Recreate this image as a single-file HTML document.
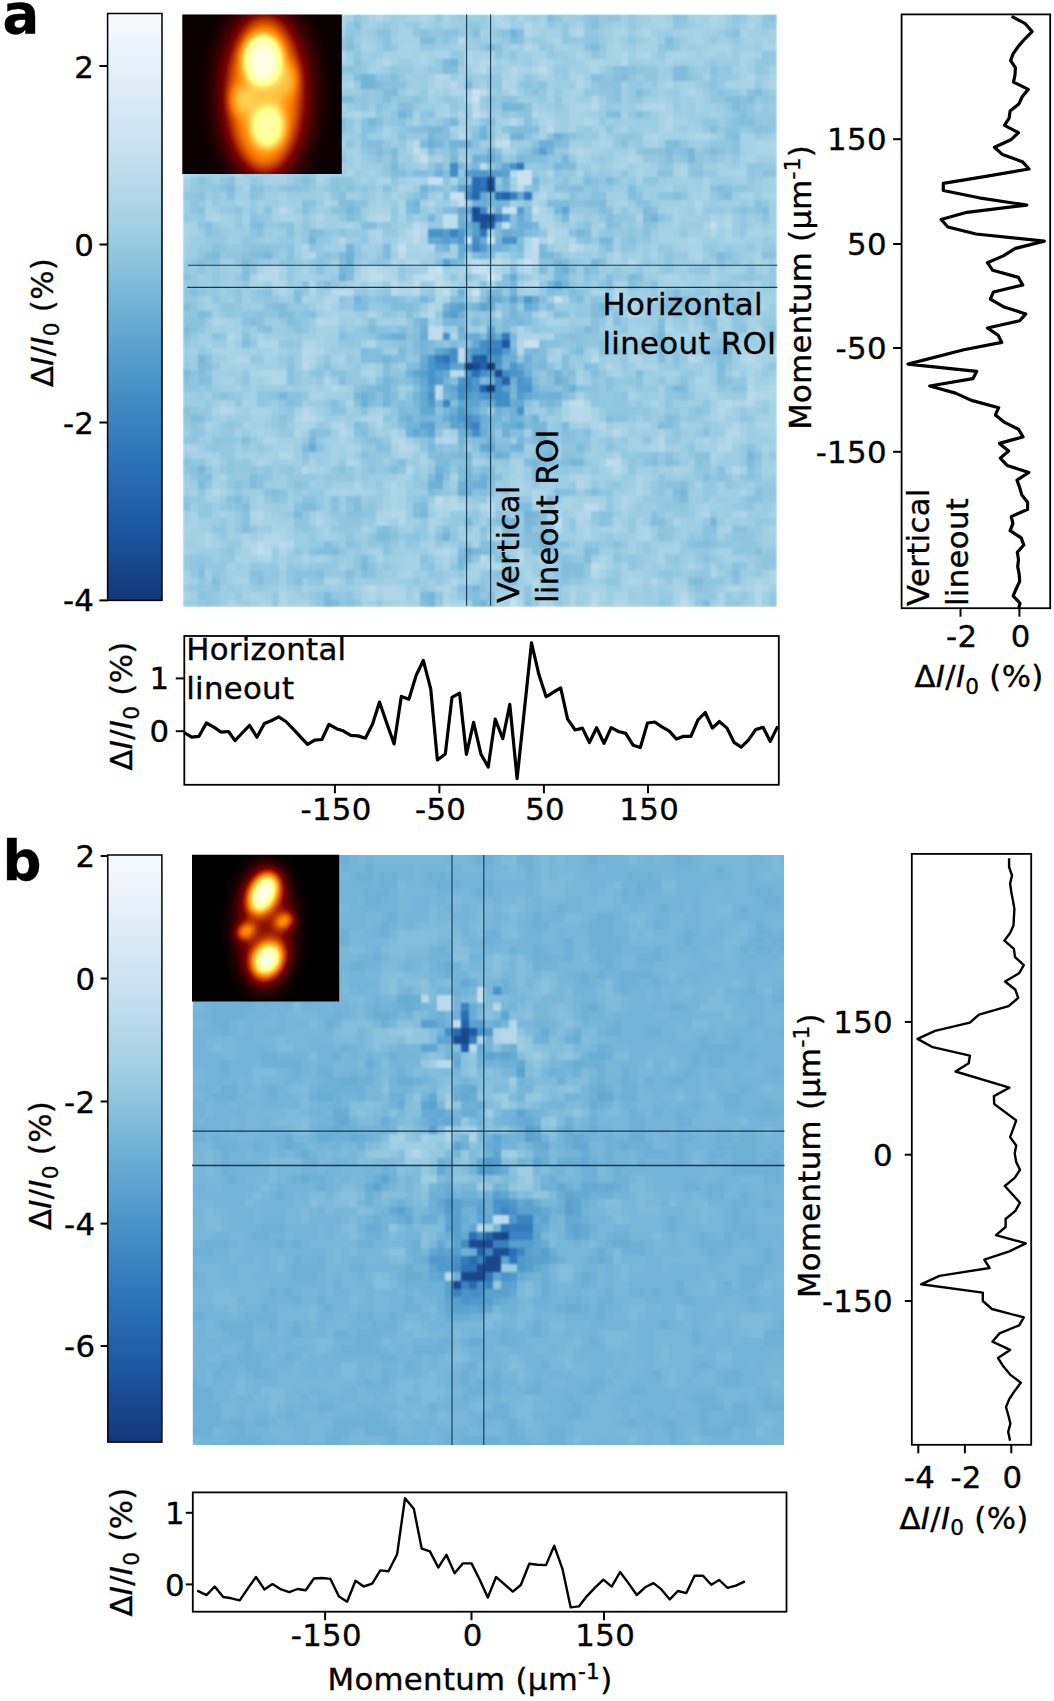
<!DOCTYPE html>
<html lang="en"><head><meta charset="utf-8"><title>Figure</title>
<style>html,body{margin:0;padding:0;background:#fff}svg{display:block}text{font-family:'DejaVu Sans','Liberation Sans',sans-serif;fill:#000;letter-spacing:0.30px;stroke:#000;stroke-width:0.35px}</style>
</head><body>
<svg width="1054" height="1701" viewBox="0 0 1054 1701">
<defs>
<linearGradient id="cb" x1="0" y1="0" x2="0" y2="1">
<stop offset="0.000" stop-color="#f7fbff"/>
<stop offset="0.125" stop-color="#deecf7"/>
<stop offset="0.250" stop-color="#c3dfef"/>
<stop offset="0.375" stop-color="#9ecee3"/>
<stop offset="0.500" stop-color="#70b2d7"/>
<stop offset="0.625" stop-color="#4a94c9"/>
<stop offset="0.750" stop-color="#2e75b9"/>
<stop offset="0.875" stop-color="#1c57a2"/>
<stop offset="1.000" stop-color="#143778"/>
</linearGradient>
<filter id="hot" x="0" y="0" width="1" height="1" color-interpolation-filters="sRGB"><feComponentTransfer><feFuncR type="table" tableValues="0 0.5 1 1 1"/><feFuncG type="table" tableValues="0 0 0.5 1 1"/><feFuncB type="table" tableValues="0 0 0 0.5 1"/></feComponentTransfer></filter>
<filter id="b2" x="-1" y="-1" width="3" height="3" color-interpolation-filters="sRGB"><feGaussianBlur stdDeviation="2"/></filter>
<filter id="b3" x="-1" y="-1" width="3" height="3" color-interpolation-filters="sRGB"><feGaussianBlur stdDeviation="3"/></filter>
<filter id="b4" x="-1" y="-1" width="3" height="3" color-interpolation-filters="sRGB"><feGaussianBlur stdDeviation="4"/></filter>
<filter id="b5" x="-1" y="-1" width="3" height="3" color-interpolation-filters="sRGB"><feGaussianBlur stdDeviation="5"/></filter>
<filter id="b6" x="-1" y="-1" width="3" height="3" color-interpolation-filters="sRGB"><feGaussianBlur stdDeviation="6"/></filter>
<filter id="b7" x="-1" y="-1" width="3" height="3" color-interpolation-filters="sRGB"><feGaussianBlur stdDeviation="7"/></filter>
<filter id="b8" x="-1" y="-1" width="3" height="3" color-interpolation-filters="sRGB"><feGaussianBlur stdDeviation="8"/></filter>
<filter id="b10" x="-1" y="-1" width="3" height="3" color-interpolation-filters="sRGB"><feGaussianBlur stdDeviation="10"/></filter>
<filter id="b12" x="-1" y="-1" width="3" height="3" color-interpolation-filters="sRGB"><feGaussianBlur stdDeviation="12"/></filter>
<filter id="b14" x="-1" y="-1" width="3" height="3" color-interpolation-filters="sRGB"><feGaussianBlur stdDeviation="14"/></filter>
<filter id="b16" x="-1" y="-1" width="3" height="3" color-interpolation-filters="sRGB"><feGaussianBlur stdDeviation="16"/></filter>
<filter id="b20" x="-1" y="-1" width="3" height="3" color-interpolation-filters="sRGB"><feGaussianBlur stdDeviation="20"/></filter>
<filter id="soft" x="-0.02" y="-0.02" width="1.04" height="1.04" color-interpolation-filters="sRGB"><feGaussianBlur stdDeviation="0.8"/></filter>
<clipPath id="ca"><rect x="182.3" y="14.4" width="159.5" height="159.7"/></clipPath>
<clipPath id="cbb"><rect x="192" y="854.7" width="147.2" height="146.9"/></clipPath>
</defs>
<rect width="1054" height="1701" fill="#fff"/>
<clipPath id="ha"><rect x="182.70" y="14.40" width="594.20" height="592.80"/></clipPath>
<g clip-path="url(#ha)"><g filter="url(#soft)"><g transform="translate(182.70 14.40) scale(7.4275 7.4100)" shape-rendering="crispEdges">
<rect width="80" height="80" fill="#9ccde2"/>
<path fill="#d0e5f3" d="M38 30h1v1h-1zM41 30h1v1h-1zM41 35h1v1h-1z"/>
<path fill="#c9e2f1" d="M39 10h1v1h-1zM39 11h1v1h-1zM45 21h2v1h-2zM45 22h2v1h-2zM36 24h1v1h-1zM44 26h1v1h-1zM46 33h1v1h-1zM34 34h1v1h-1zM40 34h1v1h-1zM39 37h1v1h-1zM46 44h2v1h-2z"/>
<path fill="#c6e0f0" d="M32 19h1v1h-1zM33 22h2v1h-2zM37 24h1v1h-1zM43 26h1v1h-1zM47 26h1v1h-1zM43 28h1v1h-1zM29 31h1v1h-1zM39 34h1v1h-1zM33 35h1v1h-1zM50 38h1v1h-1zM44 79h1v1h-1z"/>
<path fill="#c2deef" d="M39 13h1v1h-1zM43 17h1v1h-1zM31 18h1v1h-1zM37 25h1v1h-1zM71 28h1v1h-1zM31 29h1v1h-1zM47 30h1v1h-1zM47 31h1v1h-1zM33 34h1v1h-1zM26 35h1v1h-1zM35 37h1v1h-1zM37 45h1v1h-1zM53 52h1v1h-1zM57 60h1v1h-1zM50 68h1v1h-1zM10 72h1v1h-1z"/>
<path fill="#bddced" d="M18 0h2v1h-2zM10 3h1v1h-1zM48 7h1v1h-1zM40 10h1v1h-1zM42 17h1v1h-1zM40 20h1v1h-1zM35 27h2v1h-2zM35 28h2v1h-2zM31 30h1v1h-1zM49 30h1v1h-1zM52 31h1v1h-1zM47 32h1v1h-1zM39 33h1v1h-1zM42 33h1v1h-1zM47 33h1v1h-1zM25 34h1v1h-1zM41 34h1v1h-1zM10 35h1v1h-1zM25 35h1v1h-1zM32 35h1v1h-1zM34 35h1v1h-1zM42 35h1v1h-1zM31 36h1v1h-1zM34 36h1v1h-1zM21 37h1v1h-1zM33 42h2v1h-2zM33 43h2v1h-2zM37 46h1v1h-1zM36 48h1v1h-1zM34 50h1v1h-1zM34 51h1v1h-1zM52 52h1v1h-1zM58 60h1v1h-1zM34 65h1v1h-1zM54 66h1v1h-1zM10 71h1v1h-1zM55 74h1v1h-1zM44 78h1v1h-1zM67 79h1v1h-1z"/>
<path fill="#b8daec" d="M19 1h1v1h-1zM37 3h1v1h-1zM40 7h1v1h-1zM39 12h1v1h-1zM13 14h1v1h-1zM49 15h1v1h-1zM37 16h1v1h-1zM31 17h1v1h-1zM0 21h1v1h-1zM45 23h1v1h-1zM13 26h1v1h-1zM31 28h1v1h-1zM29 32h1v1h-1zM40 33h1v1h-1zM12 34h1v1h-1zM26 34h1v1h-1zM46 34h1v1h-1zM12 35h1v1h-1zM31 35h1v1h-1zM28 36h1v1h-1zM47 36h1v1h-1zM20 37h1v1h-1zM28 37h1v1h-1zM31 37h1v1h-1zM58 38h1v1h-1zM33 40h1v1h-1zM16 45h1v1h-1zM76 46h1v1h-1zM16 47h1v1h-1zM37 48h1v1h-1zM76 51h1v1h-1zM73 52h1v1h-1zM54 53h1v1h-1zM16 54h2v1h-2zM53 54h1v1h-1zM58 56h1v1h-1zM58 61h1v1h-1zM55 66h1v1h-1zM50 69h1v1h-1zM42 70h1v1h-1zM13 71h1v1h-1zM11 72h1v1h-1zM40 73h1v1h-1zM45 73h1v1h-1zM25 77h1v1h-1zM67 78h1v1h-1zM55 79h1v1h-1z"/>
<path fill="#b4d8ea" d="M20 0h1v1h-1zM26 0h1v1h-1zM42 0h1v1h-1zM18 1h1v1h-1zM43 1h1v1h-1zM46 1h1v1h-1zM53 2h1v1h-1zM7 3h1v1h-1zM9 3h1v1h-1zM46 4h1v1h-1zM15 6h1v1h-1zM27 6h1v1h-1zM40 6h1v1h-1zM13 7h1v1h-1zM44 7h1v1h-1zM34 8h1v1h-1zM36 9h1v1h-1zM53 9h1v1h-1zM18 10h1v1h-1zM44 10h1v1h-1zM55 12h1v1h-1zM64 12h1v1h-1zM40 13h1v1h-1zM47 13h1v1h-1zM44 14h1v1h-1zM65 14h1v1h-1zM19 15h1v1h-1zM53 18h1v1h-1zM60 19h1v1h-1zM0 20h1v1h-1zM19 20h1v1h-1zM44 21h1v1h-1zM48 24h1v1h-1zM33 25h1v1h-1zM26 27h2v1h-2zM73 28h1v1h-1zM30 29h1v1h-1zM32 29h1v1h-1zM49 29h1v1h-1zM33 31h1v1h-1zM53 31h1v1h-1zM17 32h1v1h-1zM46 32h1v1h-1zM38 33h1v1h-1zM43 33h1v1h-1zM45 33h1v1h-1zM60 33h1v1h-1zM11 34h1v1h-1zM11 35h1v1h-1zM24 35h1v1h-1zM27 35h1v1h-1zM12 36h1v1h-1zM35 36h1v1h-1zM46 36h1v1h-1zM22 37h1v1h-1zM34 37h1v1h-1zM58 37h1v1h-1zM19 38h1v1h-1zM33 39h1v1h-1zM60 39h1v1h-1zM48 40h1v1h-1zM60 40h1v1h-1zM18 41h1v1h-1zM45 44h1v1h-1zM17 45h1v1h-1zM45 45h1v1h-1zM16 46h1v1h-1zM55 46h1v1h-1zM68 46h1v1h-1zM12 48h1v1h-1zM12 49h1v1h-1zM20 50h1v1h-1zM77 51h1v1h-1zM76 52h1v1h-1zM5 53h1v1h-1zM16 53h1v1h-1zM52 53h2v1h-2zM72 53h1v1h-1zM52 54h1v1h-1zM54 54h1v1h-1zM56 55h1v1h-1zM21 56h1v1h-1zM73 56h2v1h-2zM29 57h1v1h-1zM35 57h1v1h-1zM64 57h1v1h-1zM73 57h1v1h-1zM29 58h2v1h-2zM72 58h2v1h-2zM13 59h1v1h-1zM16 61h1v1h-1zM74 61h1v1h-1zM53 63h1v1h-1zM4 64h1v1h-1zM36 65h1v1h-1zM44 65h1v1h-1zM34 66h1v1h-1zM36 66h1v1h-1zM40 66h2v1h-2zM10 67h1v1h-1zM28 67h2v1h-2zM54 67h1v1h-1zM12 70h1v1h-1zM11 71h1v1h-1zM14 71h1v1h-1zM9 72h1v1h-1zM35 72h1v1h-1zM45 72h1v1h-1zM41 74h2v1h-2zM56 74h1v1h-1zM55 75h1v1h-1zM77 77h1v1h-1zM55 78h1v1h-1zM77 78h1v1h-1zM77 79h1v1h-1z"/>
<path fill="#afd6e9" d="M32 0h1v1h-1zM71 0h1v1h-1zM20 1h1v1h-1zM6 2h1v1h-1zM46 2h1v1h-1zM62 2h1v1h-1zM14 3h1v1h-1zM14 4h1v1h-1zM21 5h1v1h-1zM38 5h1v1h-1zM59 5h1v1h-1zM62 5h1v1h-1zM6 6h1v1h-1zM38 6h1v1h-1zM41 6h1v1h-1zM48 6h1v1h-1zM59 6h1v1h-1zM15 7h2v1h-2zM39 7h1v1h-1zM47 7h1v1h-1zM55 7h1v1h-1zM35 8h1v1h-1zM44 8h1v1h-1zM53 8h1v1h-1zM76 8h1v1h-1zM2 9h1v1h-1zM13 9h1v1h-1zM22 9h1v1h-1zM34 9h1v1h-1zM43 9h1v1h-1zM65 9h1v1h-1zM79 9h1v1h-1zM10 10h1v1h-1zM17 10h1v1h-1zM36 10h2v1h-2zM68 10h1v1h-1zM38 11h1v1h-1zM55 11h1v1h-1zM53 12h1v1h-1zM62 12h2v1h-2zM3 13h1v1h-1zM13 13h2v1h-2zM23 13h1v1h-1zM14 14h1v1h-1zM49 14h1v1h-1zM54 14h1v1h-1zM37 15h1v1h-1zM65 15h1v1h-1zM10 16h1v1h-1zM63 16h1v1h-1zM69 16h2v1h-2zM77 17h1v1h-1zM79 17h1v1h-1zM15 18h1v1h-1zM32 18h1v1h-1zM31 19h1v1h-1zM20 20h1v1h-1zM1 21h1v1h-1zM7 21h1v1h-1zM12 21h2v1h-2zM18 21h2v1h-2zM49 21h1v1h-1zM67 21h1v1h-1zM29 23h1v1h-1zM19 25h1v1h-1zM47 25h1v1h-1zM69 25h1v1h-1zM4 27h1v1h-1zM18 27h1v1h-1zM25 27h1v1h-1zM47 27h2v1h-2zM73 27h1v1h-1zM32 28h1v1h-1zM49 28h1v1h-1zM26 29h1v1h-1zM50 29h1v1h-1zM71 29h1v1h-1zM21 30h1v1h-1zM26 30h1v1h-1zM29 30h2v1h-2zM52 30h1v1h-1zM68 30h1v1h-1zM16 31h1v1h-1zM32 31h1v1h-1zM46 31h1v1h-1zM58 32h1v1h-1zM69 32h1v1h-1zM28 33h1v1h-1zM30 33h2v1h-2zM41 33h1v1h-1zM24 34h1v1h-1zM27 34h1v1h-1zM42 34h1v1h-1zM28 35h1v1h-1zM40 35h1v1h-1zM66 35h1v1h-1zM13 36h1v1h-1zM17 36h1v1h-1zM25 36h1v1h-1zM13 37h1v1h-1zM17 37h1v1h-1zM29 37h2v1h-2zM38 37h1v1h-1zM20 38h1v1h-1zM34 38h1v1h-1zM19 39h1v1h-1zM25 40h1v1h-1zM42 40h1v1h-1zM72 40h1v1h-1zM4 41h1v1h-1zM19 41h2v1h-2zM45 42h1v1h-1zM65 42h1v1h-1zM77 42h1v1h-1zM6 43h1v1h-1zM36 43h1v1h-1zM47 43h1v1h-1zM67 43h1v1h-1zM10 44h3v1h-3zM16 44h2v1h-2zM25 44h1v1h-1zM18 45h1v1h-1zM79 45h1v1h-1zM7 46h2v1h-2zM17 46h1v1h-1zM69 46h1v1h-1zM75 46h1v1h-1zM57 47h1v1h-1zM77 47h1v1h-1zM10 48h2v1h-2zM13 48h1v1h-1zM25 48h1v1h-1zM13 49h1v1h-1zM19 49h1v1h-1zM76 50h1v1h-1zM79 50h1v1h-1zM78 51h2v1h-2zM54 52h1v1h-1zM72 52h1v1h-1zM74 52h2v1h-2zM6 53h1v1h-1zM15 54h1v1h-1zM25 54h2v1h-2zM16 55h1v1h-1zM20 55h2v1h-2zM26 55h1v1h-1zM55 55h1v1h-1zM74 55h1v1h-1zM78 55h1v1h-1zM15 56h1v1h-1zM28 56h1v1h-1zM11 57h1v1h-1zM28 57h1v1h-1zM34 57h1v1h-1zM36 57h1v1h-1zM64 58h1v1h-1zM14 59h1v1h-1zM10 60h1v1h-1zM22 60h1v1h-1zM30 61h1v1h-1zM53 62h1v1h-1zM23 63h1v1h-1zM28 63h1v1h-1zM45 63h1v1h-1zM28 64h1v1h-1zM47 64h1v1h-1zM61 64h1v1h-1zM47 65h1v1h-1zM59 65h1v1h-1zM35 66h1v1h-1zM37 66h1v1h-1zM43 66h2v1h-2zM59 66h1v1h-1zM9 67h1v1h-1zM27 67h1v1h-1zM41 67h1v1h-1zM50 67h1v1h-1zM53 67h1v1h-1zM70 67h1v1h-1zM75 67h1v1h-1zM10 68h1v1h-1zM18 68h1v1h-1zM26 68h1v1h-1zM29 68h1v1h-1zM53 68h1v1h-1zM54 69h1v1h-1zM3 70h1v1h-1zM11 70h1v1h-1zM54 70h1v1h-1zM62 70h1v1h-1zM3 71h1v1h-1zM8 71h2v1h-2zM12 71h1v1h-1zM13 72h1v1h-1zM34 72h1v1h-1zM11 73h1v1h-1zM48 73h1v1h-1zM46 75h1v1h-1zM79 75h1v1h-1zM36 76h1v1h-1zM47 76h1v1h-1zM60 76h1v1h-1zM63 76h1v1h-1zM24 77h1v1h-1zM27 77h2v1h-2zM35 77h1v1h-1zM47 77h1v1h-1zM74 77h1v1h-1zM78 77h1v1h-1zM13 78h1v1h-1zM25 78h1v1h-1zM27 78h3v1h-3zM52 78h1v1h-1zM13 79h1v1h-1zM35 79h1v1h-1zM45 79h1v1h-1zM48 79h1v1h-1zM58 79h2v1h-2z"/>
<path fill="#aad4e7" d="M5 0h1v1h-1zM16 0h2v1h-2zM21 0h1v1h-1zM25 0h1v1h-1zM35 0h1v1h-1zM43 0h1v1h-1zM45 0h1v1h-1zM63 0h2v1h-2zM72 0h1v1h-1zM5 1h1v1h-1zM21 1h1v1h-1zM42 1h1v1h-1zM48 1h1v1h-1zM53 1h1v1h-1zM64 1h1v1h-1zM71 1h1v1h-1zM76 1h1v1h-1zM10 2h1v1h-1zM14 2h1v1h-1zM47 2h1v1h-1zM52 2h1v1h-1zM58 2h2v1h-2zM69 2h1v1h-1zM8 3h1v1h-1zM15 3h1v1h-1zM50 3h1v1h-1zM69 3h1v1h-1zM15 4h1v1h-1zM24 4h1v1h-1zM30 4h1v1h-1zM47 4h1v1h-1zM51 4h1v1h-1zM58 4h1v1h-1zM72 4h2v1h-2zM78 4h2v1h-2zM5 5h2v1h-2zM15 5h1v1h-1zM32 5h1v1h-1zM34 5h2v1h-2zM40 5h1v1h-1zM53 5h1v1h-1zM58 5h1v1h-1zM61 5h1v1h-1zM66 5h2v1h-2zM75 5h2v1h-2zM5 6h1v1h-1zM12 6h1v1h-1zM21 6h1v1h-1zM26 6h1v1h-1zM32 6h1v1h-1zM39 6h1v1h-1zM49 6h1v1h-1zM54 6h3v1h-3zM65 6h1v1h-1zM75 6h1v1h-1zM12 7h1v1h-1zM45 7h1v1h-1zM49 7h1v1h-1zM2 8h1v1h-1zM12 8h2v1h-2zM43 8h1v1h-1zM48 8h1v1h-1zM52 8h1v1h-1zM79 8h1v1h-1zM8 9h3v1h-3zM21 9h1v1h-1zM35 9h1v1h-1zM44 9h1v1h-1zM75 9h2v1h-2zM33 10h1v1h-1zM38 10h1v1h-1zM52 10h1v1h-1zM17 11h1v1h-1zM52 11h1v1h-1zM2 12h2v1h-2zM52 12h1v1h-1zM54 12h1v1h-1zM65 12h1v1h-1zM22 13h1v1h-1zM35 13h1v1h-1zM37 13h1v1h-1zM48 13h1v1h-1zM52 13h2v1h-2zM65 13h1v1h-1zM15 14h1v1h-1zM19 14h1v1h-1zM48 14h1v1h-1zM52 14h1v1h-1zM55 14h1v1h-1zM0 15h1v1h-1zM18 15h1v1h-1zM20 15h1v1h-1zM9 16h1v1h-1zM43 16h1v1h-1zM56 16h1v1h-1zM62 16h1v1h-1zM68 16h1v1h-1zM2 17h1v1h-1zM13 17h1v1h-1zM17 17h1v1h-1zM30 17h1v1h-1zM56 17h2v1h-2zM63 17h1v1h-1zM78 17h1v1h-1zM14 18h1v1h-1zM43 18h1v1h-1zM52 18h1v1h-1zM54 18h1v1h-1zM60 18h1v1h-1zM77 18h3v1h-3zM19 19h1v1h-1zM53 19h1v1h-1zM59 19h1v1h-1zM61 19h1v1h-1zM76 19h1v1h-1zM1 20h1v1h-1zM16 20h3v1h-3zM58 20h2v1h-2zM67 20h1v1h-1zM22 21h1v1h-1zM53 21h1v1h-1zM61 21h1v1h-1zM74 21h2v1h-2zM18 22h1v1h-1zM26 22h2v1h-2zM31 22h1v1h-1zM36 22h1v1h-1zM70 22h1v1h-1zM30 23h1v1h-1zM70 24h1v1h-1zM79 24h1v1h-1zM29 25h1v1h-1zM36 25h1v1h-1zM59 25h1v1h-1zM14 26h1v1h-1zM26 26h2v1h-2zM29 26h1v1h-1zM48 26h1v1h-1zM66 26h1v1h-1zM69 26h1v1h-1zM13 27h2v1h-2zM49 27h1v1h-1zM52 27h1v1h-1zM61 27h1v1h-1zM66 27h1v1h-1zM71 27h1v1h-1zM0 28h1v1h-1zM22 28h1v1h-1zM48 28h1v1h-1zM70 28h1v1h-1zM72 28h1v1h-1zM0 29h1v1h-1zM25 29h1v1h-1zM51 29h1v1h-1zM73 29h1v1h-1zM76 29h2v1h-2zM32 30h1v1h-1zM46 30h1v1h-1zM48 30h1v1h-1zM50 30h1v1h-1zM69 30h1v1h-1zM73 30h1v1h-1zM28 31h1v1h-1zM30 31h2v1h-2zM68 31h2v1h-2zM16 32h1v1h-1zM32 32h1v1h-1zM42 32h1v1h-1zM63 32h1v1h-1zM68 32h1v1h-1zM58 33h1v1h-1zM77 33h1v1h-1zM10 34h1v1h-1zM13 34h1v1h-1zM16 34h1v1h-1zM28 34h1v1h-1zM37 34h2v1h-2zM45 34h1v1h-1zM9 35h1v1h-1zM23 35h1v1h-1zM35 35h1v1h-1zM47 35h1v1h-1zM65 35h1v1h-1zM71 35h1v1h-1zM9 36h2v1h-2zM23 36h1v1h-1zM26 36h1v1h-1zM29 36h2v1h-2zM36 36h1v1h-1zM39 36h1v1h-1zM67 36h1v1h-1zM55 37h2v1h-2zM59 37h1v1h-1zM64 37h1v1h-1zM16 38h1v1h-1zM39 38h1v1h-1zM51 38h1v1h-1zM59 38h1v1h-1zM18 39h1v1h-1zM34 39h1v1h-1zM77 39h2v1h-2zM20 40h1v1h-1zM32 40h1v1h-1zM61 40h1v1h-1zM5 41h1v1h-1zM49 41h1v1h-1zM57 41h1v1h-1zM68 42h1v1h-1zM73 42h1v1h-1zM10 43h1v1h-1zM45 43h2v1h-2zM48 43h2v1h-2zM66 43h1v1h-1zM70 43h1v1h-1zM77 43h1v1h-1zM6 44h1v1h-1zM62 44h1v1h-1zM5 45h2v1h-2zM12 45h1v1h-1zM50 45h1v1h-1zM55 45h1v1h-1zM68 45h1v1h-1zM75 45h2v1h-2zM6 46h1v1h-1zM21 46h1v1h-1zM60 46h2v1h-2zM77 46h1v1h-1zM17 47h1v1h-1zM61 47h3v1h-3zM76 47h1v1h-1zM9 48h1v1h-1zM24 48h1v1h-1zM58 48h1v1h-1zM74 48h1v1h-1zM76 48h1v1h-1zM11 49h1v1h-1zM53 49h1v1h-1zM69 49h2v1h-2zM76 49h1v1h-1zM21 50h1v1h-1zM77 50h2v1h-2zM17 51h2v1h-2zM60 51h1v1h-1zM71 51h1v1h-1zM5 52h1v1h-1zM8 52h1v1h-1zM22 52h1v1h-1zM51 52h1v1h-1zM63 52h1v1h-1zM79 52h1v1h-1zM4 53h1v1h-1zM9 53h2v1h-2zM17 53h1v1h-1zM73 53h1v1h-1zM18 54h1v1h-1zM24 54h1v1h-1zM51 54h1v1h-1zM55 54h1v1h-1zM72 54h1v1h-1zM79 54h1v1h-1zM3 55h1v1h-1zM15 55h1v1h-1zM17 55h1v1h-1zM61 55h2v1h-2zM77 55h1v1h-1zM79 55h1v1h-1zM10 56h1v1h-1zM22 56h1v1h-1zM35 56h1v1h-1zM56 56h1v1h-1zM59 56h1v1h-1zM64 56h1v1h-1zM12 57h1v1h-1zM21 57h1v1h-1zM70 57h1v1h-1zM72 57h1v1h-1zM74 57h1v1h-1zM0 58h2v1h-2zM14 58h1v1h-1zM22 58h1v1h-1zM31 58h1v1h-1zM63 58h1v1h-1zM78 58h1v1h-1zM3 59h1v1h-1zM29 59h2v1h-2zM58 59h1v1h-1zM71 59h1v1h-1zM4 60h1v1h-1zM23 60h1v1h-1zM32 60h1v1h-1zM39 60h1v1h-1zM17 61h1v1h-1zM45 61h1v1h-1zM66 61h1v1h-1zM75 61h1v1h-1zM5 62h1v1h-1zM36 62h1v1h-1zM52 62h1v1h-1zM54 62h1v1h-1zM61 62h1v1h-1zM44 63h1v1h-1zM61 63h1v1h-1zM5 64h1v1h-1zM20 64h4v1h-4zM29 64h1v1h-1zM48 64h1v1h-1zM75 64h1v1h-1zM28 65h1v1h-1zM35 65h1v1h-1zM41 65h1v1h-1zM51 65h1v1h-1zM60 65h1v1h-1zM28 66h1v1h-1zM50 66h2v1h-2zM56 66h1v1h-1zM70 66h1v1h-1zM18 67h1v1h-1zM26 67h1v1h-1zM34 67h2v1h-2zM74 67h1v1h-1zM1 68h1v1h-1zM9 68h1v1h-1zM27 68h1v1h-1zM33 68h1v1h-1zM54 68h1v1h-1zM58 68h1v1h-1zM66 68h1v1h-1zM0 69h1v1h-1zM12 69h2v1h-2zM24 69h1v1h-1zM33 69h1v1h-1zM42 69h1v1h-1zM58 69h1v1h-1zM61 69h2v1h-2zM73 69h1v1h-1zM8 70h1v1h-1zM13 70h1v1h-1zM41 70h1v1h-1zM61 70h1v1h-1zM36 72h1v1h-1zM64 72h1v1h-1zM7 73h1v1h-1zM10 73h1v1h-1zM16 73h1v1h-1zM26 73h1v1h-1zM35 73h1v1h-1zM56 73h1v1h-1zM64 73h1v1h-1zM35 74h1v1h-1zM39 74h2v1h-2zM45 74h1v1h-1zM68 74h1v1h-1zM29 75h2v1h-2zM39 75h1v1h-1zM56 75h1v1h-1zM71 75h1v1h-1zM19 76h2v1h-2zM38 76h1v1h-1zM46 76h1v1h-1zM61 76h1v1h-1zM77 76h1v1h-1zM79 76h1v1h-1zM26 77h1v1h-1zM29 77h1v1h-1zM34 77h1v1h-1zM66 77h2v1h-2zM73 77h1v1h-1zM76 77h1v1h-1zM9 78h1v1h-1zM31 78h1v1h-1zM35 78h1v1h-1zM45 78h1v1h-1zM56 78h1v1h-1zM58 78h2v1h-2zM72 78h1v1h-1zM6 79h1v1h-1zM10 79h2v1h-2zM16 79h1v1h-1zM29 79h1v1h-1zM36 79h2v1h-2zM42 79h1v1h-1zM49 79h1v1h-1zM52 79h1v1h-1zM66 79h1v1h-1zM68 79h1v1h-1zM72 79h1v1h-1z"/>
<path fill="#a6d2e5" d="M3 0h2v1h-2zM22 0h1v1h-1zM27 0h1v1h-1zM30 0h2v1h-2zM33 0h1v1h-1zM41 0h1v1h-1zM48 0h1v1h-1zM69 0h1v1h-1zM76 0h2v1h-2zM4 1h1v1h-1zM6 1h1v1h-1zM16 1h2v1h-2zM25 1h1v1h-1zM32 1h1v1h-1zM35 1h1v1h-1zM47 1h1v1h-1zM59 1h1v1h-1zM62 1h2v1h-2zM65 1h1v1h-1zM70 1h1v1h-1zM72 1h1v1h-1zM0 2h1v1h-1zM3 2h3v1h-3zM15 2h1v1h-1zM19 2h2v1h-2zM29 2h2v1h-2zM40 2h1v1h-1zM49 2h1v1h-1zM61 2h1v1h-1zM67 2h2v1h-2zM75 2h1v1h-1zM79 2h1v1h-1zM6 3h1v1h-1zM11 3h1v1h-1zM24 3h1v1h-1zM29 3h3v1h-3zM49 3h1v1h-1zM58 3h1v1h-1zM63 3h1v1h-1zM68 3h1v1h-1zM76 3h1v1h-1zM78 3h1v1h-1zM7 4h1v1h-1zM25 4h1v1h-1zM29 4h1v1h-1zM31 4h1v1h-1zM37 4h1v1h-1zM44 4h1v1h-1zM50 4h1v1h-1zM57 4h1v1h-1zM61 4h3v1h-3zM71 4h1v1h-1zM14 5h1v1h-1zM27 5h5v1h-5zM33 5h1v1h-1zM39 5h1v1h-1zM41 5h1v1h-1zM47 5h2v1h-2zM57 5h1v1h-1zM65 5h1v1h-1zM68 5h1v1h-1zM70 5h2v1h-2zM73 5h1v1h-1zM77 5h1v1h-1zM7 6h2v1h-2zM13 6h1v1h-1zM19 6h2v1h-2zM28 6h1v1h-1zM31 6h1v1h-1zM43 6h1v1h-1zM47 6h1v1h-1zM57 6h2v1h-2zM69 6h1v1h-1zM0 7h1v1h-1zM5 7h1v1h-1zM17 7h1v1h-1zM25 7h2v1h-2zM43 7h1v1h-1zM46 7h1v1h-1zM52 7h1v1h-1zM75 7h1v1h-1zM79 7h1v1h-1zM0 8h1v1h-1zM3 8h1v1h-1zM11 8h1v1h-1zM14 8h1v1h-1zM17 8h1v1h-1zM33 8h1v1h-1zM37 8h1v1h-1zM45 8h1v1h-1zM49 8h1v1h-1zM70 8h1v1h-1zM75 8h1v1h-1zM1 9h1v1h-1zM11 9h2v1h-2zM14 9h1v1h-1zM17 9h2v1h-2zM33 9h1v1h-1zM37 9h1v1h-1zM40 9h1v1h-1zM54 9h1v1h-1zM64 9h1v1h-1zM67 9h2v1h-2zM73 9h2v1h-2zM78 9h1v1h-1zM11 10h1v1h-1zM14 10h1v1h-1zM19 10h1v1h-1zM30 10h1v1h-1zM34 10h1v1h-1zM43 10h1v1h-1zM49 10h1v1h-1zM51 10h1v1h-1zM53 10h1v1h-1zM67 10h1v1h-1zM69 10h1v1h-1zM11 11h1v1h-1zM14 11h1v1h-1zM18 11h2v1h-2zM33 11h1v1h-1zM49 11h1v1h-1zM51 11h1v1h-1zM64 11h1v1h-1zM69 11h1v1h-1zM12 12h1v1h-1zM14 12h1v1h-1zM17 12h1v1h-1zM19 12h3v1h-3zM35 12h1v1h-1zM47 12h1v1h-1zM61 12h1v1h-1zM69 12h1v1h-1zM7 13h3v1h-3zM15 13h1v1h-1zM24 13h2v1h-2zM31 13h1v1h-1zM34 13h1v1h-1zM49 13h1v1h-1zM59 13h1v1h-1zM64 13h1v1h-1zM71 13h1v1h-1zM3 14h1v1h-1zM6 14h2v1h-2zM31 14h1v1h-1zM39 14h1v1h-1zM43 14h1v1h-1zM45 14h1v1h-1zM53 14h1v1h-1zM64 14h1v1h-1zM66 14h2v1h-2zM4 15h2v1h-2zM10 15h2v1h-2zM17 15h1v1h-1zM23 15h1v1h-1zM27 15h1v1h-1zM36 15h1v1h-1zM48 15h1v1h-1zM52 15h1v1h-1zM56 15h1v1h-1zM59 15h1v1h-1zM64 15h1v1h-1zM68 15h1v1h-1zM11 16h1v1h-1zM27 16h1v1h-1zM42 16h1v1h-1zM48 16h1v1h-1zM64 16h4v1h-4zM71 16h1v1h-1zM75 16h2v1h-2zM3 17h1v1h-1zM6 17h1v1h-1zM18 17h1v1h-1zM21 17h1v1h-1zM55 17h1v1h-1zM62 17h1v1h-1zM75 17h2v1h-2zM1 18h1v1h-1zM4 18h3v1h-3zM22 18h2v1h-2zM30 18h1v1h-1zM44 18h1v1h-1zM55 18h1v1h-1zM76 18h1v1h-1zM11 19h1v1h-1zM14 19h1v1h-1zM23 19h1v1h-1zM34 19h1v1h-1zM54 19h1v1h-1zM58 19h1v1h-1zM75 19h1v1h-1zM6 20h1v1h-1zM23 20h1v1h-1zM32 20h1v1h-1zM55 20h1v1h-1zM61 20h2v1h-2zM66 20h1v1h-1zM72 20h1v1h-1zM75 20h1v1h-1zM2 21h1v1h-1zM4 21h1v1h-1zM9 21h3v1h-3zM14 21h1v1h-1zM20 21h1v1h-1zM25 21h1v1h-1zM66 21h1v1h-1zM72 21h2v1h-2zM0 22h1v1h-1zM7 22h2v1h-2zM11 22h3v1h-3zM24 22h1v1h-1zM30 22h1v1h-1zM32 22h1v1h-1zM61 22h1v1h-1zM79 22h1v1h-1zM8 23h1v1h-1zM48 23h2v1h-2zM65 23h1v1h-1zM68 23h1v1h-1zM70 23h1v1h-1zM13 24h1v1h-1zM19 24h1v1h-1zM26 24h1v1h-1zM28 24h1v1h-1zM34 24h1v1h-1zM47 24h1v1h-1zM50 24h1v1h-1zM69 24h1v1h-1zM75 24h2v1h-2zM78 24h1v1h-1zM3 25h1v1h-1zM7 25h2v1h-2zM10 25h1v1h-1zM13 25h1v1h-1zM26 25h1v1h-1zM32 25h1v1h-1zM48 25h1v1h-1zM58 25h1v1h-1zM67 25h1v1h-1zM3 26h1v1h-1zM12 26h1v1h-1zM25 26h1v1h-1zM65 26h1v1h-1zM3 27h1v1h-1zM5 27h1v1h-1zM8 27h1v1h-1zM12 27h1v1h-1zM15 27h1v1h-1zM29 27h1v1h-1zM72 27h1v1h-1zM1 28h1v1h-1zM18 28h1v1h-1zM21 28h1v1h-1zM50 28h1v1h-1zM56 28h1v1h-1zM66 28h1v1h-1zM77 28h1v1h-1zM1 29h1v1h-1zM29 29h1v1h-1zM55 29h1v1h-1zM64 29h2v1h-2zM70 29h1v1h-1zM78 29h2v1h-2zM0 30h1v1h-1zM25 30h1v1h-1zM51 30h1v1h-1zM64 30h4v1h-4zM74 30h1v1h-1zM24 31h1v1h-1zM36 31h1v1h-1zM50 31h2v1h-2zM54 31h2v1h-2zM63 31h1v1h-1zM67 31h1v1h-1zM30 32h2v1h-2zM38 32h1v1h-1zM61 32h1v1h-1zM77 32h1v1h-1zM29 33h1v1h-1zM61 33h1v1h-1zM69 33h1v1h-1zM78 33h1v1h-1zM32 34h1v1h-1zM36 34h1v1h-1zM43 34h1v1h-1zM47 34h1v1h-1zM63 34h1v1h-1zM71 34h1v1h-1zM74 34h1v1h-1zM78 34h1v1h-1zM13 35h1v1h-1zM16 35h2v1h-2zM30 35h1v1h-1zM37 35h1v1h-1zM64 35h1v1h-1zM68 35h1v1h-1zM41 36h1v1h-1zM45 36h1v1h-1zM58 36h2v1h-2zM64 36h3v1h-3zM70 36h2v1h-2zM75 36h1v1h-1zM77 36h1v1h-1zM14 37h1v1h-1zM46 37h2v1h-2zM71 37h1v1h-1zM3 38h1v1h-1zM17 38h1v1h-1zM35 38h1v1h-1zM70 38h2v1h-2zM78 38h2v1h-2zM3 39h1v1h-1zM20 39h1v1h-1zM59 39h1v1h-1zM61 39h1v1h-1zM19 40h1v1h-1zM21 40h2v1h-2zM59 40h1v1h-1zM77 40h1v1h-1zM6 41h1v1h-1zM23 41h1v1h-1zM27 41h1v1h-1zM29 41h1v1h-1zM33 41h1v1h-1zM50 41h2v1h-2zM65 41h1v1h-1zM68 41h1v1h-1zM72 41h2v1h-2zM76 41h1v1h-1zM4 42h1v1h-1zM6 42h2v1h-2zM18 42h3v1h-3zM57 42h1v1h-1zM60 42h2v1h-2zM69 42h1v1h-1zM76 42h1v1h-1zM7 43h1v1h-1zM18 43h1v1h-1zM59 43h2v1h-2zM62 43h1v1h-1zM68 43h2v1h-2zM3 44h1v1h-1zM18 44h1v1h-1zM24 44h1v1h-1zM59 44h2v1h-2zM66 44h2v1h-2zM75 44h1v1h-1zM1 45h1v1h-1zM4 45h1v1h-1zM7 45h1v1h-1zM9 45h1v1h-1zM11 45h1v1h-1zM60 45h1v1h-1zM77 45h2v1h-2zM11 46h1v1h-1zM20 46h1v1h-1zM49 46h2v1h-2zM78 46h1v1h-1zM5 47h5v1h-5zM25 47h1v1h-1zM58 47h1v1h-1zM75 47h1v1h-1zM53 48h1v1h-1zM65 48h2v1h-2zM70 48h1v1h-1zM77 48h1v1h-1zM5 49h2v1h-2zM9 49h1v1h-1zM79 49h1v1h-1zM7 50h1v1h-1zM17 50h1v1h-1zM19 50h1v1h-1zM64 50h1v1h-1zM69 50h3v1h-3zM9 51h1v1h-1zM53 51h1v1h-1zM6 52h1v1h-1zM9 52h1v1h-1zM7 53h1v1h-1zM11 53h1v1h-1zM15 53h1v1h-1zM26 53h1v1h-1zM51 53h1v1h-1zM55 53h1v1h-1zM71 53h1v1h-1zM79 53h1v1h-1zM5 54h1v1h-1zM9 54h2v1h-2zM71 54h1v1h-1zM77 54h2v1h-2zM8 55h1v1h-1zM10 55h1v1h-1zM53 55h1v1h-1zM58 55h2v1h-2zM67 55h1v1h-1zM73 55h1v1h-1zM75 55h1v1h-1zM7 56h1v1h-1zM9 56h1v1h-1zM11 56h1v1h-1zM16 56h1v1h-1zM36 56h1v1h-1zM57 56h1v1h-1zM75 56h1v1h-1zM78 56h2v1h-2zM60 57h1v1h-1zM63 57h1v1h-1zM69 57h1v1h-1zM75 57h1v1h-1zM12 58h2v1h-2zM20 58h1v1h-1zM23 58h1v1h-1zM28 58h1v1h-1zM60 58h3v1h-3zM66 58h1v1h-1zM70 58h2v1h-2zM79 58h1v1h-1zM1 59h2v1h-2zM4 59h1v1h-1zM7 59h3v1h-3zM11 59h2v1h-2zM20 59h1v1h-1zM22 59h1v1h-1zM32 59h1v1h-1zM72 59h1v1h-1zM11 60h1v1h-1zM17 60h1v1h-1zM20 60h1v1h-1zM44 60h2v1h-2zM56 60h1v1h-1zM71 60h1v1h-1zM78 60h1v1h-1zM18 61h1v1h-1zM57 61h1v1h-1zM59 61h1v1h-1zM67 61h1v1h-1zM78 61h2v1h-2zM29 62h2v1h-2zM44 62h2v1h-2zM58 62h1v1h-1zM62 62h1v1h-1zM4 63h1v1h-1zM27 63h1v1h-1zM29 63h1v1h-1zM49 63h1v1h-1zM54 63h1v1h-1zM69 63h1v1h-1zM1 64h1v1h-1zM3 64h1v1h-1zM19 64h1v1h-1zM24 64h2v1h-2zM44 64h3v1h-3zM60 64h1v1h-1zM62 64h1v1h-1zM3 65h2v1h-2zM10 65h1v1h-1zM27 65h1v1h-1zM29 65h1v1h-1zM43 65h1v1h-1zM48 65h1v1h-1zM52 65h1v1h-1zM54 65h3v1h-3zM58 65h1v1h-1zM10 66h1v1h-1zM27 66h1v1h-1zM29 66h1v1h-1zM33 66h1v1h-1zM38 66h1v1h-1zM47 66h2v1h-2zM52 66h2v1h-2zM1 67h1v1h-1zM5 67h1v1h-1zM11 67h1v1h-1zM49 67h1v1h-1zM52 67h1v1h-1zM59 67h1v1h-1zM69 67h1v1h-1zM79 67h1v1h-1zM11 68h2v1h-2zM14 68h1v1h-1zM34 68h1v1h-1zM61 68h1v1h-1zM73 68h1v1h-1zM1 69h1v1h-1zM19 69h1v1h-1zM30 69h1v1h-1zM37 69h1v1h-1zM39 69h1v1h-1zM53 69h1v1h-1zM56 69h2v1h-2zM59 69h1v1h-1zM72 69h1v1h-1zM79 69h1v1h-1zM0 70h1v1h-1zM2 70h1v1h-1zM10 70h1v1h-1zM14 70h1v1h-1zM19 70h1v1h-1zM38 70h2v1h-2zM44 70h1v1h-1zM53 70h1v1h-1zM2 71h1v1h-1zM4 71h1v1h-1zM32 71h2v1h-2zM39 71h1v1h-1zM60 71h1v1h-1zM66 71h1v1h-1zM0 72h1v1h-1zM8 72h1v1h-1zM25 72h2v1h-2zM33 72h1v1h-1zM44 72h1v1h-1zM60 72h1v1h-1zM65 72h2v1h-2zM72 72h2v1h-2zM8 73h2v1h-2zM13 73h1v1h-1zM18 73h1v1h-1zM30 73h2v1h-2zM34 73h1v1h-1zM41 73h1v1h-1zM57 73h1v1h-1zM73 73h1v1h-1zM6 74h1v1h-1zM13 74h1v1h-1zM21 74h1v1h-1zM30 74h2v1h-2zM46 74h1v1h-1zM49 74h1v1h-1zM57 74h1v1h-1zM59 74h1v1h-1zM71 74h1v1h-1zM0 75h1v1h-1zM38 75h1v1h-1zM59 75h3v1h-3zM0 76h1v1h-1zM7 76h2v1h-2zM48 76h1v1h-1zM59 76h1v1h-1zM66 76h1v1h-1zM76 76h1v1h-1zM78 76h1v1h-1zM13 77h1v1h-1zM16 77h1v1h-1zM52 77h1v1h-1zM54 77h3v1h-3zM59 77h1v1h-1zM75 77h1v1h-1zM0 78h1v1h-1zM8 78h1v1h-1zM10 78h1v1h-1zM14 78h1v1h-1zM24 78h1v1h-1zM26 78h1v1h-1zM42 78h2v1h-2zM48 78h1v1h-1zM66 78h1v1h-1zM78 78h1v1h-1zM14 79h2v1h-2zM24 79h2v1h-2zM27 79h2v1h-2zM30 79h2v1h-2zM43 79h1v1h-1zM54 79h1v1h-1zM56 79h1v1h-1z"/>
<path fill="#a1cfe4" d="M2 0h1v1h-1zM13 0h1v1h-1zM29 0h1v1h-1zM46 0h1v1h-1zM51 0h1v1h-1zM59 0h1v1h-1zM61 0h2v1h-2zM65 0h1v1h-1zM68 0h1v1h-1zM70 0h1v1h-1zM0 1h1v1h-1zM3 1h1v1h-1zM24 1h1v1h-1zM29 1h1v1h-1zM33 1h1v1h-1zM41 1h1v1h-1zM44 1h2v1h-2zM52 1h1v1h-1zM58 1h1v1h-1zM61 1h1v1h-1zM69 1h1v1h-1zM75 1h1v1h-1zM77 1h1v1h-1zM7 2h1v1h-1zM9 2h1v1h-1zM13 2h1v1h-1zM18 2h1v1h-1zM21 2h1v1h-1zM24 2h1v1h-1zM48 2h1v1h-1zM50 2h1v1h-1zM57 2h1v1h-1zM63 2h1v1h-1zM66 2h1v1h-1zM70 2h2v1h-2zM76 2h2v1h-2zM0 3h1v1h-1zM3 3h2v1h-2zM25 3h1v1h-1zM28 3h1v1h-1zM38 3h1v1h-1zM41 3h1v1h-1zM46 3h1v1h-1zM57 3h1v1h-1zM62 3h1v1h-1zM70 3h1v1h-1zM72 3h2v1h-2zM75 3h1v1h-1zM77 3h1v1h-1zM79 3h1v1h-1zM4 4h1v1h-1zM6 4h1v1h-1zM10 4h2v1h-2zM13 4h1v1h-1zM36 4h1v1h-1zM38 4h1v1h-1zM45 4h1v1h-1zM52 4h2v1h-2zM59 4h1v1h-1zM67 4h1v1h-1zM69 4h2v1h-2zM75 4h2v1h-2zM9 5h1v1h-1zM20 5h1v1h-1zM24 5h1v1h-1zM45 5h2v1h-2zM52 5h1v1h-1zM54 5h1v1h-1zM60 5h1v1h-1zM63 5h1v1h-1zM69 5h1v1h-1zM72 5h1v1h-1zM11 6h1v1h-1zM16 6h2v1h-2zM22 6h1v1h-1zM25 6h1v1h-1zM33 6h1v1h-1zM42 6h1v1h-1zM45 6h1v1h-1zM50 6h1v1h-1zM53 6h1v1h-1zM62 6h3v1h-3zM66 6h3v1h-3zM76 6h1v1h-1zM10 7h1v1h-1zM14 7h1v1h-1zM31 7h2v1h-2zM37 7h2v1h-2zM41 7h1v1h-1zM53 7h2v1h-2zM56 7h1v1h-1zM64 7h1v1h-1zM74 7h1v1h-1zM76 7h1v1h-1zM1 8h1v1h-1zM15 8h2v1h-2zM30 8h1v1h-1zM54 8h1v1h-1zM65 8h1v1h-1zM78 8h1v1h-1zM0 9h1v1h-1zM15 9h1v1h-1zM19 9h2v1h-2zM31 9h1v1h-1zM49 9h1v1h-1zM59 9h1v1h-1zM66 9h1v1h-1zM2 10h1v1h-1zM9 10h1v1h-1zM12 10h2v1h-2zM31 10h1v1h-1zM35 10h1v1h-1zM41 10h1v1h-1zM45 10h1v1h-1zM59 10h1v1h-1zM64 10h1v1h-1zM75 10h1v1h-1zM2 11h2v1h-2zM10 11h1v1h-1zM12 11h1v1h-1zM56 11h1v1h-1zM62 11h2v1h-2zM65 11h1v1h-1zM67 11h2v1h-2zM70 11h1v1h-1zM13 12h1v1h-1zM18 12h1v1h-1zM34 12h1v1h-1zM48 12h1v1h-1zM56 12h1v1h-1zM59 12h1v1h-1zM67 12h1v1h-1zM70 12h2v1h-2zM77 12h1v1h-1zM17 13h2v1h-2zM21 13h1v1h-1zM54 13h2v1h-2zM66 13h2v1h-2zM69 13h2v1h-2zM72 13h1v1h-1zM0 14h1v1h-1zM8 14h3v1h-3zM12 14h1v1h-1zM20 14h1v1h-1zM23 14h1v1h-1zM37 14h1v1h-1zM42 14h1v1h-1zM50 14h1v1h-1zM57 14h1v1h-1zM59 14h2v1h-2zM68 14h1v1h-1zM1 15h3v1h-3zM9 15h1v1h-1zM13 15h1v1h-1zM42 15h1v1h-1zM50 15h2v1h-2zM55 15h1v1h-1zM58 15h1v1h-1zM62 15h1v1h-1zM66 15h1v1h-1zM69 15h1v1h-1zM0 16h2v1h-2zM13 16h1v1h-1zM18 16h2v1h-2zM38 16h1v1h-1zM57 16h1v1h-1zM79 16h1v1h-1zM1 17h1v1h-1zM7 17h1v1h-1zM10 17h1v1h-1zM14 17h1v1h-1zM23 17h1v1h-1zM40 17h1v1h-1zM52 17h2v1h-2zM64 17h1v1h-1zM69 17h1v1h-1zM2 18h2v1h-2zM18 18h1v1h-1zM56 18h1v1h-1zM58 18h2v1h-2zM75 18h1v1h-1zM0 19h2v1h-2zM3 19h1v1h-1zM22 19h1v1h-1zM29 19h1v1h-1zM33 19h1v1h-1zM37 19h2v1h-2zM73 19h1v1h-1zM77 19h3v1h-3zM2 20h3v1h-3zM7 20h1v1h-1zM9 20h2v1h-2zM12 20h1v1h-1zM21 20h2v1h-2zM57 20h1v1h-1zM60 20h1v1h-1zM63 20h1v1h-1zM71 20h1v1h-1zM73 20h1v1h-1zM3 21h1v1h-1zM5 21h2v1h-2zM8 21h1v1h-1zM21 21h1v1h-1zM24 21h1v1h-1zM58 21h1v1h-1zM60 21h1v1h-1zM62 21h2v1h-2zM4 22h1v1h-1zM29 22h1v1h-1zM44 22h1v1h-1zM65 22h4v1h-4zM74 22h2v1h-2zM78 22h1v1h-1zM0 23h1v1h-1zM26 23h1v1h-1zM44 23h1v1h-1zM69 23h1v1h-1zM78 23h2v1h-2zM7 24h2v1h-2zM11 24h2v1h-2zM18 24h1v1h-1zM22 24h2v1h-2zM29 24h1v1h-1zM49 24h1v1h-1zM51 24h1v1h-1zM57 24h3v1h-3zM62 24h1v1h-1zM68 24h1v1h-1zM14 25h2v1h-2zM20 25h1v1h-1zM25 25h1v1h-1zM27 25h1v1h-1zM38 25h1v1h-1zM44 25h1v1h-1zM64 25h3v1h-3zM68 25h1v1h-1zM70 25h1v1h-1zM72 25h3v1h-3zM76 25h1v1h-1zM79 25h1v1h-1zM4 26h1v1h-1zM8 26h1v1h-1zM10 26h1v1h-1zM18 26h1v1h-1zM33 26h1v1h-1zM49 26h1v1h-1zM58 26h1v1h-1zM60 26h1v1h-1zM64 26h1v1h-1zM67 26h1v1h-1zM79 26h1v1h-1zM6 27h1v1h-1zM17 27h1v1h-1zM19 27h2v1h-2zM31 27h1v1h-1zM53 27h1v1h-1zM55 27h1v1h-1zM67 27h3v1h-3zM76 27h1v1h-1zM79 27h1v1h-1zM5 28h2v1h-2zM8 28h1v1h-1zM15 28h1v1h-1zM19 28h2v1h-2zM23 28h1v1h-1zM29 28h2v1h-2zM52 28h1v1h-1zM55 28h1v1h-1zM61 28h1v1h-1zM64 28h2v1h-2zM76 28h1v1h-1zM79 28h1v1h-1zM12 29h1v1h-1zM41 29h1v1h-1zM66 29h1v1h-1zM68 29h2v1h-2zM72 29h1v1h-1zM6 30h1v1h-1zM11 30h1v1h-1zM15 30h1v1h-1zM20 30h1v1h-1zM28 30h1v1h-1zM58 30h1v1h-1zM63 30h1v1h-1zM72 30h1v1h-1zM75 30h3v1h-3zM0 31h1v1h-1zM15 31h1v1h-1zM19 31h3v1h-3zM25 31h1v1h-1zM58 31h1v1h-1zM61 31h1v1h-1zM66 31h1v1h-1zM77 31h1v1h-1zM0 32h1v1h-1zM25 32h1v1h-1zM28 32h1v1h-1zM33 32h1v1h-1zM35 32h2v1h-2zM43 32h1v1h-1zM52 32h1v1h-1zM55 32h1v1h-1zM57 32h1v1h-1zM60 32h1v1h-1zM76 32h1v1h-1zM5 33h2v1h-2zM12 33h1v1h-1zM20 33h1v1h-1zM24 33h1v1h-1zM33 33h1v1h-1zM44 33h1v1h-1zM57 33h1v1h-1zM59 33h1v1h-1zM63 33h1v1h-1zM68 33h1v1h-1zM75 33h1v1h-1zM6 34h2v1h-2zM15 34h1v1h-1zM20 34h1v1h-1zM23 34h1v1h-1zM31 34h1v1h-1zM35 34h1v1h-1zM62 34h1v1h-1zM67 34h1v1h-1zM73 34h1v1h-1zM75 34h1v1h-1zM77 34h1v1h-1zM2 35h1v1h-1zM6 35h1v1h-1zM15 35h1v1h-1zM18 35h1v1h-1zM48 35h1v1h-1zM53 35h1v1h-1zM67 35h1v1h-1zM70 35h1v1h-1zM72 35h1v1h-1zM6 36h1v1h-1zM15 36h1v1h-1zM22 36h1v1h-1zM24 36h1v1h-1zM33 36h1v1h-1zM37 36h2v1h-2zM68 36h2v1h-2zM76 36h1v1h-1zM8 37h1v1h-1zM12 37h1v1h-1zM19 37h1v1h-1zM25 37h1v1h-1zM36 37h1v1h-1zM45 37h1v1h-1zM61 37h1v1h-1zM77 37h3v1h-3zM2 38h1v1h-1zM6 38h1v1h-1zM8 38h1v1h-1zM18 38h1v1h-1zM38 38h1v1h-1zM49 38h1v1h-1zM60 38h1v1h-1zM62 38h2v1h-2zM77 38h1v1h-1zM4 39h1v1h-1zM9 39h1v1h-1zM62 39h1v1h-1zM72 39h1v1h-1zM4 40h1v1h-1zM26 40h1v1h-1zM47 40h1v1h-1zM49 40h1v1h-1zM62 40h1v1h-1zM68 40h1v1h-1zM73 40h1v1h-1zM7 41h1v1h-1zM22 41h1v1h-1zM26 41h1v1h-1zM28 41h1v1h-1zM48 41h1v1h-1zM53 41h2v1h-2zM60 41h1v1h-1zM77 41h1v1h-1zM5 42h1v1h-1zM36 42h1v1h-1zM40 42h1v1h-1zM62 42h1v1h-1zM66 42h1v1h-1zM72 42h1v1h-1zM2 43h2v1h-2zM12 43h1v1h-1zM16 43h2v1h-2zM19 43h2v1h-2zM61 43h1v1h-1zM65 43h1v1h-1zM74 43h2v1h-2zM2 44h1v1h-1zM19 44h2v1h-2zM76 44h2v1h-2zM0 45h1v1h-1zM8 45h1v1h-1zM10 45h1v1h-1zM13 45h1v1h-1zM19 45h1v1h-1zM21 45h1v1h-1zM28 45h1v1h-1zM54 45h1v1h-1zM63 45h1v1h-1zM5 46h1v1h-1zM12 46h1v1h-1zM18 46h1v1h-1zM54 46h1v1h-1zM57 46h2v1h-2zM62 46h2v1h-2zM79 46h1v1h-1zM10 47h3v1h-3zM21 47h1v1h-1zM24 47h1v1h-1zM29 47h1v1h-1zM56 47h1v1h-1zM60 47h1v1h-1zM68 47h1v1h-1zM70 47h1v1h-1zM4 48h2v1h-2zM7 48h1v1h-1zM16 48h1v1h-1zM57 48h1v1h-1zM63 48h2v1h-2zM4 49h1v1h-1zM10 49h1v1h-1zM25 49h1v1h-1zM54 49h1v1h-1zM62 49h1v1h-1zM65 49h1v1h-1zM77 49h2v1h-2zM5 50h2v1h-2zM9 50h1v1h-1zM14 50h1v1h-1zM16 50h1v1h-1zM18 50h1v1h-1zM22 50h1v1h-1zM29 50h1v1h-1zM0 51h1v1h-1zM3 51h1v1h-1zM8 51h1v1h-1zM19 51h3v1h-3zM61 51h1v1h-1zM64 51h1v1h-1zM69 51h2v1h-2zM72 51h1v1h-1zM4 52h1v1h-1zM16 52h1v1h-1zM64 52h1v1h-1zM68 52h1v1h-1zM71 52h1v1h-1zM77 52h1v1h-1zM8 53h1v1h-1zM18 53h1v1h-1zM22 53h1v1h-1zM25 53h1v1h-1zM64 53h1v1h-1zM74 53h1v1h-1zM76 53h1v1h-1zM4 54h1v1h-1zM11 54h1v1h-1zM21 54h1v1h-1zM23 54h1v1h-1zM49 54h1v1h-1zM61 54h1v1h-1zM70 54h1v1h-1zM73 54h2v1h-2zM4 55h1v1h-1zM9 55h1v1h-1zM22 55h1v1h-1zM52 55h1v1h-1zM54 55h1v1h-1zM60 55h1v1h-1zM68 55h2v1h-2zM72 55h1v1h-1zM3 56h1v1h-1zM12 56h1v1h-1zM20 56h1v1h-1zM26 56h2v1h-2zM29 56h1v1h-1zM46 56h1v1h-1zM55 56h1v1h-1zM61 56h3v1h-3zM68 56h1v1h-1zM77 56h1v1h-1zM3 57h1v1h-1zM10 57h1v1h-1zM13 57h3v1h-3zM19 57h2v1h-2zM22 57h1v1h-1zM30 57h1v1h-1zM55 57h1v1h-1zM61 57h1v1h-1zM67 57h1v1h-1zM71 57h1v1h-1zM79 57h1v1h-1zM2 58h1v1h-1zM7 58h1v1h-1zM21 58h1v1h-1zM46 58h1v1h-1zM50 58h1v1h-1zM55 58h1v1h-1zM65 58h1v1h-1zM69 58h1v1h-1zM74 58h1v1h-1zM10 59h1v1h-1zM21 59h1v1h-1zM28 59h1v1h-1zM50 59h1v1h-1zM55 59h1v1h-1zM57 59h1v1h-1zM67 59h1v1h-1zM74 59h1v1h-1zM78 59h1v1h-1zM3 60h1v1h-1zM9 60h1v1h-1zM14 60h2v1h-2zM19 60h1v1h-1zM40 60h1v1h-1zM59 60h1v1h-1zM68 60h1v1h-1zM79 60h1v1h-1zM4 61h1v1h-1zM19 61h1v1h-1zM23 61h1v1h-1zM32 61h1v1h-1zM44 61h1v1h-1zM54 61h1v1h-1zM56 61h1v1h-1zM61 61h2v1h-2zM64 61h2v1h-2zM68 61h1v1h-1zM73 61h1v1h-1zM4 62h1v1h-1zM13 62h1v1h-1zM28 62h1v1h-1zM51 62h1v1h-1zM55 62h3v1h-3zM63 62h1v1h-1zM66 62h1v1h-1zM74 62h1v1h-1zM78 62h1v1h-1zM0 63h1v1h-1zM5 63h1v1h-1zM12 63h2v1h-2zM17 63h1v1h-1zM20 63h3v1h-3zM36 63h1v1h-1zM46 63h1v1h-1zM48 63h1v1h-1zM56 63h1v1h-1zM60 63h1v1h-1zM62 63h1v1h-1zM72 63h1v1h-1zM76 63h1v1h-1zM0 64h1v1h-1zM27 64h1v1h-1zM42 64h1v1h-1zM49 64h1v1h-1zM58 64h2v1h-2zM69 64h1v1h-1zM72 64h3v1h-3zM9 65h1v1h-1zM14 65h1v1h-1zM42 65h1v1h-1zM53 65h1v1h-1zM61 65h1v1h-1zM71 65h1v1h-1zM9 66h1v1h-1zM11 66h1v1h-1zM14 66h1v1h-1zM39 66h1v1h-1zM58 66h1v1h-1zM60 66h1v1h-1zM69 66h1v1h-1zM71 66h2v1h-2zM77 66h1v1h-1zM79 66h1v1h-1zM0 67h1v1h-1zM4 67h1v1h-1zM6 67h1v1h-1zM12 67h1v1h-1zM17 67h1v1h-1zM40 67h1v1h-1zM72 67h1v1h-1zM0 68h1v1h-1zM2 68h2v1h-2zM6 68h1v1h-1zM13 68h1v1h-1zM17 68h1v1h-1zM19 68h1v1h-1zM28 68h1v1h-1zM30 68h2v1h-2zM40 68h1v1h-1zM49 68h1v1h-1zM51 68h1v1h-1zM59 68h1v1h-1zM67 68h1v1h-1zM69 68h1v1h-1zM75 68h1v1h-1zM2 69h2v1h-2zM6 69h1v1h-1zM14 69h1v1h-1zM18 69h1v1h-1zM25 69h1v1h-1zM29 69h1v1h-1zM51 69h1v1h-1zM55 69h1v1h-1zM67 69h1v1h-1zM78 69h1v1h-1zM1 70h1v1h-1zM4 70h1v1h-1zM6 70h2v1h-2zM9 70h1v1h-1zM18 70h1v1h-1zM20 70h1v1h-1zM24 70h1v1h-1zM33 70h1v1h-1zM37 70h1v1h-1zM50 70h3v1h-3zM55 70h1v1h-1zM60 70h1v1h-1zM67 70h1v1h-1zM72 70h1v1h-1zM78 70h2v1h-2zM0 71h2v1h-2zM5 71h1v1h-1zM29 71h1v1h-1zM53 71h1v1h-1zM63 71h3v1h-3zM78 71h2v1h-2zM1 72h1v1h-1zM7 72h1v1h-1zM14 72h1v1h-1zM29 72h2v1h-2zM51 72h2v1h-2zM57 72h1v1h-1zM15 73h1v1h-1zM17 73h1v1h-1zM19 73h1v1h-1zM28 73h2v1h-2zM44 73h1v1h-1zM46 73h2v1h-2zM49 73h1v1h-1zM55 73h1v1h-1zM63 73h1v1h-1zM68 73h1v1h-1zM74 73h2v1h-2zM8 74h1v1h-1zM29 74h1v1h-1zM34 74h1v1h-1zM44 74h1v1h-1zM48 74h1v1h-1zM62 74h1v1h-1zM64 74h1v1h-1zM67 74h1v1h-1zM69 74h1v1h-1zM76 74h1v1h-1zM3 75h1v1h-1zM6 75h3v1h-3zM13 75h1v1h-1zM32 75h1v1h-1zM45 75h1v1h-1zM62 75h1v1h-1zM78 75h1v1h-1zM1 76h1v1h-1zM6 76h1v1h-1zM13 76h1v1h-1zM21 76h1v1h-1zM27 76h2v1h-2zM33 76h1v1h-1zM35 76h1v1h-1zM37 76h1v1h-1zM39 76h1v1h-1zM55 76h1v1h-1zM62 76h1v1h-1zM64 76h1v1h-1zM67 76h1v1h-1zM75 76h1v1h-1zM8 77h1v1h-1zM12 77h1v1h-1zM17 77h1v1h-1zM20 77h1v1h-1zM23 77h1v1h-1zM31 77h1v1h-1zM36 77h1v1h-1zM44 77h2v1h-2zM48 77h1v1h-1zM51 77h1v1h-1zM53 77h1v1h-1zM60 77h2v1h-2zM63 77h1v1h-1zM65 77h1v1h-1zM72 77h1v1h-1zM79 77h1v1h-1zM1 78h1v1h-1zM6 78h1v1h-1zM11 78h1v1h-1zM15 78h1v1h-1zM30 78h1v1h-1zM36 78h1v1h-1zM47 78h1v1h-1zM53 78h2v1h-2zM61 78h1v1h-1zM63 78h1v1h-1zM68 78h1v1h-1zM74 78h1v1h-1zM76 78h1v1h-1zM7 79h1v1h-1zM9 79h1v1h-1zM38 79h1v1h-1zM57 79h1v1h-1zM60 79h2v1h-2zM71 79h1v1h-1zM76 79h1v1h-1zM78 79h1v1h-1z"/>
<path fill="#96c9e1" d="M8 0h1v1h-1zM10 0h1v1h-1zM15 0h1v1h-1zM34 0h1v1h-1zM37 0h1v1h-1zM56 0h1v1h-1zM60 0h1v1h-1zM75 0h1v1h-1zM2 1h1v1h-1zM7 1h1v1h-1zM9 1h3v1h-3zM13 1h1v1h-1zM22 1h1v1h-1zM27 1h1v1h-1zM31 1h1v1h-1zM49 1h1v1h-1zM51 1h1v1h-1zM56 1h1v1h-1zM60 1h1v1h-1zM67 1h1v1h-1zM74 1h1v1h-1zM79 1h1v1h-1zM1 2h1v1h-1zM23 2h1v1h-1zM37 2h2v1h-2zM54 2h2v1h-2zM5 3h1v1h-1zM12 3h1v1h-1zM17 3h4v1h-4zM26 3h1v1h-1zM34 3h1v1h-1zM36 3h1v1h-1zM39 3h1v1h-1zM43 3h1v1h-1zM47 3h1v1h-1zM53 3h1v1h-1zM56 3h1v1h-1zM71 3h1v1h-1zM74 3h1v1h-1zM3 4h1v1h-1zM9 4h1v1h-1zM17 4h1v1h-1zM23 4h1v1h-1zM28 4h1v1h-1zM32 4h2v1h-2zM48 4h2v1h-2zM0 5h3v1h-3zM4 5h1v1h-1zM12 5h1v1h-1zM36 5h2v1h-2zM49 5h1v1h-1zM56 5h1v1h-1zM64 5h1v1h-1zM79 5h1v1h-1zM2 6h1v1h-1zM10 6h1v1h-1zM24 6h1v1h-1zM34 6h1v1h-1zM37 6h1v1h-1zM71 6h1v1h-1zM77 6h1v1h-1zM79 6h1v1h-1zM2 7h3v1h-3zM9 7h1v1h-1zM20 7h1v1h-1zM24 7h1v1h-1zM29 7h2v1h-2zM33 7h2v1h-2zM50 7h2v1h-2zM57 7h1v1h-1zM68 7h1v1h-1zM72 7h1v1h-1zM78 7h1v1h-1zM7 8h2v1h-2zM20 8h1v1h-1zM29 8h1v1h-1zM38 8h1v1h-1zM41 8h2v1h-2zM51 8h1v1h-1zM69 8h1v1h-1zM72 8h2v1h-2zM3 9h1v1h-1zM7 9h1v1h-1zM23 9h1v1h-1zM45 9h1v1h-1zM55 9h1v1h-1zM60 9h2v1h-2zM63 9h1v1h-1zM70 9h1v1h-1zM72 9h1v1h-1zM77 9h1v1h-1zM0 10h2v1h-2zM3 10h1v1h-1zM15 10h2v1h-2zM25 10h1v1h-1zM32 10h1v1h-1zM42 10h1v1h-1zM48 10h1v1h-1zM50 10h1v1h-1zM55 10h1v1h-1zM60 10h1v1h-1zM66 10h1v1h-1zM74 10h1v1h-1zM6 11h2v1h-2zM9 11h1v1h-1zM13 11h1v1h-1zM16 11h1v1h-1zM25 11h1v1h-1zM28 11h1v1h-1zM32 11h1v1h-1zM36 11h1v1h-1zM48 11h1v1h-1zM60 11h1v1h-1zM77 11h1v1h-1zM79 11h1v1h-1zM4 12h1v1h-1zM8 12h3v1h-3zM15 12h1v1h-1zM23 12h1v1h-1zM27 12h1v1h-1zM31 12h1v1h-1zM50 12h1v1h-1zM57 12h1v1h-1zM66 12h1v1h-1zM78 12h1v1h-1zM2 13h1v1h-1zM10 13h1v1h-1zM12 13h1v1h-1zM16 13h1v1h-1zM20 13h1v1h-1zM38 13h1v1h-1zM44 13h1v1h-1zM60 13h1v1h-1zM77 13h3v1h-3zM2 14h1v1h-1zM17 14h1v1h-1zM22 14h1v1h-1zM27 14h1v1h-1zM32 14h1v1h-1zM34 14h1v1h-1zM56 14h1v1h-1zM78 14h1v1h-1zM16 15h1v1h-1zM22 15h1v1h-1zM26 15h1v1h-1zM54 15h1v1h-1zM70 15h1v1h-1zM72 15h1v1h-1zM75 15h1v1h-1zM3 16h1v1h-1zM5 16h1v1h-1zM8 16h1v1h-1zM17 16h1v1h-1zM30 16h3v1h-3zM55 16h1v1h-1zM58 16h1v1h-1zM61 16h1v1h-1zM77 16h1v1h-1zM9 17h1v1h-1zM11 17h2v1h-2zM16 17h1v1h-1zM27 17h1v1h-1zM29 17h1v1h-1zM58 17h1v1h-1zM61 17h1v1h-1zM7 18h1v1h-1zM10 18h2v1h-2zM20 18h1v1h-1zM24 18h1v1h-1zM34 18h1v1h-1zM38 18h1v1h-1zM50 18h2v1h-2zM69 18h1v1h-1zM6 19h1v1h-1zM16 19h3v1h-3zM25 19h1v1h-1zM27 19h1v1h-1zM35 19h1v1h-1zM43 19h1v1h-1zM52 19h1v1h-1zM56 19h1v1h-1zM62 19h2v1h-2zM66 19h1v1h-1zM70 19h1v1h-1zM72 19h1v1h-1zM74 19h1v1h-1zM5 20h1v1h-1zM15 20h1v1h-1zM35 20h1v1h-1zM46 20h2v1h-2zM64 20h1v1h-1zM78 20h2v1h-2zM16 21h1v1h-1zM37 21h1v1h-1zM47 21h1v1h-1zM51 21h2v1h-2zM56 21h1v1h-1zM70 21h2v1h-2zM77 21h1v1h-1zM1 22h1v1h-1zM3 22h1v1h-1zM9 22h1v1h-1zM42 22h1v1h-1zM48 22h1v1h-1zM50 22h1v1h-1zM60 22h1v1h-1zM76 22h1v1h-1zM1 23h3v1h-3zM11 23h1v1h-1zM17 23h1v1h-1zM19 23h1v1h-1zM23 23h1v1h-1zM25 23h1v1h-1zM35 23h1v1h-1zM56 23h2v1h-2zM61 23h1v1h-1zM76 23h1v1h-1zM4 24h1v1h-1zM24 24h1v1h-1zM30 24h1v1h-1zM53 24h2v1h-2zM71 24h1v1h-1zM2 25h1v1h-1zM4 25h1v1h-1zM9 25h1v1h-1zM75 25h1v1h-1zM5 26h2v1h-2zM9 26h1v1h-1zM17 26h1v1h-1zM32 26h1v1h-1zM34 26h1v1h-1zM52 26h3v1h-3zM70 26h3v1h-3zM0 27h1v1h-1zM2 27h1v1h-1zM7 27h1v1h-1zM11 27h1v1h-1zM16 27h1v1h-1zM21 27h1v1h-1zM28 27h1v1h-1zM30 27h1v1h-1zM32 27h1v1h-1zM34 27h1v1h-1zM50 27h1v1h-1zM54 27h1v1h-1zM56 27h1v1h-1zM60 27h1v1h-1zM65 27h1v1h-1zM75 27h1v1h-1zM4 28h1v1h-1zM7 28h1v1h-1zM11 28h2v1h-2zM26 28h1v1h-1zM33 28h2v1h-2zM53 28h1v1h-1zM60 28h1v1h-1zM5 29h1v1h-1zM16 29h1v1h-1zM20 29h1v1h-1zM22 29h3v1h-3zM27 29h2v1h-2zM56 29h1v1h-1zM58 29h2v1h-2zM61 29h1v1h-1zM67 29h1v1h-1zM75 29h1v1h-1zM3 30h3v1h-3zM9 30h1v1h-1zM13 30h2v1h-2zM16 30h1v1h-1zM19 30h1v1h-1zM55 30h1v1h-1zM61 30h1v1h-1zM78 30h1v1h-1zM2 31h2v1h-2zM6 31h2v1h-2zM13 31h1v1h-1zM18 31h1v1h-1zM64 31h2v1h-2zM70 31h2v1h-2zM73 31h1v1h-1zM76 31h1v1h-1zM78 31h2v1h-2zM5 32h1v1h-1zM24 32h1v1h-1zM26 32h1v1h-1zM34 32h1v1h-1zM56 32h1v1h-1zM66 32h2v1h-2zM74 32h1v1h-1zM0 33h1v1h-1zM10 33h2v1h-2zM15 33h1v1h-1zM17 33h1v1h-1zM23 33h1v1h-1zM25 33h1v1h-1zM27 33h1v1h-1zM53 33h1v1h-1zM62 33h1v1h-1zM70 33h1v1h-1zM73 33h1v1h-1zM0 34h1v1h-1zM4 34h1v1h-1zM14 34h1v1h-1zM29 34h1v1h-1zM58 34h1v1h-1zM64 34h1v1h-1zM68 34h1v1h-1zM79 34h1v1h-1zM1 35h1v1h-1zM7 35h1v1h-1zM14 35h1v1h-1zM20 35h1v1h-1zM29 35h1v1h-1zM36 35h1v1h-1zM52 35h1v1h-1zM55 35h1v1h-1zM58 35h2v1h-2zM74 35h1v1h-1zM77 35h1v1h-1zM79 35h1v1h-1zM0 36h2v1h-2zM4 36h1v1h-1zM8 36h1v1h-1zM20 36h1v1h-1zM48 36h1v1h-1zM54 36h1v1h-1zM62 36h1v1h-1zM72 36h2v1h-2zM79 36h1v1h-1zM3 37h2v1h-2zM6 37h1v1h-1zM9 37h1v1h-1zM16 37h1v1h-1zM23 37h2v1h-2zM26 37h1v1h-1zM33 37h1v1h-1zM43 37h1v1h-1zM48 37h1v1h-1zM54 37h1v1h-1zM63 37h1v1h-1zM67 37h2v1h-2zM73 37h2v1h-2zM76 37h1v1h-1zM0 38h2v1h-2zM9 38h2v1h-2zM12 38h1v1h-1zM22 38h1v1h-1zM30 38h1v1h-1zM57 38h1v1h-1zM64 38h1v1h-1zM69 38h1v1h-1zM7 39h1v1h-1zM14 39h3v1h-3zM21 39h2v1h-2zM25 39h2v1h-2zM42 39h1v1h-1zM45 39h1v1h-1zM53 39h2v1h-2zM63 39h1v1h-1zM71 39h1v1h-1zM75 39h1v1h-1zM5 40h1v1h-1zM7 40h1v1h-1zM28 40h1v1h-1zM31 40h1v1h-1zM34 40h1v1h-1zM54 40h1v1h-1zM63 40h3v1h-3zM67 40h1v1h-1zM76 40h1v1h-1zM13 41h1v1h-1zM30 41h1v1h-1zM38 41h1v1h-1zM56 41h1v1h-1zM59 41h1v1h-1zM67 41h1v1h-1zM75 41h1v1h-1zM78 41h2v1h-2zM8 42h1v1h-1zM14 42h1v1h-1zM23 42h1v1h-1zM44 42h1v1h-1zM48 42h2v1h-2zM52 42h1v1h-1zM63 42h1v1h-1zM70 42h1v1h-1zM78 42h1v1h-1zM1 43h1v1h-1zM23 43h2v1h-2zM56 43h2v1h-2zM71 43h2v1h-2zM78 43h1v1h-1zM0 44h1v1h-1zM9 44h1v1h-1zM13 44h1v1h-1zM15 44h1v1h-1zM21 44h1v1h-1zM23 44h1v1h-1zM26 44h2v1h-2zM57 44h1v1h-1zM61 44h1v1h-1zM65 44h1v1h-1zM68 44h1v1h-1zM70 44h1v1h-1zM74 44h1v1h-1zM78 44h2v1h-2zM2 45h1v1h-1zM57 45h1v1h-1zM59 45h1v1h-1zM65 45h1v1h-1zM9 46h2v1h-2zM13 46h1v1h-1zM22 46h1v1h-1zM30 46h1v1h-1zM53 46h1v1h-1zM59 46h1v1h-1zM67 46h1v1h-1zM70 46h1v1h-1zM0 47h1v1h-1zM4 47h1v1h-1zM18 47h1v1h-1zM23 47h1v1h-1zM28 47h1v1h-1zM52 47h1v1h-1zM59 47h1v1h-1zM65 47h1v1h-1zM8 48h1v1h-1zM15 48h1v1h-1zM22 48h2v1h-2zM67 48h2v1h-2zM78 48h1v1h-1zM15 49h1v1h-1zM18 49h1v1h-1zM22 49h3v1h-3zM56 49h1v1h-1zM58 49h2v1h-2zM74 49h1v1h-1zM2 50h1v1h-1zM56 50h1v1h-1zM58 50h1v1h-1zM62 50h2v1h-2zM73 50h1v1h-1zM2 51h1v1h-1zM7 51h1v1h-1zM54 51h1v1h-1zM56 51h2v1h-2zM3 52h1v1h-1zM11 52h1v1h-1zM21 52h1v1h-1zM57 52h1v1h-1zM61 52h1v1h-1zM2 53h2v1h-2zM13 53h1v1h-1zM46 53h1v1h-1zM50 53h1v1h-1zM61 53h1v1h-1zM65 53h2v1h-2zM68 53h1v1h-1zM75 53h1v1h-1zM78 53h1v1h-1zM3 54h1v1h-1zM12 54h1v1h-1zM14 54h1v1h-1zM28 54h1v1h-1zM48 54h1v1h-1zM60 54h1v1h-1zM62 54h1v1h-1zM64 54h1v1h-1zM69 54h1v1h-1zM76 54h1v1h-1zM0 55h1v1h-1zM2 55h1v1h-1zM5 55h1v1h-1zM7 55h1v1h-1zM12 55h1v1h-1zM18 55h1v1h-1zM28 55h1v1h-1zM50 55h1v1h-1zM70 55h1v1h-1zM5 56h2v1h-2zM13 56h2v1h-2zM25 56h1v1h-1zM42 56h1v1h-1zM49 56h2v1h-2zM69 56h1v1h-1zM7 57h1v1h-1zM9 57h1v1h-1zM16 57h1v1h-1zM18 57h1v1h-1zM23 57h1v1h-1zM27 57h1v1h-1zM31 57h1v1h-1zM50 57h1v1h-1zM56 57h1v1h-1zM59 57h1v1h-1zM65 57h2v1h-2zM3 58h1v1h-1zM5 58h2v1h-2zM8 58h1v1h-1zM10 58h1v1h-1zM24 58h2v1h-2zM58 58h1v1h-1zM75 58h1v1h-1zM5 59h2v1h-2zM26 59h2v1h-2zM39 59h1v1h-1zM44 59h2v1h-2zM59 59h2v1h-2zM64 59h1v1h-1zM66 59h1v1h-1zM68 59h1v1h-1zM75 59h1v1h-1zM79 59h1v1h-1zM7 60h1v1h-1zM16 60h1v1h-1zM21 60h1v1h-1zM24 60h1v1h-1zM26 60h1v1h-1zM41 60h2v1h-2zM54 60h1v1h-1zM61 60h1v1h-1zM64 60h1v1h-1zM75 60h1v1h-1zM5 61h1v1h-1zM7 61h2v1h-2zM10 61h1v1h-1zM13 61h1v1h-1zM20 61h1v1h-1zM22 61h1v1h-1zM24 61h1v1h-1zM26 61h1v1h-1zM33 61h1v1h-1zM36 61h1v1h-1zM49 61h5v1h-5zM55 61h1v1h-1zM77 61h1v1h-1zM6 62h3v1h-3zM14 62h4v1h-4zM20 62h2v1h-2zM24 62h1v1h-1zM69 62h1v1h-1zM14 63h1v1h-1zM19 63h1v1h-1zM26 63h1v1h-1zM31 63h1v1h-1zM35 63h1v1h-1zM47 63h1v1h-1zM52 63h1v1h-1zM55 63h1v1h-1zM57 63h1v1h-1zM63 63h1v1h-1zM68 63h1v1h-1zM70 63h2v1h-2zM74 63h1v1h-1zM77 63h3v1h-3zM15 64h1v1h-1zM17 64h2v1h-2zM36 64h1v1h-1zM43 64h1v1h-1zM63 64h1v1h-1zM70 64h2v1h-2zM1 65h2v1h-2zM11 65h1v1h-1zM18 65h1v1h-1zM25 65h1v1h-1zM30 65h1v1h-1zM39 65h1v1h-1zM45 65h2v1h-2zM50 65h1v1h-1zM57 65h1v1h-1zM62 65h4v1h-4zM70 65h1v1h-1zM75 65h1v1h-1zM78 65h2v1h-2zM2 66h1v1h-1zM5 66h1v1h-1zM24 66h1v1h-1zM49 66h1v1h-1zM61 66h1v1h-1zM64 66h1v1h-1zM74 66h2v1h-2zM7 67h1v1h-1zM14 67h1v1h-1zM21 67h1v1h-1zM36 67h3v1h-3zM45 67h1v1h-1zM55 67h1v1h-1zM64 67h1v1h-1zM66 67h3v1h-3zM71 67h1v1h-1zM5 68h1v1h-1zM7 68h1v1h-1zM25 68h1v1h-1zM32 68h1v1h-1zM36 68h2v1h-2zM39 68h1v1h-1zM55 68h1v1h-1zM60 68h1v1h-1zM65 68h1v1h-1zM70 68h1v1h-1zM77 68h2v1h-2zM7 69h1v1h-1zM15 69h1v1h-1zM17 69h1v1h-1zM20 69h1v1h-1zM22 69h2v1h-2zM31 69h2v1h-2zM34 69h1v1h-1zM36 69h1v1h-1zM38 69h1v1h-1zM45 69h1v1h-1zM49 69h1v1h-1zM52 69h1v1h-1zM60 69h1v1h-1zM66 69h1v1h-1zM76 69h2v1h-2zM5 70h1v1h-1zM17 70h1v1h-1zM29 70h1v1h-1zM32 70h1v1h-1zM40 70h1v1h-1zM43 70h1v1h-1zM45 70h1v1h-1zM57 70h1v1h-1zM69 70h1v1h-1zM73 70h1v1h-1zM6 71h2v1h-2zM17 71h2v1h-2zM28 71h1v1h-1zM31 71h1v1h-1zM34 71h1v1h-1zM44 71h1v1h-1zM52 71h1v1h-1zM56 71h2v1h-2zM59 71h1v1h-1zM62 71h1v1h-1zM67 71h1v1h-1zM74 71h1v1h-1zM77 71h1v1h-1zM5 72h1v1h-1zM23 72h1v1h-1zM50 72h1v1h-1zM58 72h1v1h-1zM62 72h1v1h-1zM67 72h1v1h-1zM69 72h2v1h-2zM78 72h2v1h-2zM0 73h1v1h-1zM3 73h1v1h-1zM5 73h2v1h-2zM20 73h1v1h-1zM25 73h1v1h-1zM33 73h1v1h-1zM53 73h1v1h-1zM59 73h1v1h-1zM61 73h1v1h-1zM65 73h1v1h-1zM69 73h1v1h-1zM71 73h1v1h-1zM77 73h1v1h-1zM0 74h1v1h-1zM3 74h3v1h-3zM9 74h4v1h-4zM15 74h1v1h-1zM17 74h1v1h-1zM20 74h1v1h-1zM50 74h1v1h-1zM54 74h1v1h-1zM61 74h1v1h-1zM66 74h1v1h-1zM70 74h1v1h-1zM72 74h1v1h-1zM77 74h1v1h-1zM79 74h1v1h-1zM1 75h1v1h-1zM5 75h1v1h-1zM11 75h1v1h-1zM19 75h3v1h-3zM23 75h1v1h-1zM26 75h1v1h-1zM34 75h1v1h-1zM40 75h1v1h-1zM48 75h1v1h-1zM54 75h1v1h-1zM58 75h1v1h-1zM66 75h1v1h-1zM68 75h1v1h-1zM73 75h1v1h-1zM77 75h1v1h-1zM5 76h1v1h-1zM11 76h2v1h-2zM34 76h1v1h-1zM41 76h1v1h-1zM52 76h2v1h-2zM65 76h1v1h-1zM1 77h1v1h-1zM3 77h1v1h-1zM6 77h1v1h-1zM10 77h1v1h-1zM15 77h1v1h-1zM32 77h1v1h-1zM41 77h1v1h-1zM50 77h1v1h-1zM68 77h1v1h-1zM71 77h1v1h-1zM4 78h1v1h-1zM7 78h1v1h-1zM12 78h1v1h-1zM17 78h1v1h-1zM21 78h1v1h-1zM50 78h1v1h-1zM64 78h2v1h-2zM69 78h3v1h-3zM73 78h1v1h-1zM75 78h1v1h-1zM79 78h1v1h-1zM2 79h1v1h-1zM4 79h1v1h-1zM12 79h1v1h-1zM26 79h1v1h-1zM34 79h1v1h-1zM47 79h1v1h-1zM50 79h1v1h-1zM65 79h1v1h-1zM73 79h2v1h-2z"/>
<path fill="#90c6df" d="M7 0h1v1h-1zM11 0h1v1h-1zM23 0h1v1h-1zM50 0h1v1h-1zM54 0h1v1h-1zM57 0h2v1h-2zM67 0h1v1h-1zM74 0h1v1h-1zM78 0h1v1h-1zM8 1h1v1h-1zM38 1h2v1h-2zM54 1h1v1h-1zM66 1h1v1h-1zM78 1h1v1h-1zM2 2h1v1h-1zM16 2h1v1h-1zM22 2h1v1h-1zM31 2h1v1h-1zM33 2h2v1h-2zM42 2h1v1h-1zM51 2h1v1h-1zM73 2h1v1h-1zM1 3h2v1h-2zM21 3h1v1h-1zM51 3h2v1h-2zM54 3h2v1h-2zM60 3h1v1h-1zM66 3h1v1h-1zM1 4h1v1h-1zM20 4h2v1h-2zM40 4h1v1h-1zM56 4h1v1h-1zM64 4h1v1h-1zM66 4h1v1h-1zM3 5h1v1h-1zM10 5h2v1h-2zM17 5h1v1h-1zM23 5h1v1h-1zM42 5h1v1h-1zM44 5h1v1h-1zM55 5h1v1h-1zM78 5h1v1h-1zM3 6h1v1h-1zM18 6h1v1h-1zM78 6h1v1h-1zM7 7h2v1h-2zM18 7h1v1h-1zM23 7h1v1h-1zM28 7h1v1h-1zM61 7h3v1h-3zM73 7h1v1h-1zM77 7h1v1h-1zM4 8h3v1h-3zM26 8h2v1h-2zM46 8h1v1h-1zM57 8h1v1h-1zM60 8h1v1h-1zM62 8h2v1h-2zM68 8h1v1h-1zM71 8h1v1h-1zM41 9h2v1h-2zM47 9h1v1h-1zM4 10h1v1h-1zM7 10h1v1h-1zM24 10h1v1h-1zM26 10h1v1h-1zM46 10h1v1h-1zM54 10h1v1h-1zM56 10h2v1h-2zM62 10h1v1h-1zM71 10h1v1h-1zM73 10h1v1h-1zM78 10h1v1h-1zM4 11h2v1h-2zM20 11h1v1h-1zM23 11h2v1h-2zM26 11h1v1h-1zM29 11h2v1h-2zM35 11h1v1h-1zM42 11h1v1h-1zM50 11h1v1h-1zM57 11h1v1h-1zM61 11h1v1h-1zM71 11h2v1h-2zM78 11h1v1h-1zM6 12h1v1h-1zM11 12h1v1h-1zM24 12h1v1h-1zM36 12h1v1h-1zM41 12h2v1h-2zM73 12h1v1h-1zM76 12h1v1h-1zM1 13h1v1h-1zM5 13h1v1h-1zM26 13h1v1h-1zM28 13h1v1h-1zM32 13h1v1h-1zM43 13h1v1h-1zM45 13h1v1h-1zM62 13h1v1h-1zM74 13h1v1h-1zM76 13h1v1h-1zM11 14h1v1h-1zM28 14h1v1h-1zM40 14h1v1h-1zM70 14h2v1h-2zM73 14h1v1h-1zM77 14h1v1h-1zM79 14h1v1h-1zM8 15h1v1h-1zM14 15h1v1h-1zM29 15h1v1h-1zM39 15h1v1h-1zM41 15h1v1h-1zM57 15h1v1h-1zM76 15h1v1h-1zM79 15h1v1h-1zM4 16h1v1h-1zM6 16h1v1h-1zM12 16h1v1h-1zM14 16h1v1h-1zM53 16h1v1h-1zM59 16h2v1h-2zM0 17h1v1h-1zM8 17h1v1h-1zM19 17h2v1h-2zM22 17h1v1h-1zM67 17h1v1h-1zM71 17h3v1h-3zM13 18h1v1h-1zM35 18h1v1h-1zM39 18h2v1h-2zM45 18h1v1h-1zM61 18h1v1h-1zM73 18h1v1h-1zM4 19h1v1h-1zM8 19h2v1h-2zM12 19h1v1h-1zM21 19h1v1h-1zM44 19h1v1h-1zM49 19h2v1h-2zM64 19h1v1h-1zM67 19h1v1h-1zM69 19h1v1h-1zM71 19h1v1h-1zM8 20h1v1h-1zM27 20h1v1h-1zM29 20h1v1h-1zM33 20h1v1h-1zM41 20h1v1h-1zM48 20h2v1h-2zM65 20h1v1h-1zM68 20h2v1h-2zM76 20h2v1h-2zM27 21h1v1h-1zM30 21h1v1h-1zM50 21h1v1h-1zM54 21h1v1h-1zM59 21h1v1h-1zM68 21h1v1h-1zM76 21h1v1h-1zM79 21h1v1h-1zM5 22h1v1h-1zM15 22h1v1h-1zM17 22h1v1h-1zM21 22h2v1h-2zM28 22h1v1h-1zM35 22h1v1h-1zM56 22h1v1h-1zM58 22h1v1h-1zM62 22h2v1h-2zM4 23h1v1h-1zM13 23h1v1h-1zM16 23h1v1h-1zM21 23h1v1h-1zM24 23h1v1h-1zM46 23h1v1h-1zM54 23h1v1h-1zM74 23h2v1h-2zM0 24h2v1h-2zM10 24h1v1h-1zM20 24h1v1h-1zM64 24h2v1h-2zM67 24h1v1h-1zM1 25h1v1h-1zM46 25h1v1h-1zM78 25h1v1h-1zM1 26h1v1h-1zM28 26h1v1h-1zM41 26h1v1h-1zM55 26h1v1h-1zM59 26h1v1h-1zM74 26h1v1h-1zM76 26h1v1h-1zM10 27h1v1h-1zM58 27h2v1h-2zM2 28h1v1h-1zM13 28h1v1h-1zM16 28h1v1h-1zM27 28h1v1h-1zM63 28h1v1h-1zM75 28h1v1h-1zM4 29h1v1h-1zM9 29h1v1h-1zM19 29h1v1h-1zM48 29h1v1h-1zM57 29h1v1h-1zM60 29h1v1h-1zM8 30h1v1h-1zM18 30h1v1h-1zM24 30h1v1h-1zM53 30h1v1h-1zM59 30h1v1h-1zM62 30h1v1h-1zM5 31h1v1h-1zM8 31h1v1h-1zM12 31h1v1h-1zM17 31h1v1h-1zM23 31h1v1h-1zM56 31h1v1h-1zM59 31h2v1h-2zM2 32h1v1h-1zM6 32h2v1h-2zM12 32h1v1h-1zM18 32h1v1h-1zM20 32h1v1h-1zM23 32h1v1h-1zM44 32h1v1h-1zM65 32h1v1h-1zM71 32h1v1h-1zM1 33h1v1h-1zM7 33h1v1h-1zM13 33h1v1h-1zM19 33h1v1h-1zM26 33h1v1h-1zM52 33h1v1h-1zM65 33h1v1h-1zM74 33h1v1h-1zM2 34h1v1h-1zM9 34h1v1h-1zM61 34h1v1h-1zM65 34h1v1h-1zM69 34h2v1h-2zM76 34h1v1h-1zM4 35h1v1h-1zM45 35h1v1h-1zM75 35h2v1h-2zM18 36h1v1h-1zM52 36h1v1h-1zM61 36h1v1h-1zM0 37h1v1h-1zM2 37h1v1h-1zM7 37h1v1h-1zM10 37h1v1h-1zM27 37h1v1h-1zM40 37h1v1h-1zM51 37h1v1h-1zM65 37h1v1h-1zM69 37h2v1h-2zM4 38h1v1h-1zM7 38h1v1h-1zM11 38h1v1h-1zM21 38h1v1h-1zM25 38h1v1h-1zM31 38h1v1h-1zM56 38h1v1h-1zM72 38h1v1h-1zM74 38h1v1h-1zM1 39h1v1h-1zM5 39h2v1h-2zM27 39h1v1h-1zM48 39h1v1h-1zM64 39h1v1h-1zM68 39h3v1h-3zM73 39h1v1h-1zM0 40h2v1h-2zM6 40h1v1h-1zM8 40h2v1h-2zM11 40h2v1h-2zM15 40h1v1h-1zM27 40h1v1h-1zM39 40h3v1h-3zM53 40h1v1h-1zM71 40h1v1h-1zM75 40h1v1h-1zM16 41h1v1h-1zM40 41h1v1h-1zM42 41h1v1h-1zM47 41h1v1h-1zM74 41h1v1h-1zM2 42h1v1h-1zM16 42h1v1h-1zM21 42h1v1h-1zM24 42h1v1h-1zM28 42h1v1h-1zM30 42h1v1h-1zM47 42h1v1h-1zM53 42h1v1h-1zM59 42h1v1h-1zM74 42h1v1h-1zM5 43h1v1h-1zM22 43h1v1h-1zM25 43h1v1h-1zM50 43h1v1h-1zM54 43h2v1h-2zM14 44h1v1h-1zM22 44h1v1h-1zM28 44h1v1h-1zM30 44h1v1h-1zM35 44h1v1h-1zM51 44h2v1h-2zM54 44h2v1h-2zM71 44h1v1h-1zM30 45h1v1h-1zM61 45h2v1h-2zM66 45h1v1h-1zM14 46h1v1h-1zM19 46h1v1h-1zM31 46h1v1h-1zM45 46h1v1h-1zM71 46h1v1h-1zM66 47h1v1h-1zM73 47h1v1h-1zM79 47h1v1h-1zM3 48h1v1h-1zM17 48h1v1h-1zM28 48h2v1h-2zM48 48h1v1h-1zM56 48h1v1h-1zM1 49h1v1h-1zM8 49h1v1h-1zM48 49h1v1h-1zM55 49h1v1h-1zM60 49h1v1h-1zM64 49h1v1h-1zM75 49h1v1h-1zM0 50h2v1h-2zM3 50h1v1h-1zM61 50h1v1h-1zM65 50h1v1h-1zM72 50h1v1h-1zM4 51h1v1h-1zM6 51h1v1h-1zM10 51h2v1h-2zM16 51h1v1h-1zM55 51h1v1h-1zM58 51h1v1h-1zM65 51h2v1h-2zM68 51h1v1h-1zM7 52h1v1h-1zM10 52h1v1h-1zM13 52h1v1h-1zM19 52h1v1h-1zM55 52h2v1h-2zM58 52h2v1h-2zM65 52h1v1h-1zM70 52h1v1h-1zM1 53h1v1h-1zM14 53h1v1h-1zM28 53h1v1h-1zM41 53h1v1h-1zM57 53h4v1h-4zM62 53h1v1h-1zM70 53h1v1h-1zM0 54h1v1h-1zM27 54h1v1h-1zM68 54h1v1h-1zM75 54h1v1h-1zM1 55h1v1h-1zM6 55h1v1h-1zM13 55h1v1h-1zM66 55h1v1h-1zM1 56h2v1h-2zM34 56h1v1h-1zM53 56h1v1h-1zM66 56h1v1h-1zM0 57h2v1h-2zM4 57h3v1h-3zM24 57h1v1h-1zM49 57h1v1h-1zM53 57h2v1h-2zM57 57h1v1h-1zM62 57h1v1h-1zM4 58h1v1h-1zM32 58h1v1h-1zM35 58h2v1h-2zM51 58h2v1h-2zM54 58h1v1h-1zM68 58h1v1h-1zM25 59h1v1h-1zM47 59h1v1h-1zM53 59h1v1h-1zM61 59h2v1h-2zM1 60h2v1h-2zM6 60h1v1h-1zM8 60h1v1h-1zM25 60h1v1h-1zM28 60h1v1h-1zM43 60h1v1h-1zM60 60h1v1h-1zM70 60h1v1h-1zM77 60h1v1h-1zM0 61h1v1h-1zM3 61h1v1h-1zM6 61h1v1h-1zM9 61h1v1h-1zM11 61h1v1h-1zM14 61h1v1h-1zM27 61h1v1h-1zM29 61h1v1h-1zM39 61h1v1h-1zM60 61h1v1h-1zM69 61h2v1h-2zM1 62h1v1h-1zM11 62h1v1h-1zM19 62h1v1h-1zM22 62h1v1h-1zM31 62h1v1h-1zM48 62h1v1h-1zM64 62h1v1h-1zM71 62h1v1h-1zM73 62h1v1h-1zM75 62h1v1h-1zM77 62h1v1h-1zM3 63h1v1h-1zM6 63h1v1h-1zM8 63h1v1h-1zM16 63h1v1h-1zM32 63h1v1h-1zM58 63h1v1h-1zM64 63h1v1h-1zM73 63h1v1h-1zM2 64h1v1h-1zM7 64h1v1h-1zM35 64h1v1h-1zM54 64h1v1h-1zM56 64h2v1h-2zM64 64h1v1h-1zM78 64h2v1h-2zM0 65h1v1h-1zM8 65h1v1h-1zM13 65h1v1h-1zM31 65h1v1h-1zM40 65h1v1h-1zM3 66h1v1h-1zM6 66h1v1h-1zM18 66h1v1h-1zM22 66h1v1h-1zM25 66h1v1h-1zM57 66h1v1h-1zM65 66h3v1h-3zM76 66h1v1h-1zM2 67h2v1h-2zM16 67h1v1h-1zM20 67h1v1h-1zM25 67h1v1h-1zM39 67h1v1h-1zM42 67h2v1h-2zM15 68h2v1h-2zM21 68h3v1h-3zM41 68h1v1h-1zM52 68h1v1h-1zM57 68h1v1h-1zM4 69h2v1h-2zM9 69h1v1h-1zM16 69h1v1h-1zM21 69h1v1h-1zM28 69h1v1h-1zM47 69h1v1h-1zM64 69h2v1h-2zM22 70h1v1h-1zM25 70h1v1h-1zM30 70h1v1h-1zM36 70h1v1h-1zM65 70h1v1h-1zM68 70h1v1h-1zM71 70h1v1h-1zM74 70h3v1h-3zM20 71h1v1h-1zM23 71h1v1h-1zM25 71h2v1h-2zM30 71h1v1h-1zM37 71h2v1h-2zM45 71h1v1h-1zM54 71h2v1h-2zM72 71h2v1h-2zM75 71h2v1h-2zM6 72h1v1h-1zM15 72h1v1h-1zM21 72h1v1h-1zM42 72h1v1h-1zM74 72h3v1h-3zM1 73h2v1h-2zM23 73h1v1h-1zM39 73h1v1h-1zM50 73h1v1h-1zM52 73h1v1h-1zM58 73h1v1h-1zM60 73h1v1h-1zM66 73h1v1h-1zM78 73h2v1h-2zM1 74h1v1h-1zM14 74h1v1h-1zM18 74h2v1h-2zM23 74h1v1h-1zM27 74h1v1h-1zM32 74h1v1h-1zM36 74h1v1h-1zM60 74h1v1h-1zM75 74h1v1h-1zM78 74h1v1h-1zM4 75h1v1h-1zM12 75h1v1h-1zM14 75h1v1h-1zM33 75h1v1h-1zM37 75h1v1h-1zM41 75h1v1h-1zM50 75h1v1h-1zM64 75h2v1h-2zM69 75h2v1h-2zM2 76h1v1h-1zM9 76h1v1h-1zM14 76h1v1h-1zM17 76h2v1h-2zM22 76h1v1h-1zM31 76h1v1h-1zM40 76h1v1h-1zM42 76h1v1h-1zM50 76h1v1h-1zM57 76h2v1h-2zM70 76h3v1h-3zM2 77h1v1h-1zM46 77h1v1h-1zM49 77h1v1h-1zM70 77h1v1h-1zM3 78h1v1h-1zM18 78h1v1h-1zM20 78h1v1h-1zM22 78h1v1h-1zM34 78h1v1h-1zM37 78h1v1h-1zM40 78h1v1h-1zM46 78h1v1h-1zM3 79h1v1h-1zM18 79h1v1h-1zM21 79h1v1h-1zM23 79h1v1h-1zM64 79h1v1h-1zM69 79h1v1h-1zM79 79h1v1h-1z"/>
<path fill="#8ac2de" d="M55 0h1v1h-1zM66 0h1v1h-1zM79 0h1v1h-1zM26 2h2v1h-2zM32 2h1v1h-1zM35 2h2v1h-2zM43 2h1v1h-1zM74 2h1v1h-1zM16 3h1v1h-1zM22 3h1v1h-1zM27 3h1v1h-1zM35 3h1v1h-1zM45 3h1v1h-1zM2 4h1v1h-1zM16 4h1v1h-1zM18 4h1v1h-1zM27 4h1v1h-1zM42 4h1v1h-1zM54 4h1v1h-1zM65 4h1v1h-1zM18 5h1v1h-1zM4 6h1v1h-1zM23 6h1v1h-1zM21 7h2v1h-2zM58 7h1v1h-1zM60 7h1v1h-1zM71 7h1v1h-1zM56 8h1v1h-1zM4 9h1v1h-1zM27 9h3v1h-3zM46 9h1v1h-1zM48 9h1v1h-1zM56 9h3v1h-3zM71 9h1v1h-1zM5 10h1v1h-1zM47 10h1v1h-1zM58 10h1v1h-1zM72 10h1v1h-1zM76 10h1v1h-1zM31 11h1v1h-1zM41 11h1v1h-1zM43 11h2v1h-2zM58 11h1v1h-1zM75 11h1v1h-1zM5 12h1v1h-1zM26 12h1v1h-1zM46 12h1v1h-1zM75 12h1v1h-1zM0 13h1v1h-1zM33 13h1v1h-1zM46 13h1v1h-1zM24 14h1v1h-1zM29 14h1v1h-1zM35 14h1v1h-1zM46 14h1v1h-1zM74 14h1v1h-1zM7 15h1v1h-1zM15 15h1v1h-1zM21 15h1v1h-1zM24 15h1v1h-1zM30 15h1v1h-1zM43 15h1v1h-1zM73 15h2v1h-2zM77 15h2v1h-2zM7 16h1v1h-1zM24 16h1v1h-1zM29 16h1v1h-1zM41 16h1v1h-1zM46 16h1v1h-1zM49 16h1v1h-1zM52 16h1v1h-1zM73 16h1v1h-1zM24 17h1v1h-1zM35 17h1v1h-1zM39 17h1v1h-1zM47 17h1v1h-1zM59 17h1v1h-1zM74 17h1v1h-1zM9 18h1v1h-1zM17 18h1v1h-1zM25 18h1v1h-1zM27 18h1v1h-1zM42 18h1v1h-1zM46 18h1v1h-1zM62 18h3v1h-3zM66 18h1v1h-1zM70 18h1v1h-1zM72 18h1v1h-1zM74 18h1v1h-1zM5 19h1v1h-1zM26 19h1v1h-1zM38 20h1v1h-1zM33 21h1v1h-1zM64 21h2v1h-2zM69 21h1v1h-1zM78 21h1v1h-1zM2 22h1v1h-1zM6 22h1v1h-1zM20 22h1v1h-1zM38 22h1v1h-1zM51 22h1v1h-1zM55 22h1v1h-1zM5 23h1v1h-1zM9 23h2v1h-2zM14 23h2v1h-2zM20 23h1v1h-1zM22 23h1v1h-1zM27 23h1v1h-1zM34 23h1v1h-1zM50 23h2v1h-2zM55 23h1v1h-1zM71 23h1v1h-1zM73 23h1v1h-1zM2 24h1v1h-1zM6 24h1v1h-1zM9 24h1v1h-1zM31 24h1v1h-1zM35 24h1v1h-1zM52 24h1v1h-1zM55 24h2v1h-2zM61 24h1v1h-1zM72 24h1v1h-1zM16 25h2v1h-2zM23 25h2v1h-2zM52 25h2v1h-2zM61 25h2v1h-2zM77 25h1v1h-1zM2 26h1v1h-1zM7 26h1v1h-1zM11 26h1v1h-1zM20 26h2v1h-2zM57 26h1v1h-1zM63 26h1v1h-1zM75 26h1v1h-1zM77 26h1v1h-1zM9 27h1v1h-1zM23 27h1v1h-1zM64 27h1v1h-1zM78 27h1v1h-1zM14 28h1v1h-1zM54 28h1v1h-1zM58 28h1v1h-1zM62 28h1v1h-1zM3 29h1v1h-1zM10 29h1v1h-1zM14 29h1v1h-1zM21 29h1v1h-1zM52 29h1v1h-1zM62 29h1v1h-1zM54 30h1v1h-1zM60 30h1v1h-1zM4 31h1v1h-1zM9 31h3v1h-3zM14 31h1v1h-1zM44 31h1v1h-1zM8 32h1v1h-1zM14 32h1v1h-1zM19 32h1v1h-1zM45 32h1v1h-1zM50 32h1v1h-1zM73 32h1v1h-1zM78 32h2v1h-2zM3 33h2v1h-2zM9 33h1v1h-1zM14 33h1v1h-1zM18 33h1v1h-1zM34 33h1v1h-1zM48 33h2v1h-2zM18 34h1v1h-1zM44 34h1v1h-1zM55 34h1v1h-1zM0 35h1v1h-1zM38 35h1v1h-1zM54 35h1v1h-1zM16 36h1v1h-1zM40 36h1v1h-1zM42 36h2v1h-2zM56 36h1v1h-1zM63 36h1v1h-1zM11 37h1v1h-1zM50 37h1v1h-1zM53 37h1v1h-1zM26 38h1v1h-1zM29 38h1v1h-1zM33 38h1v1h-1zM52 38h1v1h-1zM55 38h1v1h-1zM68 38h1v1h-1zM73 38h1v1h-1zM11 39h1v1h-1zM31 39h1v1h-1zM43 39h1v1h-1zM57 39h1v1h-1zM67 39h1v1h-1zM10 40h1v1h-1zM16 40h1v1h-1zM43 40h1v1h-1zM51 40h1v1h-1zM58 40h1v1h-1zM66 40h1v1h-1zM69 40h1v1h-1zM74 40h1v1h-1zM0 41h3v1h-3zM8 41h1v1h-1zM10 41h1v1h-1zM15 41h1v1h-1zM25 41h1v1h-1zM55 41h1v1h-1zM58 41h1v1h-1zM1 42h1v1h-1zM10 42h1v1h-1zM15 42h1v1h-1zM26 42h2v1h-2zM42 42h1v1h-1zM55 42h1v1h-1zM75 42h1v1h-1zM79 42h1v1h-1zM0 43h1v1h-1zM4 43h1v1h-1zM8 43h1v1h-1zM30 43h1v1h-1zM51 43h1v1h-1zM53 43h1v1h-1zM63 43h1v1h-1zM29 44h1v1h-1zM34 44h1v1h-1zM37 44h1v1h-1zM49 44h2v1h-2zM53 44h1v1h-1zM56 44h1v1h-1zM72 44h1v1h-1zM52 45h1v1h-1zM56 45h1v1h-1zM58 45h1v1h-1zM3 46h1v1h-1zM66 46h1v1h-1zM73 46h1v1h-1zM14 47h1v1h-1zM19 47h1v1h-1zM49 47h1v1h-1zM55 47h1v1h-1zM1 48h1v1h-1zM14 48h1v1h-1zM18 48h1v1h-1zM20 48h2v1h-2zM47 48h1v1h-1zM51 48h1v1h-1zM0 49h1v1h-1zM14 49h1v1h-1zM26 49h1v1h-1zM29 49h1v1h-1zM49 49h1v1h-1zM52 49h1v1h-1zM57 49h1v1h-1zM61 49h1v1h-1zM67 49h1v1h-1zM73 49h1v1h-1zM23 50h1v1h-1zM28 50h1v1h-1zM50 50h1v1h-1zM53 50h3v1h-3zM57 50h1v1h-1zM74 50h2v1h-2zM5 51h1v1h-1zM12 51h1v1h-1zM14 51h2v1h-2zM26 51h1v1h-1zM30 51h1v1h-1zM52 51h1v1h-1zM59 51h1v1h-1zM67 51h1v1h-1zM15 52h1v1h-1zM23 52h1v1h-1zM26 52h1v1h-1zM28 52h1v1h-1zM30 52h1v1h-1zM46 52h1v1h-1zM0 53h1v1h-1zM20 53h2v1h-2zM24 53h1v1h-1zM34 53h1v1h-1zM49 53h1v1h-1zM69 53h1v1h-1zM13 54h1v1h-1zM58 54h2v1h-2zM66 54h1v1h-1zM24 55h1v1h-1zM18 56h2v1h-2zM23 56h1v1h-1zM52 56h1v1h-1zM70 56h1v1h-1zM26 57h1v1h-1zM32 57h1v1h-1zM38 57h1v1h-1zM42 57h2v1h-2zM46 57h1v1h-1zM51 57h2v1h-2zM18 58h1v1h-1zM27 58h1v1h-1zM34 58h1v1h-1zM39 58h1v1h-1zM57 58h1v1h-1zM76 58h1v1h-1zM16 59h1v1h-1zM24 59h1v1h-1zM40 59h1v1h-1zM51 59h2v1h-2zM63 59h1v1h-1zM65 59h1v1h-1zM69 59h2v1h-2zM77 59h1v1h-1zM0 60h1v1h-1zM36 60h2v1h-2zM50 60h1v1h-1zM62 60h1v1h-1zM66 60h1v1h-1zM69 60h1v1h-1zM1 61h1v1h-1zM21 61h1v1h-1zM25 61h1v1h-1zM48 61h1v1h-1zM72 61h1v1h-1zM76 61h1v1h-1zM10 62h1v1h-1zM35 62h1v1h-1zM42 62h1v1h-1zM72 62h1v1h-1zM76 62h1v1h-1zM7 63h1v1h-1zM10 63h1v1h-1zM15 63h1v1h-1zM41 63h1v1h-1zM65 63h2v1h-2zM11 64h1v1h-1zM13 64h1v1h-1zM34 64h1v1h-1zM39 64h1v1h-1zM41 64h1v1h-1zM52 64h1v1h-1zM77 64h1v1h-1zM6 65h1v1h-1zM12 65h1v1h-1zM16 65h2v1h-2zM20 65h1v1h-1zM22 65h1v1h-1zM32 65h1v1h-1zM66 65h1v1h-1zM76 65h2v1h-2zM0 66h1v1h-1zM7 66h1v1h-1zM15 66h1v1h-1zM20 66h1v1h-1zM8 67h1v1h-1zM22 67h3v1h-3zM56 67h2v1h-2zM63 67h1v1h-1zM8 68h1v1h-1zM48 68h1v1h-1zM56 68h1v1h-1zM26 69h1v1h-1zM40 69h1v1h-1zM48 69h1v1h-1zM70 69h2v1h-2zM74 69h2v1h-2zM28 70h1v1h-1zM31 70h1v1h-1zM34 70h1v1h-1zM49 70h1v1h-1zM64 70h1v1h-1zM70 70h1v1h-1zM22 71h1v1h-1zM27 71h1v1h-1zM42 71h1v1h-1zM50 71h2v1h-2zM58 71h1v1h-1zM68 71h1v1h-1zM71 71h1v1h-1zM17 72h1v1h-1zM27 72h1v1h-1zM48 72h2v1h-2zM32 73h1v1h-1zM42 73h1v1h-1zM51 73h1v1h-1zM70 73h1v1h-1zM2 74h1v1h-1zM25 74h1v1h-1zM33 74h1v1h-1zM74 74h1v1h-1zM9 75h2v1h-2zM15 75h3v1h-3zM25 75h1v1h-1zM42 75h1v1h-1zM44 75h1v1h-1zM52 75h1v1h-1zM43 76h1v1h-1zM51 76h1v1h-1zM74 76h1v1h-1zM4 77h1v1h-1zM37 77h1v1h-1zM40 77h1v1h-1zM69 77h1v1h-1zM2 78h1v1h-1zM38 78h1v1h-1zM41 78h1v1h-1zM22 79h1v1h-1zM41 79h1v1h-1zM46 79h1v1h-1z"/>
<path fill="#84bedc" d="M49 0h1v1h-1zM23 1h1v1h-1zM55 1h1v1h-1zM39 2h1v1h-1zM45 2h1v1h-1zM44 3h1v1h-1zM65 3h1v1h-1zM19 4h1v1h-1zM22 4h1v1h-1zM16 5h1v1h-1zM35 7h2v1h-2zM59 7h1v1h-1zM66 7h1v1h-1zM23 8h1v1h-1zM28 8h1v1h-1zM55 8h1v1h-1zM58 8h1v1h-1zM66 8h1v1h-1zM5 9h1v1h-1zM6 10h1v1h-1zM0 11h2v1h-2zM27 11h1v1h-1zM73 11h2v1h-2zM1 12h1v1h-1zM29 12h2v1h-2zM30 13h1v1h-1zM57 13h2v1h-2zM61 13h1v1h-1zM75 13h1v1h-1zM21 14h1v1h-1zM26 14h1v1h-1zM41 14h1v1h-1zM75 14h2v1h-2zM25 15h1v1h-1zM31 15h2v1h-2zM35 15h1v1h-1zM44 15h2v1h-2zM47 15h1v1h-1zM71 15h1v1h-1zM15 16h2v1h-2zM34 16h2v1h-2zM39 16h1v1h-1zM74 16h1v1h-1zM25 17h2v1h-2zM51 17h1v1h-1zM65 17h1v1h-1zM8 18h1v1h-1zM16 18h1v1h-1zM33 18h1v1h-1zM67 18h1v1h-1zM28 19h1v1h-1zM47 19h2v1h-2zM65 19h1v1h-1zM28 21h2v1h-2zM31 21h2v1h-2zM35 21h1v1h-1zM16 22h1v1h-1zM37 22h1v1h-1zM33 23h1v1h-1zM36 23h1v1h-1zM42 23h1v1h-1zM47 23h1v1h-1zM52 23h2v1h-2zM60 23h1v1h-1zM72 23h1v1h-1zM21 24h1v1h-1zM32 24h1v1h-1zM60 24h1v1h-1zM66 24h1v1h-1zM21 25h1v1h-1zM54 25h2v1h-2zM16 26h1v1h-1zM23 26h1v1h-1zM35 26h1v1h-1zM46 26h1v1h-1zM56 26h1v1h-1zM78 26h1v1h-1zM22 27h1v1h-1zM44 27h1v1h-1zM57 27h1v1h-1zM3 28h1v1h-1zM9 28h1v1h-1zM24 28h2v1h-2zM44 28h1v1h-1zM57 28h1v1h-1zM18 29h1v1h-1zM47 29h1v1h-1zM54 29h1v1h-1zM45 30h1v1h-1zM57 31h1v1h-1zM3 32h1v1h-1zM9 32h2v1h-2zM41 32h1v1h-1zM2 33h1v1h-1zM21 33h1v1h-1zM56 33h1v1h-1zM72 33h1v1h-1zM8 34h1v1h-1zM52 34h1v1h-1zM8 35h1v1h-1zM22 35h1v1h-1zM43 35h1v1h-1zM57 35h1v1h-1zM61 35h1v1h-1zM19 36h1v1h-1zM57 36h1v1h-1zM60 36h1v1h-1zM1 37h1v1h-1zM15 37h1v1h-1zM49 37h1v1h-1zM52 37h1v1h-1zM15 38h1v1h-1zM24 38h1v1h-1zM27 38h2v1h-2zM36 38h1v1h-1zM40 38h1v1h-1zM48 38h1v1h-1zM65 38h1v1h-1zM67 38h1v1h-1zM0 39h1v1h-1zM12 39h1v1h-1zM30 39h1v1h-1zM55 39h1v1h-1zM66 39h1v1h-1zM3 40h1v1h-1zM14 40h1v1h-1zM17 40h1v1h-1zM30 40h1v1h-1zM45 40h2v1h-2zM50 40h1v1h-1zM56 40h1v1h-1zM9 41h1v1h-1zM14 41h1v1h-1zM46 41h1v1h-1zM64 41h1v1h-1zM70 41h1v1h-1zM11 42h1v1h-1zM29 42h1v1h-1zM31 42h1v1h-1zM71 42h1v1h-1zM21 43h1v1h-1zM31 43h1v1h-1zM52 43h1v1h-1zM79 43h1v1h-1zM8 44h1v1h-1zM38 44h1v1h-1zM44 44h1v1h-1zM48 44h1v1h-1zM25 45h2v1h-2zM31 45h1v1h-1zM48 45h1v1h-1zM70 45h1v1h-1zM24 46h2v1h-2zM29 46h1v1h-1zM47 46h1v1h-1zM51 46h1v1h-1zM64 46h1v1h-1zM72 46h1v1h-1zM3 47h1v1h-1zM27 47h1v1h-1zM30 47h1v1h-1zM51 47h1v1h-1zM54 47h1v1h-1zM2 48h1v1h-1zM27 48h1v1h-1zM49 48h1v1h-1zM52 48h1v1h-1zM55 48h1v1h-1zM61 48h1v1h-1zM72 48h1v1h-1zM2 49h2v1h-2zM21 49h1v1h-1zM28 49h1v1h-1zM30 49h1v1h-1zM36 49h1v1h-1zM72 49h1v1h-1zM24 50h1v1h-1zM31 50h1v1h-1zM48 50h2v1h-2zM28 51h1v1h-1zM51 51h1v1h-1zM14 52h1v1h-1zM20 52h1v1h-1zM25 52h1v1h-1zM29 52h1v1h-1zM36 52h1v1h-1zM1 54h2v1h-2zM43 54h1v1h-1zM46 54h1v1h-1zM57 54h1v1h-1zM65 54h1v1h-1zM23 55h1v1h-1zM29 55h1v1h-1zM35 55h1v1h-1zM64 55h2v1h-2zM17 56h1v1h-1zM24 56h1v1h-1zM44 56h2v1h-2zM51 56h1v1h-1zM54 56h1v1h-1zM8 57h1v1h-1zM25 57h1v1h-1zM39 57h1v1h-1zM26 58h1v1h-1zM43 58h1v1h-1zM48 58h1v1h-1zM33 59h1v1h-1zM35 59h1v1h-1zM29 60h1v1h-1zM49 60h1v1h-1zM51 60h1v1h-1zM63 60h1v1h-1zM65 60h1v1h-1zM28 61h1v1h-1zM40 61h2v1h-2zM2 62h2v1h-2zM9 62h1v1h-1zM37 62h1v1h-1zM47 62h1v1h-1zM70 62h1v1h-1zM9 63h1v1h-1zM67 63h1v1h-1zM12 64h1v1h-1zM40 64h1v1h-1zM50 64h2v1h-2zM55 64h1v1h-1zM23 65h1v1h-1zM8 66h1v1h-1zM31 66h1v1h-1zM31 67h1v1h-1zM48 67h1v1h-1zM42 68h1v1h-1zM63 68h2v1h-2zM8 69h1v1h-1zM27 69h1v1h-1zM35 69h1v1h-1zM44 69h1v1h-1zM46 70h2v1h-2zM19 71h1v1h-1zM40 71h2v1h-2zM43 71h1v1h-1zM46 71h2v1h-2zM69 71h2v1h-2zM18 72h2v1h-2zM37 72h1v1h-1zM41 72h1v1h-1zM47 72h1v1h-1zM55 72h1v1h-1zM77 72h1v1h-1zM43 73h1v1h-1zM51 74h3v1h-3zM2 75h1v1h-1zM18 75h1v1h-1zM22 75h1v1h-1zM24 75h1v1h-1zM43 75h1v1h-1zM51 75h1v1h-1zM53 75h1v1h-1zM74 75h1v1h-1zM4 76h1v1h-1zM10 76h1v1h-1zM15 76h1v1h-1zM68 76h1v1h-1zM38 77h1v1h-1zM39 78h1v1h-1zM32 79h1v1h-1z"/>
<path fill="#7fbbdb" d="M32 3h2v1h-2zM41 4h1v1h-1zM55 4h1v1h-1zM35 6h1v1h-1zM67 7h1v1h-1zM59 8h1v1h-1zM67 8h1v1h-1zM6 9h1v1h-1zM26 9h1v1h-1zM27 10h2v1h-2zM61 10h1v1h-1zM77 10h1v1h-1zM21 11h2v1h-2zM76 11h1v1h-1zM74 12h1v1h-1zM46 15h1v1h-1zM51 16h1v1h-1zM32 17h1v1h-1zM50 17h1v1h-1zM66 17h1v1h-1zM26 18h1v1h-1zM28 18h1v1h-1zM36 18h1v1h-1zM65 18h1v1h-1zM71 18h1v1h-1zM13 19h1v1h-1zM46 19h1v1h-1zM34 20h1v1h-1zM37 20h1v1h-1zM42 20h1v1h-1zM51 20h2v1h-2zM54 22h1v1h-1zM57 22h1v1h-1zM6 23h1v1h-1zM73 24h1v1h-1zM22 25h1v1h-1zM30 25h1v1h-1zM49 25h3v1h-3zM56 25h1v1h-1zM30 26h1v1h-1zM36 26h1v1h-1zM62 26h1v1h-1zM38 27h1v1h-1zM46 27h1v1h-1zM62 27h1v1h-1zM10 28h1v1h-1zM42 28h1v1h-1zM17 29h1v1h-1zM42 29h1v1h-1zM46 29h1v1h-1zM27 31h1v1h-1zM34 31h1v1h-1zM45 31h1v1h-1zM48 31h1v1h-1zM4 32h1v1h-1zM21 32h1v1h-1zM27 32h1v1h-1zM39 32h1v1h-1zM72 32h1v1h-1zM8 33h1v1h-1zM37 33h1v1h-1zM51 33h1v1h-1zM22 34h1v1h-1zM48 34h1v1h-1zM54 34h1v1h-1zM51 35h1v1h-1zM60 35h1v1h-1zM66 37h1v1h-1zM37 38h1v1h-1zM53 38h1v1h-1zM66 38h1v1h-1zM13 39h1v1h-1zM23 39h2v1h-2zM28 39h2v1h-2zM38 39h1v1h-1zM49 39h1v1h-1zM65 39h1v1h-1zM74 39h1v1h-1zM2 40h1v1h-1zM13 40h1v1h-1zM55 40h1v1h-1zM70 40h1v1h-1zM31 41h1v1h-1zM37 41h1v1h-1zM39 41h1v1h-1zM41 41h1v1h-1zM43 41h2v1h-2zM71 41h1v1h-1zM0 42h1v1h-1zM25 42h1v1h-1zM43 42h1v1h-1zM54 42h1v1h-1zM64 42h1v1h-1zM26 43h1v1h-1zM40 43h1v1h-1zM44 43h1v1h-1zM31 44h1v1h-1zM33 44h1v1h-1zM36 44h1v1h-1zM24 45h1v1h-1zM29 45h1v1h-1zM33 45h1v1h-1zM46 45h1v1h-1zM53 45h1v1h-1zM64 45h1v1h-1zM71 45h1v1h-1zM73 45h1v1h-1zM26 46h1v1h-1zM28 46h1v1h-1zM48 46h1v1h-1zM2 47h1v1h-1zM31 47h1v1h-1zM47 47h1v1h-1zM72 47h1v1h-1zM0 48h1v1h-1zM40 49h1v1h-1zM47 49h1v1h-1zM25 50h1v1h-1zM51 50h1v1h-1zM67 50h1v1h-1zM48 52h1v1h-1zM50 52h1v1h-1zM29 53h3v1h-3zM40 53h1v1h-1zM31 54h1v1h-1zM34 54h1v1h-1zM34 55h1v1h-1zM42 55h1v1h-1zM46 55h1v1h-1zM51 55h1v1h-1zM33 57h1v1h-1zM40 57h1v1h-1zM47 57h1v1h-1zM16 58h1v1h-1zM37 58h1v1h-1zM42 58h1v1h-1zM49 58h1v1h-1zM53 58h1v1h-1zM34 59h1v1h-1zM36 59h1v1h-1zM41 59h1v1h-1zM48 59h1v1h-1zM34 60h2v1h-2zM38 60h1v1h-1zM46 60h1v1h-1zM48 60h1v1h-1zM76 60h1v1h-1zM35 61h1v1h-1zM37 61h1v1h-1zM47 61h1v1h-1zM33 62h1v1h-1zM39 62h1v1h-1zM41 62h1v1h-1zM2 63h1v1h-1zM33 64h1v1h-1zM66 64h1v1h-1zM7 65h1v1h-1zM49 65h1v1h-1zM67 65h1v1h-1zM16 66h2v1h-2zM23 66h1v1h-1zM32 66h1v1h-1zM45 66h2v1h-2zM15 67h1v1h-1zM47 68h1v1h-1zM43 69h1v1h-1zM46 69h1v1h-1zM26 70h2v1h-2zM20 72h1v1h-1zM40 72h1v1h-1zM54 72h1v1h-1zM24 73h1v1h-1zM54 73h1v1h-1zM44 76h1v1h-1zM69 76h1v1h-1zM19 78h1v1h-1zM32 78h1v1h-1zM20 79h1v1h-1zM39 79h1v1h-1zM70 79h1v1h-1z"/>
<path fill="#79b7d9" d="M25 8h1v1h-1zM38 9h1v1h-1zM0 12h1v1h-1zM44 12h2v1h-2zM11 13h1v1h-1zM25 14h1v1h-1zM36 14h1v1h-1zM33 15h2v1h-2zM33 16h1v1h-1zM34 17h1v1h-1zM49 18h1v1h-1zM68 18h1v1h-1zM36 19h1v1h-1zM42 19h1v1h-1zM45 19h1v1h-1zM51 19h1v1h-1zM68 19h1v1h-1zM28 20h1v1h-1zM39 20h1v1h-1zM50 20h1v1h-1zM47 22h1v1h-1zM43 25h1v1h-1zM22 26h1v1h-1zM31 26h1v1h-1zM50 26h1v1h-1zM33 27h1v1h-1zM51 27h1v1h-1zM47 28h1v1h-1zM53 29h1v1h-1zM56 30h2v1h-2zM22 31h1v1h-1zM43 31h1v1h-1zM11 32h1v1h-1zM48 32h2v1h-2zM50 33h1v1h-1zM55 33h1v1h-1zM21 34h1v1h-1zM50 34h1v1h-1zM50 35h1v1h-1zM44 36h1v1h-1zM49 36h1v1h-1zM42 37h1v1h-1zM32 38h1v1h-1zM43 38h1v1h-1zM45 38h1v1h-1zM44 39h1v1h-1zM56 39h1v1h-1zM35 41h2v1h-2zM45 41h1v1h-1zM27 43h1v1h-1zM64 43h1v1h-1zM64 44h1v1h-1zM73 44h1v1h-1zM32 45h1v1h-1zM47 45h1v1h-1zM72 45h1v1h-1zM2 46h1v1h-1zM48 47h1v1h-1zM27 49h1v1h-1zM51 49h1v1h-1zM26 50h2v1h-2zM66 50h1v1h-1zM13 51h1v1h-1zM23 51h1v1h-1zM25 51h1v1h-1zM27 51h1v1h-1zM44 51h1v1h-1zM31 52h1v1h-1zM34 52h1v1h-1zM49 52h1v1h-1zM35 53h1v1h-1zM43 53h1v1h-1zM29 54h1v1h-1zM33 54h1v1h-1zM47 55h2v1h-2zM41 56h1v1h-1zM47 56h1v1h-1zM17 57h1v1h-1zM45 57h1v1h-1zM33 58h1v1h-1zM37 59h2v1h-2zM76 59h1v1h-1zM47 60h1v1h-1zM52 60h2v1h-2zM2 61h1v1h-1zM38 61h1v1h-1zM67 64h1v1h-1zM32 67h1v1h-1zM47 67h1v1h-1zM38 68h1v1h-1zM44 68h1v1h-1zM46 68h1v1h-1zM71 68h1v1h-1zM48 70h1v1h-1zM49 71h1v1h-1zM39 72h1v1h-1zM37 73h2v1h-2zM24 74h1v1h-1zM37 74h1v1h-1zM39 77h1v1h-1zM33 78h1v1h-1zM19 79h1v1h-1zM33 79h1v1h-1z"/>
<path fill="#73b4d8" d="M44 2h1v1h-1zM36 6h1v1h-1zM24 8h1v1h-1zM24 9h2v1h-2zM43 12h1v1h-1zM29 13h1v1h-1zM40 15h1v1h-1zM44 16h1v1h-1zM36 17h2v1h-2zM41 18h1v1h-1zM47 18h1v1h-1zM40 19h1v1h-1zM32 23h1v1h-1zM43 23h1v1h-1zM41 24h1v1h-1zM31 25h1v1h-1zM41 25h2v1h-2zM63 27h1v1h-1zM38 29h1v1h-1zM17 30h1v1h-1zM42 30h1v1h-1zM35 31h1v1h-1zM41 31h1v1h-1zM40 32h1v1h-1zM36 33h1v1h-1zM51 36h1v1h-1zM41 37h1v1h-1zM44 37h1v1h-1zM23 38h1v1h-1zM35 39h1v1h-1zM39 39h1v1h-1zM47 39h1v1h-1zM44 40h1v1h-1zM32 41h1v1h-1zM37 43h1v1h-1zM32 44h1v1h-1zM44 45h1v1h-1zM27 46h1v1h-1zM43 47h1v1h-1zM46 47h1v1h-1zM50 48h1v1h-1zM31 49h1v1h-1zM35 49h1v1h-1zM44 50h1v1h-1zM47 50h1v1h-1zM31 51h1v1h-1zM35 51h1v1h-1zM48 51h1v1h-1zM27 52h1v1h-1zM40 52h1v1h-1zM32 54h1v1h-1zM41 54h2v1h-2zM45 54h1v1h-1zM30 55h2v1h-2zM41 55h1v1h-1zM30 56h1v1h-1zM48 56h1v1h-1zM37 57h1v1h-1zM48 57h1v1h-1zM44 58h1v1h-1zM43 59h1v1h-1zM49 59h1v1h-1zM34 61h1v1h-1zM38 62h1v1h-1zM38 63h1v1h-1zM46 67h1v1h-1zM43 68h1v1h-1zM35 70h1v1h-1zM48 71h1v1h-1zM40 79h1v1h-1z"/>
<path fill="#6eb0d6" d="M40 16h1v1h-1zM45 16h1v1h-1zM50 16h1v1h-1zM33 17h1v1h-1zM38 17h1v1h-1zM48 17h2v1h-2zM39 19h1v1h-1zM34 21h1v1h-1zM43 22h1v1h-1zM39 25h1v1h-1zM37 27h1v1h-1zM45 28h2v1h-2zM44 29h2v1h-2zM38 31h1v1h-1zM42 31h1v1h-1zM22 32h1v1h-1zM22 33h1v1h-1zM51 34h1v1h-1zM21 35h1v1h-1zM37 37h1v1h-1zM37 40h1v1h-1zM32 42h1v1h-1zM37 42h1v1h-1zM28 43h2v1h-2zM43 46h1v1h-1zM46 46h1v1h-1zM30 48h1v1h-1zM46 48h1v1h-1zM41 49h1v1h-1zM44 49h1v1h-1zM50 49h1v1h-1zM52 50h1v1h-1zM24 51h1v1h-1zM47 51h1v1h-1zM49 51h2v1h-2zM24 52h1v1h-1zM39 53h1v1h-1zM42 53h1v1h-1zM44 53h1v1h-1zM30 54h1v1h-1zM44 54h1v1h-1zM47 54h1v1h-1zM40 55h1v1h-1zM43 55h1v1h-1zM32 56h1v1h-1zM37 56h1v1h-1zM43 56h1v1h-1zM41 57h1v1h-1zM45 58h1v1h-1zM40 62h1v1h-1zM33 63h2v1h-2zM37 63h1v1h-1zM39 63h1v1h-1zM38 64h1v1h-1z"/>
<path fill="#69acd4" d="M40 25h1v1h-1zM42 26h1v1h-1zM45 27h1v1h-1zM37 28h2v1h-2zM43 29h1v1h-1zM40 30h1v1h-1zM37 31h1v1h-1zM37 32h1v1h-1zM44 35h1v1h-1zM42 38h1v1h-1zM46 39h1v1h-1zM32 43h1v1h-1zM38 43h2v1h-2zM42 43h1v1h-1zM32 46h1v1h-1zM44 46h1v1h-1zM32 50h1v1h-1zM35 50h1v1h-1zM36 51h1v1h-1zM41 52h1v1h-1zM36 53h1v1h-1zM35 54h1v1h-1zM40 54h1v1h-1zM44 55h1v1h-1zM40 56h1v1h-1zM17 58h1v1h-1zM42 59h1v1h-1zM34 62h1v1h-1zM40 63h1v1h-1zM37 64h1v1h-1zM38 72h1v1h-1z"/>
<path fill="#64a8d3" d="M41 19h1v1h-1zM43 20h1v1h-1zM40 24h1v1h-1zM45 24h1v1h-1zM37 26h1v1h-1zM33 30h2v1h-2zM41 38h1v1h-1zM47 38h1v1h-1zM41 39h1v1h-1zM39 44h1v1h-1zM32 47h1v1h-1zM35 48h1v1h-1zM32 49h1v1h-1zM32 51h1v1h-1zM46 51h1v1h-1zM32 52h1v1h-1zM44 52h2v1h-2zM32 53h2v1h-2zM31 56h1v1h-1zM38 56h1v1h-1zM40 58h1v1h-1z"/>
<path fill="#5fa5d1" d="M37 23h1v1h-1zM38 26h1v1h-1zM51 26h1v1h-1zM36 30h1v1h-1zM50 36h1v1h-1zM36 39h1v1h-1zM35 40h1v1h-1zM41 42h1v1h-1zM34 45h1v1h-1zM37 47h1v1h-1zM45 47h1v1h-1zM31 48h1v1h-1zM36 50h1v1h-1zM37 52h3v1h-3zM38 53h1v1h-1zM32 55h1v1h-1zM36 55h2v1h-2zM45 55h1v1h-1zM33 56h1v1h-1zM41 58h1v1h-1z"/>
<path fill="#5aa1cf" d="M48 18h1v1h-1zM43 21h1v1h-1zM35 33h1v1h-1zM44 38h1v1h-1zM37 39h1v1h-1zM40 39h1v1h-1zM38 45h1v1h-1zM38 46h1v1h-1zM36 47h1v1h-1zM34 48h1v1h-1zM43 50h1v1h-1zM39 51h1v1h-1zM36 54h1v1h-1zM33 55h1v1h-1z"/>
<path fill="#559dcd" d="M38 21h1v1h-1zM42 21h1v1h-1zM45 26h1v1h-1zM39 28h1v1h-1zM35 29h1v1h-1zM39 29h1v1h-1zM35 30h1v1h-1zM36 40h1v1h-1zM35 45h1v1h-1zM32 48h1v1h-1zM34 49h1v1h-1zM46 49h1v1h-1zM33 50h1v1h-1zM45 51h1v1h-1z"/>
<path fill="#5199cb" d="M39 21h3v1h-3zM37 29h1v1h-1zM37 30h1v1h-1zM40 31h1v1h-1zM41 43h1v1h-1zM43 45h1v1h-1zM41 48h1v1h-1zM45 48h1v1h-1zM39 49h1v1h-1zM38 51h1v1h-1zM33 52h1v1h-1zM37 53h1v1h-1zM39 54h1v1h-1z"/>
<path fill="#4c95ca" d="M38 23h1v1h-1zM43 27h1v1h-1zM46 38h1v1h-1zM39 45h1v1h-1zM33 46h1v1h-1zM33 47h1v1h-1zM42 47h1v1h-1zM44 47h1v1h-1zM44 48h1v1h-1zM37 49h1v1h-1zM45 49h1v1h-1zM39 50h1v1h-1zM45 50h1v1h-1zM40 51h1v1h-1zM37 54h1v1h-1z"/>
<path fill="#4892c8" d="M44 20h1v1h-1zM33 29h2v1h-2zM43 30h2v1h-2zM35 43h1v1h-1zM40 45h1v1h-1zM36 46h1v1h-1zM41 46h1v1h-1zM33 48h1v1h-1zM38 48h1v1h-1zM33 49h1v1h-1zM46 50h1v1h-1zM33 51h1v1h-1zM41 51h1v1h-1zM45 53h1v1h-1z"/>
<path fill="#448ec6" d="M39 30h1v1h-1zM40 44h1v1h-1zM36 45h1v1h-1zM42 46h1v1h-1zM40 48h1v1h-1zM37 50h1v1h-1zM42 50h1v1h-1zM37 51h1v1h-1zM43 51h1v1h-1zM42 52h2v1h-2zM38 54h1v1h-1zM38 55h1v1h-1zM39 56h1v1h-1z"/>
<path fill="#418ac4" d="M36 20h1v1h-1zM36 21h1v1h-1zM38 24h1v1h-1zM40 26h1v1h-1zM34 47h2v1h-2zM43 48h1v1h-1zM42 49h1v1h-1zM38 50h1v1h-1zM42 51h1v1h-1z"/>
<path fill="#3d86c2" d="M39 31h1v1h-1zM41 44h1v1h-1zM38 49h1v1h-1z"/>
<path fill="#3a82c0" d="M36 29h1v1h-1zM42 44h1v1h-1zM35 52h1v1h-1zM39 55h1v1h-1z"/>
<path fill="#367ebe" d="M44 24h1v1h-1zM41 45h2v1h-2zM34 46h1v1h-1z"/>
<path fill="#327abc" d="M42 27h1v1h-1zM43 43h1v1h-1z"/>
<path fill="#2f76ba" d="M45 20h1v1h-1zM40 22h1v1h-1zM46 24h1v1h-1zM40 29h1v1h-1z"/>
<path fill="#2c72b7" d="M40 23h1v1h-1zM35 46h1v1h-1z"/>
<path fill="#2a6eb4" d="M42 24h1v1h-1zM39 48h1v1h-1z"/>
<path fill="#286bb1" d="M39 22h1v1h-1zM39 23h1v1h-1z"/>
<path fill="#2567ae" d="M39 24h1v1h-1z"/>
<path fill="#2363ab" d="M43 24h1v1h-1zM40 47h1v1h-1zM43 49h1v1h-1z"/>
<path fill="#215fa8" d="M41 28h1v1h-1zM39 46h1v1h-1zM40 50h1v1h-1z"/>
<path fill="#1f5ba5" d="M40 46h1v1h-1z"/>
<path fill="#1c57a2" d="M43 44h1v1h-1z"/>
<path fill="#1a4f98" d="M39 27h1v1h-1zM40 28h1v1h-1z"/>
<path fill="#194b93" d="M41 22h1v1h-1zM39 26h1v1h-1zM40 27h2v1h-2zM39 47h1v1h-1z"/>
<path fill="#18478d" d="M41 23h1v1h-1zM42 48h1v1h-1z"/>
<path fill="#153b7d" d="M38 47h1v1h-1z"/>
<path fill="#143778" d="M41 47h1v1h-1zM41 50h1v1h-1z"/>
</g></g></g>
<line x1="188.00" y1="265.20" x2="777.40" y2="265.20" stroke="#12334a" stroke-width="1.10" stroke-opacity="0.95"/>
<line x1="187.20" y1="287.40" x2="777.40" y2="287.40" stroke="#12334a" stroke-width="1.10" stroke-opacity="0.95"/>
<line x1="466.60" y1="14.40" x2="466.60" y2="605.80" stroke="#12334a" stroke-width="1.10" stroke-opacity="0.95"/>
<line x1="490.60" y1="14.40" x2="490.60" y2="605.80" stroke="#12334a" stroke-width="1.10" stroke-opacity="0.95"/>
<g clip-path="url(#ca)"><g filter="url(#hot)">
<rect x="172" y="4" width="180" height="180" fill="#050505"/>
<g fill="#fff" transform="translate(182.3 14.4)">
<ellipse cx="83" cy="80" rx="46" ry="90" opacity="0.30" filter="url(#b12)"/>
<ellipse cx="82" cy="80" rx="35" ry="74" opacity="0.30" filter="url(#b7)"/>
<ellipse cx="58" cy="86" rx="10" ry="14" opacity="0.28" filter="url(#b6)"/>
<ellipse cx="106" cy="64" rx="9" ry="16" opacity="0.24" filter="url(#b6)"/>
<ellipse cx="82" cy="82" rx="19" ry="50" opacity="0.24" filter="url(#b6)"/>
<ellipse cx="80.6" cy="45.5" rx="19" ry="25" opacity="0.78" filter="url(#b5)"/>
<ellipse cx="80.6" cy="45.5" rx="7" ry="10" opacity="0.6" filter="url(#b5)"/>
<ellipse cx="85.8" cy="113" rx="16" ry="21" opacity="0.52" filter="url(#b5)"/>
</g></g></g>
<text x="602.50" y="315.00" font-size="30.80" text-anchor="start" >Horizontal</text>
<text x="602.50" y="354.00" font-size="30.80" text-anchor="start" >lineout ROI</text>
<text x="519.20" y="603.00" font-size="30.80" text-anchor="start" transform="rotate(-90 519.20 603.00)" >Vertical</text>
<text x="558.20" y="603.00" font-size="30.80" text-anchor="start" transform="rotate(-90 558.20 603.00)" >lineout ROI</text>
<rect x="107.6" y="13.5" width="54.4" height="586.9" fill="url(#cb)" stroke="#000" stroke-width="1.5"/>
<line x1="99.40" y1="66.00" x2="107.60" y2="66.00" stroke="#000" stroke-width="2.00"/>
<text x="94.20" y="78.20" font-size="30.80" text-anchor="end" >2</text>
<line x1="99.40" y1="244.50" x2="107.60" y2="244.50" stroke="#000" stroke-width="2.00"/>
<text x="94.20" y="255.50" font-size="30.80" text-anchor="end" >0</text>
<line x1="99.40" y1="422.50" x2="107.60" y2="422.50" stroke="#000" stroke-width="2.00"/>
<text x="94.20" y="433.50" font-size="30.80" text-anchor="end" >-2</text>
<line x1="99.40" y1="600.40" x2="107.60" y2="600.40" stroke="#000" stroke-width="2.00"/>
<text x="94.20" y="611.40" font-size="30.80" text-anchor="end" >-4</text>
<text x="52.80" y="322.50" font-size="30.80" text-anchor="middle" transform="rotate(-90 52.80 322.50)" letter-spacing="0">Δ<tspan font-style="italic">I</tspan>/<tspan font-style="italic">I</tspan><tspan font-size="70%" dy="6.5">0</tspan><tspan dy="-6.5"> (%)</tspan></text>
<text x="2.50" y="33.00" font-size="54.50" text-anchor="start" font-weight="bold" letter-spacing="0">a</text>
<polyline fill="none" stroke="#000" stroke-width="3.20" stroke-linejoin="round" stroke-linecap="butt"  points="1011.6,16.4 1025.3,23.7 1032.1,31.6 1024.9,38.8 1018.5,46.1 1013.2,53.6 1010.6,60.6 1015.4,67.7 1015.0,75.0 1013.5,82.1 1028.3,89.4 1022.3,96.5 1018.8,104.1 1010.1,110.9 1009.1,118.2 1004.5,125.4 1018.5,132.7 1010.9,139.8 994.5,147.3 1002.5,154.6 1022.3,161.7 1029.1,169.0 985.8,176.3 943.3,183.4 943.3,190.5 979.0,197.8 1026.8,205.1 966.9,212.3 941.1,219.5 947.9,227.0 976.0,234.0 1044.3,241.1 1015.4,248.4 1003.3,255.9 987.4,262.7 992.7,270.3 1018.5,277.4 1022.7,285.0 993.4,292.0 990.4,299.1 1003.3,306.7 1025.8,313.9 1019.7,320.8 987.4,328.0 998.0,335.1 1001.8,342.4 963.8,349.7 908.0,364.1 976.7,371.3 972.9,378.7 929.7,386.0 955.5,393.1 971.4,400.4 998.7,407.7 995.4,414.9 1004.1,422.1 1018.5,429.3 1023.0,436.9 999.5,443.4 1008.6,451.0 1000.3,458.1 1007.1,465.4 1028.8,472.5 1017.0,480.1 1019.7,487.7 1021.8,494.9 1027.6,502.2 1027.6,509.3 1011.3,516.6 1012.9,523.7 1010.1,530.6 1021.2,537.9 1023.8,545.0 1017.3,552.3 1018.5,559.4 1017.7,566.7 1019.2,574.3 1019.7,581.4 1016.2,588.7 1013.2,595.9 1020.0,603.4 1018.8,607.7"/>
<rect x="901.60" y="14.40" width="148.60" height="593.80" fill="none" stroke="#000" stroke-width="1.80"/>
<line x1="893.10" y1="139.20" x2="901.60" y2="139.20" stroke="#000" stroke-width="2.00"/>
<text x="886.80" y="150.20" font-size="30.80" text-anchor="end" >150</text>
<line x1="893.10" y1="244.00" x2="901.60" y2="244.00" stroke="#000" stroke-width="2.00"/>
<text x="886.80" y="255.00" font-size="30.80" text-anchor="end" >50</text>
<line x1="893.10" y1="348.00" x2="901.60" y2="348.00" stroke="#000" stroke-width="2.00"/>
<text x="886.80" y="359.00" font-size="30.80" text-anchor="end" >-50</text>
<line x1="893.10" y1="451.80" x2="901.60" y2="451.80" stroke="#000" stroke-width="2.00"/>
<text x="886.80" y="462.80" font-size="30.80" text-anchor="end" >-150</text>
<line x1="960.50" y1="608.20" x2="960.50" y2="616.70" stroke="#000" stroke-width="2.00"/>
<text x="961.70" y="647.00" font-size="30.80" text-anchor="middle" >-2</text>
<line x1="1019.40" y1="608.20" x2="1019.40" y2="616.70" stroke="#000" stroke-width="2.00"/>
<text x="1020.60" y="647.00" font-size="30.80" text-anchor="middle" >0</text>
<text x="979.00" y="687.00" font-size="30.80" text-anchor="middle" letter-spacing="0">Δ<tspan font-style="italic">I</tspan>/<tspan font-style="italic">I</tspan><tspan font-size="70%" dy="6.5">0</tspan><tspan dy="-6.5"> (%)</tspan></text>
<text x="811.20" y="287.40" font-size="30.80" text-anchor="middle" transform="rotate(-90 811.20 287.40)" >Momentum (μm<tspan font-size="70%" dy="-11">-1</tspan><tspan dy="11">)</tspan></text>
<text x="928.60" y="606.00" font-size="30.80" text-anchor="start" transform="rotate(-90 928.60 606.00)" >Vertical</text>
<text x="967.60" y="606.00" font-size="30.80" text-anchor="start" transform="rotate(-90 967.60 606.00)" >lineout</text>
<polyline fill="none" stroke="#000" stroke-width="3.20" stroke-linejoin="round" stroke-linecap="butt"  points="184.2,732.5 191.6,737.2 199.0,736.3 206.4,723.0 213.8,727.2 221.2,732.1 228.6,731.5 235.0,740.6 242.6,732.5 249.6,725.3 256.9,737.2 264.4,723.4 271.7,720.5 278.7,716.9 285.9,721.5 293.3,729.2 300.5,736.8 307.5,744.4 314.7,740.1 321.9,739.5 329.0,724.3 336.5,728.7 343.6,731.1 350.8,735.3 358.0,735.9 365.4,738.2 372.6,723.9 379.5,702.1 386.7,723.0 394.1,743.9 401.3,696.4 408.9,699.3 416.1,675.5 423.3,660.4 430.7,688.8 437.4,760.0 445.3,753.9 452.0,697.4 459.6,693.2 466.4,754.3 473.6,722.4 481.0,754.3 488.2,767.0 495.2,719.2 502.8,738.7 509.8,704.4 517.1,778.6 524.3,710.6 531.5,642.9 538.9,674.6 546.1,696.8 553.5,692.2 560.7,687.9 567.6,719.2 575.2,730.0 582.4,728.1 589.4,742.5 596.6,727.7 604.0,743.3 611.2,727.7 618.4,731.5 625.7,733.4 633.1,745.2 640.3,747.6 647.5,723.0 654.7,722.0 661.9,726.8 669.3,731.1 676.5,739.1 683.7,736.3 690.9,736.3 698.0,719.8 705.2,712.5 712.4,728.1 719.4,721.5 727.0,728.1 734.0,742.3 741.2,747.1 748.4,740.1 755.7,729.6 763.1,727.3 770.3,741.4 777.7,726.4"/>
<rect x="184.30" y="636.00" width="594.50" height="148.80" fill="none" stroke="#000" stroke-width="1.80"/>
<line x1="334.90" y1="784.80" x2="334.90" y2="793.30" stroke="#000" stroke-width="2.00"/>
<text x="336.10" y="820.00" font-size="30.80" text-anchor="middle" >-150</text>
<line x1="439.40" y1="784.80" x2="439.40" y2="793.30" stroke="#000" stroke-width="2.00"/>
<text x="440.60" y="820.00" font-size="30.80" text-anchor="middle" >-50</text>
<line x1="543.90" y1="784.80" x2="543.90" y2="793.30" stroke="#000" stroke-width="2.00"/>
<text x="545.10" y="820.00" font-size="30.80" text-anchor="middle" >50</text>
<line x1="648.00" y1="784.80" x2="648.00" y2="793.30" stroke="#000" stroke-width="2.00"/>
<text x="649.20" y="820.00" font-size="30.80" text-anchor="middle" >150</text>
<line x1="175.80" y1="678.40" x2="184.30" y2="678.40" stroke="#000" stroke-width="2.00"/>
<text x="169.50" y="689.40" font-size="30.80" text-anchor="end" >1</text>
<line x1="175.80" y1="731.20" x2="184.30" y2="731.20" stroke="#000" stroke-width="2.00"/>
<text x="169.50" y="742.20" font-size="30.80" text-anchor="end" >0</text>
<text x="132.00" y="706.00" font-size="30.80" text-anchor="middle" transform="rotate(-90 132.00 706.00)" letter-spacing="0">Δ<tspan font-style="italic">I</tspan>/<tspan font-style="italic">I</tspan><tspan font-size="70%" dy="6.5">0</tspan><tspan dy="-6.5"> (%)</tspan></text>
<text x="186.20" y="660.00" font-size="30.80" text-anchor="start" >Horizontal</text>
<text x="186.20" y="699.20" font-size="30.80" text-anchor="start" >lineout</text>
<clipPath id="hb"><rect x="192.80" y="855.00" width="591.20" height="590.00"/></clipPath>
<g clip-path="url(#hb)"><g filter="url(#soft)"><g transform="translate(189.40 848.20) scale(7.9850 8.1590)" shape-rendering="crispEdges">
<rect width="75" height="74" fill="#73b4d8"/>
<path fill="#c2deef" d="M36 17h1v1h-1zM36 18h1v1h-1zM33 21h1v1h-1z"/>
<path fill="#bddced" d="M35 24h1v1h-1zM38 45h2v1h-2zM36 46h1v1h-1z"/>
<path fill="#b8daec" d="M31 18h2v1h-2zM31 19h2v1h-2zM31 26h2v1h-2z"/>
<path fill="#b4d8ea" d="M29 18h1v1h-1zM38 19h1v1h-1zM40 21h1v1h-1zM39 22h2v1h-2zM39 23h2v1h-2zM28 37h1v1h-1zM32 52h1v1h-1z"/>
<path fill="#afd6e9" d="M36 23h1v1h-1z"/>
<path fill="#aad4e7" d="M38 22h1v1h-1zM38 23h1v1h-1zM32 34h1v1h-1zM32 35h1v1h-1zM35 35h1v1h-1z"/>
<path fill="#a6d2e5" d="M32 31h1v1h-1zM26 35h1v1h-1zM29 35h1v1h-1zM27 37h1v1h-1zM37 46h1v1h-1z"/>
<path fill="#a1cfe4" d="M30 26h1v1h-1zM34 34h2v1h-2zM25 35h1v1h-1zM25 36h1v1h-1zM27 36h2v1h-2zM29 37h1v1h-1zM40 37h1v1h-1z"/>
<path fill="#9ccde2" d="M27 22h1v1h-1zM41 23h1v1h-1zM41 24h1v1h-1zM43 25h1v1h-1zM40 28h1v1h-1zM32 30h1v1h-1zM39 30h1v1h-1zM39 31h1v1h-1zM37 32h1v1h-1zM30 35h2v1h-2zM26 36h1v1h-1zM29 36h2v1h-2zM32 36h1v1h-1zM39 37h1v1h-1zM27 38h3v1h-3zM41 39h2v1h-2zM29 40h2v1h-2zM42 40h1v1h-1zM36 41h1v1h-1zM39 51h2v1h-2z"/>
<path fill="#96c9e1" d="M26 22h1v1h-1zM27 23h1v1h-1zM42 24h1v1h-1zM35 25h1v1h-1zM29 26h1v1h-1zM35 27h1v1h-1zM38 30h1v1h-1zM43 30h1v1h-1zM45 33h1v1h-1zM33 34h1v1h-1zM23 37h2v1h-2zM30 37h2v1h-2zM34 37h1v1h-1zM29 39h1v1h-1zM41 40h1v1h-1zM41 41h2v1h-2zM38 53h1v1h-1z"/>
<path fill="#90c6df" d="M25 22h1v1h-1zM28 22h2v1h-2zM41 22h1v1h-1zM28 23h2v1h-2zM42 23h1v1h-1zM30 25h1v1h-1zM42 25h1v1h-1zM44 25h1v1h-1zM47 25h1v1h-1zM35 26h1v1h-1zM43 26h1v1h-1zM32 29h1v1h-1zM40 29h1v1h-1zM47 29h1v1h-1zM28 30h1v1h-1zM36 30h1v1h-1zM42 30h1v1h-1zM33 31h1v1h-1zM40 31h1v1h-1zM48 32h1v1h-1zM34 33h1v1h-1zM44 33h1v1h-1zM26 34h1v1h-1zM39 34h1v1h-1zM27 35h1v1h-1zM24 36h1v1h-1zM31 36h1v1h-1zM22 37h1v1h-1zM25 37h1v1h-1zM41 37h1v1h-1zM30 38h1v1h-1zM34 38h1v1h-1zM33 40h2v1h-2zM29 41h1v1h-1zM37 41h1v1h-1zM40 41h1v1h-1zM43 42h2v1h-2zM25 46h1v1h-1z"/>
<path fill="#8ac2de" d="M33 13h2v1h-2zM38 13h1v1h-1zM38 14h1v1h-1zM25 16h1v1h-1zM29 16h1v1h-1zM44 16h1v1h-1zM25 17h1v1h-1zM29 17h1v1h-1zM44 17h1v1h-1zM37 20h1v1h-1zM42 20h1v1h-1zM26 21h2v1h-2zM47 21h1v1h-1zM23 22h2v1h-2zM23 23h3v1h-3zM23 24h1v1h-1zM38 24h1v1h-1zM43 24h2v1h-2zM47 24h1v1h-1zM31 25h1v1h-1zM34 25h1v1h-1zM46 25h1v1h-1zM34 26h1v1h-1zM34 27h1v1h-1zM37 27h1v1h-1zM43 27h1v1h-1zM32 28h1v1h-1zM24 29h1v1h-1zM31 29h1v1h-1zM37 29h1v1h-1zM43 29h2v1h-2zM46 29h1v1h-1zM48 29h1v1h-1zM31 30h1v1h-1zM37 30h1v1h-1zM44 30h1v1h-1zM22 31h1v1h-1zM28 31h1v1h-1zM38 31h1v1h-1zM42 31h1v1h-1zM21 32h1v1h-1zM25 32h1v1h-1zM37 33h1v1h-1zM27 34h1v1h-1zM37 34h1v1h-1zM44 34h2v1h-2zM28 35h1v1h-1zM35 36h1v1h-1zM26 37h1v1h-1zM36 37h1v1h-1zM33 38h1v1h-1zM40 38h1v1h-1zM26 39h1v1h-1zM30 39h1v1h-1zM33 39h1v1h-1zM40 39h1v1h-1zM35 40h1v1h-1zM38 40h1v1h-1zM19 42h2v1h-2zM29 42h1v1h-1zM20 43h1v1h-1zM29 47h1v1h-1zM29 48h1v1h-1zM25 49h2v1h-2z"/>
<path fill="#84bedc" d="M40 7h1v1h-1zM26 10h5v1h-5zM40 10h1v1h-1zM26 11h4v1h-4zM33 11h1v1h-1zM25 12h2v1h-2zM33 12h2v1h-2zM39 13h1v1h-1zM41 13h1v1h-1zM41 14h1v1h-1zM24 15h3v1h-3zM38 15h1v1h-1zM41 15h1v1h-1zM44 15h1v1h-1zM24 16h1v1h-1zM27 16h2v1h-2zM32 16h1v1h-1zM41 16h1v1h-1zM45 16h1v1h-1zM24 17h1v1h-1zM43 17h1v1h-1zM52 17h1v1h-1zM35 18h1v1h-1zM38 18h1v1h-1zM37 19h1v1h-1zM42 19h1v1h-1zM46 19h1v1h-1zM28 20h1v1h-1zM40 20h2v1h-2zM46 20h2v1h-2zM19 21h4v1h-4zM28 21h1v1h-1zM19 22h2v1h-2zM30 22h1v1h-1zM46 22h1v1h-1zM26 23h1v1h-1zM30 23h1v1h-1zM45 23h1v1h-1zM49 23h1v1h-1zM33 24h1v1h-1zM45 24h2v1h-2zM29 25h1v1h-1zM41 25h1v1h-1zM48 25h1v1h-1zM24 26h1v1h-1zM42 26h1v1h-1zM44 26h1v1h-1zM28 27h1v1h-1zM30 27h1v1h-1zM38 27h1v1h-1zM42 27h1v1h-1zM24 28h1v1h-1zM31 28h1v1h-1zM36 28h4v1h-4zM49 28h1v1h-1zM36 29h1v1h-1zM45 29h1v1h-1zM46 30h1v1h-1zM20 31h2v1h-2zM23 31h1v1h-1zM27 31h1v1h-1zM43 31h1v1h-1zM22 32h1v1h-1zM27 32h2v1h-2zM38 32h1v1h-1zM45 32h1v1h-1zM47 32h1v1h-1zM49 32h1v1h-1zM14 33h1v1h-1zM27 33h1v1h-1zM14 34h1v1h-1zM31 34h1v1h-1zM38 34h1v1h-1zM24 35h1v1h-1zM45 35h1v1h-1zM23 36h1v1h-1zM36 36h1v1h-1zM42 37h1v1h-1zM21 38h2v1h-2zM26 38h1v1h-1zM39 38h1v1h-1zM27 39h1v1h-1zM34 39h1v1h-1zM44 39h1v1h-1zM36 40h2v1h-2zM40 40h1v1h-1zM43 40h1v1h-1zM28 41h1v1h-1zM43 41h1v1h-1zM24 42h3v1h-3zM28 42h1v1h-1zM41 42h1v1h-1zM15 43h1v1h-1zM18 43h2v1h-2zM29 43h1v1h-1zM52 43h2v1h-2zM21 44h2v1h-2zM53 45h1v1h-1zM19 46h2v1h-2zM20 47h1v1h-1zM30 47h1v1h-1zM26 50h1v1h-1zM46 51h2v1h-2zM23 52h1v1h-1zM46 52h2v1h-2zM23 53h2v1h-2zM42 54h1v1h-1zM38 57h1v1h-1zM27 58h1v1h-1zM33 62h1v1h-1zM40 63h1v1h-1z"/>
<path fill="#7fbbdb" d="M21 0h1v1h-1zM24 0h2v1h-2zM28 0h1v1h-1zM44 0h1v1h-1zM46 0h1v1h-1zM55 0h1v1h-1zM39 1h2v1h-2zM44 1h1v1h-1zM46 1h1v1h-1zM55 1h1v1h-1zM73 1h1v1h-1zM16 2h2v1h-2zM40 2h1v1h-1zM44 2h1v1h-1zM73 2h2v1h-2zM17 3h1v1h-1zM44 3h1v1h-1zM46 3h2v1h-2zM72 3h1v1h-1zM8 4h1v1h-1zM17 4h1v1h-1zM26 4h1v1h-1zM44 4h3v1h-3zM53 4h1v1h-1zM59 4h2v1h-2zM8 5h1v1h-1zM44 5h3v1h-3zM52 5h1v1h-1zM8 6h1v1h-1zM15 6h1v1h-1zM33 6h1v1h-1zM41 6h1v1h-1zM51 6h2v1h-2zM18 7h1v1h-1zM30 7h1v1h-1zM36 7h2v1h-2zM39 7h1v1h-1zM41 7h1v1h-1zM66 7h2v1h-2zM17 8h2v1h-2zM30 8h1v1h-1zM36 8h1v1h-1zM40 8h1v1h-1zM47 8h2v1h-2zM55 8h2v1h-2zM29 9h4v1h-4zM35 9h2v1h-2zM39 9h2v1h-2zM56 9h1v1h-1zM69 9h1v1h-1zM31 10h3v1h-3zM36 10h1v1h-1zM39 10h1v1h-1zM55 10h1v1h-1zM57 10h1v1h-1zM68 10h2v1h-2zM25 11h1v1h-1zM30 11h1v1h-1zM67 11h2v1h-2zM6 12h1v1h-1zM20 12h2v1h-2zM24 12h1v1h-1zM27 12h3v1h-3zM67 12h1v1h-1zM6 13h1v1h-1zM11 13h3v1h-3zM25 13h2v1h-2zM37 13h1v1h-1zM49 13h1v1h-1zM2 14h1v1h-1zM11 14h1v1h-1zM24 14h2v1h-2zM29 14h1v1h-1zM34 14h1v1h-1zM37 14h1v1h-1zM39 14h1v1h-1zM42 14h1v1h-1zM3 15h1v1h-1zM27 15h3v1h-3zM35 15h3v1h-3zM42 15h1v1h-1zM45 15h1v1h-1zM60 15h1v1h-1zM26 16h1v1h-1zM31 16h1v1h-1zM36 16h1v1h-1zM43 16h1v1h-1zM52 16h1v1h-1zM68 16h1v1h-1zM5 17h1v1h-1zM19 17h1v1h-1zM28 17h1v1h-1zM30 17h1v1h-1zM41 17h2v1h-2zM45 17h1v1h-1zM47 17h1v1h-1zM51 17h1v1h-1zM62 17h1v1h-1zM66 17h1v1h-1zM72 17h1v1h-1zM20 18h2v1h-2zM30 18h1v1h-1zM34 18h1v1h-1zM37 18h1v1h-1zM39 18h1v1h-1zM42 18h2v1h-2zM47 18h1v1h-1zM52 18h2v1h-2zM65 18h2v1h-2zM13 19h1v1h-1zM21 19h1v1h-1zM41 19h1v1h-1zM45 19h1v1h-1zM47 19h1v1h-1zM52 19h2v1h-2zM64 19h4v1h-4zM21 20h1v1h-1zM29 20h1v1h-1zM36 20h1v1h-1zM38 20h1v1h-1zM45 20h1v1h-1zM67 20h1v1h-1zM15 21h1v1h-1zM46 21h1v1h-1zM48 21h1v1h-1zM63 21h2v1h-2zM18 22h1v1h-1zM22 22h1v1h-1zM42 22h1v1h-1zM49 22h2v1h-2zM11 23h1v1h-1zM18 23h3v1h-3zM22 23h1v1h-1zM46 23h1v1h-1zM50 23h1v1h-1zM3 24h1v1h-1zM11 24h2v1h-2zM22 24h1v1h-1zM24 24h1v1h-1zM31 24h1v1h-1zM49 24h1v1h-1zM15 25h1v1h-1zM45 25h1v1h-1zM53 25h2v1h-2zM21 26h1v1h-1zM57 26h1v1h-1zM60 26h1v1h-1zM8 27h3v1h-3zM24 27h1v1h-1zM29 27h1v1h-1zM31 27h2v1h-2zM36 27h1v1h-1zM49 27h1v1h-1zM8 28h1v1h-1zM33 28h1v1h-1zM35 28h1v1h-1zM43 28h3v1h-3zM47 28h2v1h-2zM13 29h2v1h-2zM28 29h2v1h-2zM38 29h2v1h-2zM72 29h1v1h-1zM14 30h1v1h-1zM24 30h1v1h-1zM27 30h1v1h-1zM40 30h1v1h-1zM45 30h1v1h-1zM61 30h1v1h-1zM65 30h1v1h-1zM14 31h1v1h-1zM24 31h1v1h-1zM37 31h1v1h-1zM41 31h1v1h-1zM47 31h2v1h-2zM53 31h1v1h-1zM12 32h2v1h-2zM20 32h1v1h-1zM23 32h1v1h-1zM46 32h1v1h-1zM52 32h2v1h-2zM11 33h3v1h-3zM21 33h2v1h-2zM26 33h1v1h-1zM35 33h1v1h-1zM46 33h1v1h-1zM48 33h1v1h-1zM69 33h1v1h-1zM13 34h1v1h-1zM28 34h1v1h-1zM36 34h1v1h-1zM40 34h1v1h-1zM72 34h1v1h-1zM33 35h1v1h-1zM36 35h1v1h-1zM22 36h1v1h-1zM41 36h1v1h-1zM2 37h1v1h-1zM17 37h1v1h-1zM19 37h1v1h-1zM21 37h1v1h-1zM32 37h1v1h-1zM35 37h1v1h-1zM45 37h1v1h-1zM2 38h1v1h-1zM10 38h4v1h-4zM23 38h3v1h-3zM35 38h1v1h-1zM45 38h1v1h-1zM63 38h1v1h-1zM2 39h1v1h-1zM10 39h1v1h-1zM28 39h1v1h-1zM47 39h1v1h-1zM51 39h1v1h-1zM10 40h1v1h-1zM26 40h1v1h-1zM28 40h1v1h-1zM31 40h1v1h-1zM39 40h1v1h-1zM56 40h1v1h-1zM9 41h1v1h-1zM19 41h2v1h-2zM26 41h1v1h-1zM33 41h1v1h-1zM55 41h2v1h-2zM8 42h1v1h-1zM15 42h2v1h-2zM18 42h1v1h-1zM21 42h1v1h-1zM27 42h1v1h-1zM42 42h1v1h-1zM45 42h1v1h-1zM56 42h2v1h-2zM7 43h1v1h-1zM16 43h2v1h-2zM24 43h1v1h-1zM28 43h1v1h-1zM51 43h1v1h-1zM56 43h1v1h-1zM60 43h1v1h-1zM63 43h2v1h-2zM2 44h1v1h-1zM14 44h1v1h-1zM17 44h1v1h-1zM52 44h2v1h-2zM56 44h3v1h-3zM64 44h2v1h-2zM2 45h2v1h-2zM14 45h1v1h-1zM20 45h1v1h-1zM54 45h1v1h-1zM64 45h1v1h-1zM2 46h2v1h-2zM26 46h1v1h-1zM28 46h4v1h-4zM25 47h1v1h-1zM45 47h1v1h-1zM58 47h1v1h-1zM45 48h1v1h-1zM50 48h1v1h-1zM18 49h1v1h-1zM20 49h1v1h-1zM24 49h1v1h-1zM53 49h1v1h-1zM11 50h1v1h-1zM18 50h1v1h-1zM25 50h1v1h-1zM53 50h1v1h-1zM11 51h1v1h-1zM54 51h1v1h-1zM24 52h1v1h-1zM54 52h1v1h-1zM25 53h1v1h-1zM42 53h1v1h-1zM65 53h1v1h-1zM72 53h1v1h-1zM3 54h2v1h-2zM41 54h1v1h-1zM3 55h3v1h-3zM20 55h1v1h-1zM5 56h1v1h-1zM15 56h1v1h-1zM30 56h1v1h-1zM42 56h1v1h-1zM55 56h2v1h-2zM61 56h1v1h-1zM15 57h1v1h-1zM37 57h1v1h-1zM41 57h2v1h-2zM55 57h1v1h-1zM61 57h1v1h-1zM66 57h1v1h-1zM69 57h4v1h-4zM28 58h1v1h-1zM37 58h1v1h-1zM41 58h1v1h-1zM45 58h2v1h-2zM69 58h3v1h-3zM28 59h2v1h-2zM33 59h1v1h-1zM52 59h3v1h-3zM70 59h2v1h-2zM16 60h2v1h-2zM24 60h1v1h-1zM48 60h1v1h-1zM52 60h2v1h-2zM16 61h1v1h-1zM33 61h1v1h-1zM47 61h1v1h-1zM59 61h1v1h-1zM32 62h1v1h-1zM34 62h1v1h-1zM40 62h1v1h-1zM46 62h2v1h-2zM59 62h1v1h-1zM66 62h2v1h-2zM19 63h2v1h-2zM41 63h1v1h-1zM47 63h1v1h-1zM19 64h2v1h-2zM30 64h1v1h-1zM41 64h1v1h-1zM60 64h1v1h-1zM6 65h1v1h-1zM26 65h2v1h-2zM29 65h2v1h-2zM60 65h1v1h-1zM73 65h1v1h-1zM6 66h1v1h-1zM9 66h3v1h-3zM26 66h2v1h-2zM29 66h3v1h-3zM10 67h2v1h-2zM26 67h1v1h-1zM29 67h2v1h-2zM42 67h1v1h-1zM10 68h1v1h-1zM36 68h1v1h-1zM41 68h2v1h-2zM26 69h1v1h-1zM28 69h1v1h-1zM31 69h1v1h-1zM41 69h2v1h-2zM42 70h1v1h-1zM72 70h1v1h-1zM71 71h1v1h-1zM48 72h1v1h-1zM55 72h1v1h-1zM63 72h1v1h-1zM0 73h1v1h-1zM22 73h2v1h-2z"/>
<path fill="#79b7d9" d="M4 0h2v1h-2zM9 0h1v1h-1zM12 0h1v1h-1zM17 0h1v1h-1zM20 0h1v1h-1zM22 0h2v1h-2zM26 0h2v1h-2zM29 0h4v1h-4zM34 0h1v1h-1zM39 0h2v1h-2zM43 0h1v1h-1zM45 0h1v1h-1zM47 0h1v1h-1zM56 0h1v1h-1zM58 0h1v1h-1zM65 0h5v1h-5zM72 0h2v1h-2zM4 1h1v1h-1zM10 1h3v1h-3zM16 1h2v1h-2zM21 1h1v1h-1zM23 1h9v1h-9zM33 1h2v1h-2zM43 1h1v1h-1zM45 1h1v1h-1zM47 1h2v1h-2zM56 1h1v1h-1zM58 1h1v1h-1zM64 1h6v1h-6zM72 1h1v1h-1zM74 1h1v1h-1zM3 2h2v1h-2zM10 2h1v1h-1zM18 2h1v1h-1zM28 2h1v1h-1zM32 2h1v1h-1zM34 2h3v1h-3zM38 2h2v1h-2zM41 2h1v1h-1zM45 2h4v1h-4zM51 2h1v1h-1zM64 2h1v1h-1zM68 2h2v1h-2zM71 2h2v1h-2zM0 3h5v1h-5zM9 3h2v1h-2zM16 3h1v1h-1zM18 3h2v1h-2zM28 3h1v1h-1zM38 3h4v1h-4zM45 3h1v1h-1zM48 3h1v1h-1zM59 3h2v1h-2zM68 3h2v1h-2zM71 3h1v1h-1zM73 3h2v1h-2zM0 4h2v1h-2zM7 4h1v1h-1zM9 4h2v1h-2zM13 4h1v1h-1zM16 4h1v1h-1zM18 4h1v1h-1zM27 4h2v1h-2zM43 4h1v1h-1zM47 4h3v1h-3zM52 4h1v1h-1zM65 4h5v1h-5zM1 5h1v1h-1zM7 5h1v1h-1zM9 5h1v1h-1zM13 5h1v1h-1zM16 5h3v1h-3zM26 5h5v1h-5zM33 5h2v1h-2zM39 5h3v1h-3zM43 5h1v1h-1zM47 5h3v1h-3zM51 5h1v1h-1zM53 5h1v1h-1zM59 5h2v1h-2zM64 5h3v1h-3zM68 5h2v1h-2zM0 6h3v1h-3zM7 6h1v1h-1zM9 6h2v1h-2zM14 6h1v1h-1zM16 6h1v1h-1zM18 6h1v1h-1zM21 6h1v1h-1zM26 6h2v1h-2zM30 6h1v1h-1zM32 6h1v1h-1zM34 6h4v1h-4zM39 6h2v1h-2zM42 6h1v1h-1zM44 6h3v1h-3zM49 6h2v1h-2zM53 6h1v1h-1zM62 6h1v1h-1zM64 6h7v1h-7zM0 7h3v1h-3zM8 7h3v1h-3zM15 7h3v1h-3zM19 7h1v1h-1zM26 7h2v1h-2zM31 7h1v1h-1zM33 7h1v1h-1zM35 7h1v1h-1zM38 7h1v1h-1zM42 7h1v1h-1zM44 7h1v1h-1zM49 7h4v1h-4zM54 7h1v1h-1zM56 7h2v1h-2zM62 7h1v1h-1zM64 7h2v1h-2zM0 8h2v1h-2zM4 8h1v1h-1zM22 8h2v1h-2zM26 8h1v1h-1zM31 8h2v1h-2zM35 8h1v1h-1zM37 8h1v1h-1zM39 8h1v1h-1zM41 8h1v1h-1zM49 8h1v1h-1zM54 8h1v1h-1zM57 8h1v1h-1zM60 8h2v1h-2zM64 8h4v1h-4zM72 8h3v1h-3zM0 9h2v1h-2zM4 9h1v1h-1zM7 9h1v1h-1zM13 9h1v1h-1zM18 9h1v1h-1zM22 9h1v1h-1zM26 9h1v1h-1zM28 9h1v1h-1zM33 9h1v1h-1zM37 9h1v1h-1zM45 9h4v1h-4zM55 9h1v1h-1zM57 9h1v1h-1zM60 9h2v1h-2zM64 9h2v1h-2zM67 9h2v1h-2zM70 9h1v1h-1zM73 9h2v1h-2zM4 10h1v1h-1zM6 10h2v1h-2zM14 10h2v1h-2zM20 10h2v1h-2zM25 10h1v1h-1zM35 10h1v1h-1zM41 10h1v1h-1zM44 10h2v1h-2zM47 10h3v1h-3zM56 10h1v1h-1zM58 10h3v1h-3zM64 10h1v1h-1zM67 10h1v1h-1zM5 11h3v1h-3zM20 11h5v1h-5zM31 11h2v1h-2zM34 11h1v1h-1zM39 11h2v1h-2zM44 11h2v1h-2zM48 11h2v1h-2zM55 11h6v1h-6zM66 11h1v1h-1zM69 11h1v1h-1zM4 12h2v1h-2zM7 12h1v1h-1zM11 12h1v1h-1zM13 12h1v1h-1zM15 12h5v1h-5zM22 12h1v1h-1zM35 12h2v1h-2zM38 12h2v1h-2zM45 12h2v1h-2zM48 12h2v1h-2zM60 12h1v1h-1zM64 12h3v1h-3zM68 12h1v1h-1zM0 13h1v1h-1zM5 13h1v1h-1zM7 13h1v1h-1zM10 13h1v1h-1zM14 13h2v1h-2zM17 13h4v1h-4zM24 13h1v1h-1zM27 13h3v1h-3zM40 13h1v1h-1zM42 13h1v1h-1zM48 13h1v1h-1zM54 13h2v1h-2zM60 13h3v1h-3zM65 13h4v1h-4zM74 13h1v1h-1zM1 14h1v1h-1zM3 14h1v1h-1zM10 14h1v1h-1zM12 14h3v1h-3zM26 14h1v1h-1zM28 14h1v1h-1zM35 14h2v1h-2zM40 14h1v1h-1zM46 14h5v1h-5zM54 14h2v1h-2zM58 14h6v1h-6zM67 14h2v1h-2zM73 14h2v1h-2zM2 15h1v1h-1zM4 15h1v1h-1zM12 15h2v1h-2zM19 15h1v1h-1zM22 15h2v1h-2zM30 15h1v1h-1zM39 15h2v1h-2zM43 15h1v1h-1zM46 15h1v1h-1zM59 15h1v1h-1zM61 15h1v1h-1zM65 15h5v1h-5zM71 15h4v1h-4zM0 16h4v1h-4zM6 16h5v1h-5zM12 16h4v1h-4zM19 16h1v1h-1zM23 16h1v1h-1zM30 16h1v1h-1zM37 16h1v1h-1zM40 16h1v1h-1zM42 16h1v1h-1zM46 16h2v1h-2zM51 16h1v1h-1zM60 16h1v1h-1zM62 16h1v1h-1zM64 16h4v1h-4zM69 16h1v1h-1zM71 16h2v1h-2zM1 17h4v1h-4zM6 17h1v1h-1zM10 17h2v1h-2zM13 17h4v1h-4zM20 17h1v1h-1zM22 17h2v1h-2zM26 17h1v1h-1zM35 17h1v1h-1zM37 17h1v1h-1zM46 17h1v1h-1zM57 17h1v1h-1zM59 17h3v1h-3zM63 17h3v1h-3zM71 17h1v1h-1zM1 18h1v1h-1zM4 18h2v1h-2zM11 18h1v1h-1zM13 18h1v1h-1zM16 18h2v1h-2zM19 18h1v1h-1zM22 18h1v1h-1zM24 18h2v1h-2zM40 18h2v1h-2zM44 18h3v1h-3zM48 18h1v1h-1zM51 18h1v1h-1zM54 18h1v1h-1zM57 18h1v1h-1zM59 18h1v1h-1zM61 18h2v1h-2zM64 18h1v1h-1zM67 18h2v1h-2zM72 18h1v1h-1zM0 19h2v1h-2zM17 19h1v1h-1zM20 19h1v1h-1zM30 19h1v1h-1zM36 19h1v1h-1zM39 19h1v1h-1zM43 19h2v1h-2zM48 19h1v1h-1zM54 19h1v1h-1zM68 19h1v1h-1zM72 19h1v1h-1zM10 20h1v1h-1zM12 20h4v1h-4zM20 20h1v1h-1zM26 20h1v1h-1zM32 20h1v1h-1zM43 20h2v1h-2zM48 20h1v1h-1zM52 20h1v1h-1zM58 20h2v1h-2zM63 20h4v1h-4zM68 20h2v1h-2zM72 20h3v1h-3zM1 21h1v1h-1zM6 21h1v1h-1zM8 21h3v1h-3zM12 21h1v1h-1zM14 21h1v1h-1zM16 21h1v1h-1zM23 21h1v1h-1zM25 21h1v1h-1zM39 21h1v1h-1zM41 21h2v1h-2zM45 21h1v1h-1zM50 21h2v1h-2zM60 21h2v1h-2zM65 21h5v1h-5zM72 21h2v1h-2zM6 22h1v1h-1zM8 22h1v1h-1zM12 22h5v1h-5zM21 22h1v1h-1zM43 22h1v1h-1zM45 22h1v1h-1zM47 22h1v1h-1zM61 22h4v1h-4zM66 22h1v1h-1zM71 22h1v1h-1zM2 23h4v1h-4zM8 23h3v1h-3zM12 23h3v1h-3zM16 23h2v1h-2zM21 23h1v1h-1zM51 23h2v1h-2zM61 23h2v1h-2zM66 23h1v1h-1zM70 23h2v1h-2zM2 24h1v1h-1zM4 24h2v1h-2zM10 24h1v1h-1zM13 24h2v1h-2zM18 24h1v1h-1zM21 24h1v1h-1zM25 24h1v1h-1zM27 24h2v1h-2zM32 24h1v1h-1zM48 24h1v1h-1zM50 24h1v1h-1zM53 24h2v1h-2zM58 24h2v1h-2zM74 24h1v1h-1zM4 25h2v1h-2zM19 25h1v1h-1zM21 25h1v1h-1zM23 25h2v1h-2zM28 25h1v1h-1zM57 25h4v1h-4zM8 26h1v1h-1zM15 26h1v1h-1zM18 26h3v1h-3zM27 26h2v1h-2zM45 26h2v1h-2zM52 26h2v1h-2zM56 26h1v1h-1zM59 26h1v1h-1zM61 26h1v1h-1zM71 26h1v1h-1zM0 27h2v1h-2zM11 27h1v1h-1zM15 27h1v1h-1zM18 27h2v1h-2zM21 27h1v1h-1zM23 27h1v1h-1zM25 27h1v1h-1zM27 27h1v1h-1zM33 27h1v1h-1zM39 27h1v1h-1zM44 27h1v1h-1zM47 27h1v1h-1zM50 27h1v1h-1zM52 27h2v1h-2zM56 27h2v1h-2zM59 27h2v1h-2zM64 27h1v1h-1zM66 27h2v1h-2zM69 27h3v1h-3zM0 28h2v1h-2zM6 28h1v1h-1zM9 28h3v1h-3zM14 28h2v1h-2zM23 28h1v1h-1zM30 28h1v1h-1zM42 28h1v1h-1zM52 28h1v1h-1zM56 28h1v1h-1zM64 28h1v1h-1zM67 28h1v1h-1zM0 29h1v1h-1zM3 29h1v1h-1zM6 29h1v1h-1zM8 29h1v1h-1zM12 29h1v1h-1zM22 29h2v1h-2zM30 29h1v1h-1zM41 29h1v1h-1zM49 29h1v1h-1zM53 29h1v1h-1zM56 29h1v1h-1zM61 29h1v1h-1zM64 29h2v1h-2zM71 29h1v1h-1zM73 29h2v1h-2zM0 30h2v1h-2zM7 30h2v1h-2zM13 30h1v1h-1zM22 30h2v1h-2zM49 30h1v1h-1zM56 30h2v1h-2zM59 30h2v1h-2zM62 30h1v1h-1zM64 30h1v1h-1zM72 30h3v1h-3zM2 31h1v1h-1zM5 31h1v1h-1zM8 31h1v1h-1zM15 31h1v1h-1zM31 31h1v1h-1zM44 31h1v1h-1zM49 31h1v1h-1zM56 31h2v1h-2zM60 31h1v1h-1zM65 31h2v1h-2zM2 32h1v1h-1zM7 32h5v1h-5zM14 32h1v1h-1zM17 32h1v1h-1zM24 32h1v1h-1zM26 32h1v1h-1zM33 32h1v1h-1zM36 32h1v1h-1zM44 32h1v1h-1zM51 32h1v1h-1zM54 32h1v1h-1zM57 32h1v1h-1zM64 32h3v1h-3zM1 33h1v1h-1zM5 33h1v1h-1zM7 33h2v1h-2zM10 33h1v1h-1zM15 33h1v1h-1zM23 33h1v1h-1zM28 33h1v1h-1zM38 33h1v1h-1zM49 33h1v1h-1zM51 33h4v1h-4zM63 33h6v1h-6zM5 34h1v1h-1zM7 34h2v1h-2zM12 34h1v1h-1zM29 34h1v1h-1zM48 34h1v1h-1zM53 34h2v1h-2zM60 34h1v1h-1zM64 34h2v1h-2zM68 34h1v1h-1zM71 34h1v1h-1zM73 34h1v1h-1zM6 35h2v1h-2zM13 35h2v1h-2zM58 35h1v1h-1zM64 35h1v1h-1zM72 35h1v1h-1zM1 36h2v1h-2zM10 36h1v1h-1zM15 36h1v1h-1zM19 36h2v1h-2zM45 36h1v1h-1zM50 36h2v1h-2zM58 36h2v1h-2zM0 37h2v1h-2zM3 37h1v1h-1zM7 37h1v1h-1zM10 37h1v1h-1zM12 37h1v1h-1zM16 37h1v1h-1zM18 37h1v1h-1zM20 37h1v1h-1zM33 37h1v1h-1zM46 37h1v1h-1zM51 37h1v1h-1zM55 37h1v1h-1zM63 37h2v1h-2zM0 38h2v1h-2zM3 38h1v1h-1zM9 38h1v1h-1zM16 38h2v1h-2zM20 38h1v1h-1zM42 38h1v1h-1zM55 38h1v1h-1zM64 38h1v1h-1zM0 39h2v1h-2zM3 39h1v1h-1zM11 39h3v1h-3zM16 39h1v1h-1zM19 39h3v1h-3zM23 39h1v1h-1zM43 39h1v1h-1zM45 39h1v1h-1zM48 39h1v1h-1zM52 39h1v1h-1zM65 39h2v1h-2zM0 40h4v1h-4zM7 40h3v1h-3zM11 40h1v1h-1zM18 40h1v1h-1zM20 40h2v1h-2zM27 40h1v1h-1zM32 40h1v1h-1zM46 40h3v1h-3zM51 40h2v1h-2zM55 40h1v1h-1zM57 40h1v1h-1zM64 40h2v1h-2zM69 40h3v1h-3zM2 41h2v1h-2zM8 41h1v1h-1zM10 41h1v1h-1zM18 41h1v1h-1zM21 41h1v1h-1zM25 41h1v1h-1zM27 41h1v1h-1zM30 41h1v1h-1zM34 41h2v1h-2zM39 41h1v1h-1zM57 41h1v1h-1zM68 41h1v1h-1zM70 41h2v1h-2zM7 42h1v1h-1zM9 42h1v1h-1zM13 42h1v1h-1zM17 42h1v1h-1zM36 42h1v1h-1zM55 42h1v1h-1zM58 42h1v1h-1zM60 42h2v1h-2zM63 42h1v1h-1zM67 42h2v1h-2zM71 42h1v1h-1zM73 42h2v1h-2zM0 43h3v1h-3zM8 43h1v1h-1zM13 43h2v1h-2zM21 43h1v1h-1zM23 43h1v1h-1zM27 43h1v1h-1zM44 43h2v1h-2zM54 43h2v1h-2zM57 43h2v1h-2zM61 43h2v1h-2zM1 44h1v1h-1zM3 44h2v1h-2zM8 44h1v1h-1zM12 44h2v1h-2zM15 44h1v1h-1zM18 44h3v1h-3zM23 44h1v1h-1zM28 44h2v1h-2zM50 44h2v1h-2zM54 44h2v1h-2zM62 44h2v1h-2zM66 44h1v1h-1zM71 44h1v1h-1zM0 45h2v1h-2zM4 45h1v1h-1zM8 45h1v1h-1zM12 45h2v1h-2zM19 45h1v1h-1zM21 45h1v1h-1zM28 45h1v1h-1zM31 45h1v1h-1zM46 45h1v1h-1zM52 45h1v1h-1zM55 45h4v1h-4zM62 45h2v1h-2zM65 45h2v1h-2zM71 45h4v1h-4zM0 46h2v1h-2zM4 46h1v1h-1zM16 46h1v1h-1zM18 46h1v1h-1zM38 46h1v1h-1zM45 46h2v1h-2zM51 46h2v1h-2zM55 46h4v1h-4zM64 46h3v1h-3zM74 46h1v1h-1zM0 47h3v1h-3zM5 47h2v1h-2zM12 47h1v1h-1zM16 47h1v1h-1zM18 47h2v1h-2zM21 47h1v1h-1zM26 47h1v1h-1zM44 47h1v1h-1zM46 47h1v1h-1zM51 47h1v1h-1zM55 47h3v1h-3zM59 47h1v1h-1zM61 47h2v1h-2zM66 47h1v1h-1zM74 47h1v1h-1zM6 48h1v1h-1zM15 48h6v1h-6zM23 48h4v1h-4zM30 48h1v1h-1zM32 48h1v1h-1zM46 48h2v1h-2zM49 48h1v1h-1zM58 48h2v1h-2zM61 48h2v1h-2zM69 48h1v1h-1zM73 48h1v1h-1zM5 49h2v1h-2zM10 49h1v1h-1zM17 49h1v1h-1zM19 49h1v1h-1zM21 49h3v1h-3zM29 49h1v1h-1zM46 49h4v1h-4zM58 49h1v1h-1zM62 49h2v1h-2zM68 49h3v1h-3zM5 50h1v1h-1zM8 50h1v1h-1zM10 50h1v1h-1zM12 50h1v1h-1zM17 50h1v1h-1zM19 50h1v1h-1zM22 50h3v1h-3zM27 50h1v1h-1zM47 50h2v1h-2zM54 50h3v1h-3zM59 50h6v1h-6zM67 50h4v1h-4zM1 51h3v1h-3zM6 51h3v1h-3zM10 51h1v1h-1zM17 51h3v1h-3zM45 51h1v1h-1zM48 51h1v1h-1zM51 51h1v1h-1zM53 51h1v1h-1zM55 51h2v1h-2zM59 51h1v1h-1zM64 51h1v1h-1zM66 51h3v1h-3zM2 52h2v1h-2zM6 52h2v1h-2zM17 52h1v1h-1zM19 52h2v1h-2zM22 52h1v1h-1zM25 52h1v1h-1zM45 52h1v1h-1zM51 52h1v1h-1zM53 52h1v1h-1zM64 52h2v1h-2zM67 52h2v1h-2zM73 52h2v1h-2zM2 53h8v1h-8zM17 53h1v1h-1zM19 53h2v1h-2zM41 53h1v1h-1zM43 53h1v1h-1zM46 53h2v1h-2zM51 53h1v1h-1zM53 53h2v1h-2zM62 53h3v1h-3zM68 53h1v1h-1zM73 53h2v1h-2zM0 54h3v1h-3zM5 54h4v1h-4zM14 54h2v1h-2zM17 54h1v1h-1zM20 54h2v1h-2zM23 54h1v1h-1zM26 54h1v1h-1zM28 54h1v1h-1zM43 54h1v1h-1zM46 54h1v1h-1zM49 54h2v1h-2zM53 54h2v1h-2zM63 54h3v1h-3zM71 54h2v1h-2zM0 55h3v1h-3zM7 55h2v1h-2zM21 55h1v1h-1zM23 55h2v1h-2zM29 55h1v1h-1zM41 55h2v1h-2zM50 55h1v1h-1zM55 55h2v1h-2zM67 55h2v1h-2zM3 56h2v1h-2zM6 56h1v1h-1zM11 56h4v1h-4zM20 56h1v1h-1zM23 56h2v1h-2zM29 56h1v1h-1zM38 56h1v1h-1zM41 56h1v1h-1zM54 56h1v1h-1zM57 56h2v1h-2zM62 56h1v1h-1zM66 56h4v1h-4zM72 56h1v1h-1zM5 57h1v1h-1zM11 57h4v1h-4zM18 57h2v1h-2zM27 57h2v1h-2zM30 57h1v1h-1zM39 57h1v1h-1zM44 57h3v1h-3zM53 57h2v1h-2zM56 57h1v1h-1zM62 57h1v1h-1zM65 57h1v1h-1zM67 57h2v1h-2zM73 57h1v1h-1zM0 58h1v1h-1zM2 58h1v1h-1zM11 58h1v1h-1zM15 58h1v1h-1zM17 58h3v1h-3zM26 58h1v1h-1zM29 58h1v1h-1zM33 58h4v1h-4zM38 58h1v1h-1zM47 58h3v1h-3zM55 58h1v1h-1zM62 58h1v1h-1zM64 58h3v1h-3zM68 58h1v1h-1zM72 58h1v1h-1zM0 59h1v1h-1zM2 59h2v1h-2zM8 59h2v1h-2zM11 59h1v1h-1zM17 59h1v1h-1zM26 59h2v1h-2zM30 59h2v1h-2zM34 59h1v1h-1zM36 59h1v1h-1zM45 59h2v1h-2zM48 59h1v1h-1zM51 59h1v1h-1zM55 59h1v1h-1zM58 59h5v1h-5zM65 59h1v1h-1zM68 59h2v1h-2zM0 60h1v1h-1zM8 60h1v1h-1zM13 60h3v1h-3zM25 60h3v1h-3zM33 60h1v1h-1zM42 60h6v1h-6zM54 60h2v1h-2zM58 60h5v1h-5zM68 60h1v1h-1zM4 61h2v1h-2zM11 61h1v1h-1zM15 61h1v1h-1zM17 61h1v1h-1zM25 61h1v1h-1zM27 61h1v1h-1zM34 61h1v1h-1zM38 61h2v1h-2zM43 61h2v1h-2zM46 61h1v1h-1zM48 61h1v1h-1zM52 61h4v1h-4zM58 61h1v1h-1zM60 61h5v1h-5zM66 61h2v1h-2zM0 62h1v1h-1zM2 62h2v1h-2zM10 62h1v1h-1zM14 62h1v1h-1zM29 62h1v1h-1zM31 62h1v1h-1zM39 62h1v1h-1zM41 62h1v1h-1zM45 62h1v1h-1zM53 62h1v1h-1zM55 62h1v1h-1zM58 62h1v1h-1zM60 62h3v1h-3zM73 62h1v1h-1zM0 63h1v1h-1zM13 63h1v1h-1zM23 63h1v1h-1zM26 63h1v1h-1zM29 63h1v1h-1zM31 63h3v1h-3zM36 63h2v1h-2zM39 63h1v1h-1zM45 63h2v1h-2zM48 63h2v1h-2zM53 63h4v1h-4zM58 63h5v1h-5zM66 63h2v1h-2zM70 63h1v1h-1zM72 63h3v1h-3zM2 64h1v1h-1zM6 64h1v1h-1zM11 64h3v1h-3zM16 64h1v1h-1zM18 64h1v1h-1zM22 64h2v1h-2zM26 64h1v1h-1zM29 64h1v1h-1zM31 64h1v1h-1zM36 64h1v1h-1zM39 64h2v1h-2zM42 64h1v1h-1zM48 64h2v1h-2zM52 64h1v1h-1zM54 64h2v1h-2zM59 64h1v1h-1zM61 64h2v1h-2zM64 64h2v1h-2zM72 64h3v1h-3zM2 65h1v1h-1zM7 65h1v1h-1zM11 65h10v1h-10zM28 65h1v1h-1zM31 65h1v1h-1zM41 65h1v1h-1zM45 65h2v1h-2zM53 65h2v1h-2zM59 65h1v1h-1zM61 65h1v1h-1zM63 65h3v1h-3zM71 65h2v1h-2zM74 65h1v1h-1zM5 66h1v1h-1zM7 66h1v1h-1zM12 66h1v1h-1zM14 66h1v1h-1zM17 66h2v1h-2zM21 66h1v1h-1zM25 66h1v1h-1zM28 66h1v1h-1zM32 66h2v1h-2zM40 66h1v1h-1zM52 66h2v1h-2zM66 66h5v1h-5zM73 66h2v1h-2zM5 67h1v1h-1zM8 67h2v1h-2zM12 67h2v1h-2zM15 67h1v1h-1zM21 67h2v1h-2zM24 67h2v1h-2zM31 67h1v1h-1zM36 67h2v1h-2zM39 67h3v1h-3zM43 67h1v1h-1zM51 67h2v1h-2zM61 67h1v1h-1zM67 67h2v1h-2zM70 67h1v1h-1zM4 68h2v1h-2zM7 68h3v1h-3zM11 68h1v1h-1zM19 68h2v1h-2zM26 68h4v1h-4zM35 68h1v1h-1zM37 68h1v1h-1zM40 68h1v1h-1zM43 68h2v1h-2zM50 68h3v1h-3zM55 68h1v1h-1zM61 68h2v1h-2zM67 68h1v1h-1zM4 69h2v1h-2zM7 69h1v1h-1zM10 69h1v1h-1zM14 69h2v1h-2zM17 69h1v1h-1zM25 69h1v1h-1zM27 69h1v1h-1zM29 69h1v1h-1zM32 69h3v1h-3zM40 69h1v1h-1zM50 69h4v1h-4zM55 69h1v1h-1zM60 69h1v1h-1zM71 69h2v1h-2zM11 70h1v1h-1zM15 70h3v1h-3zM26 70h2v1h-2zM31 70h4v1h-4zM38 70h1v1h-1zM41 70h1v1h-1zM43 70h1v1h-1zM48 70h5v1h-5zM71 70h1v1h-1zM73 70h1v1h-1zM3 71h1v1h-1zM10 71h3v1h-3zM15 71h2v1h-2zM21 71h1v1h-1zM26 71h2v1h-2zM30 71h1v1h-1zM35 71h1v1h-1zM37 71h2v1h-2zM42 71h2v1h-2zM48 71h9v1h-9zM58 71h1v1h-1zM62 71h2v1h-2zM68 71h1v1h-1zM72 71h1v1h-1zM0 72h1v1h-1zM11 72h2v1h-2zM15 72h2v1h-2zM20 72h4v1h-4zM30 72h1v1h-1zM43 72h1v1h-1zM47 72h1v1h-1zM49 72h2v1h-2zM52 72h1v1h-1zM54 72h1v1h-1zM56 72h1v1h-1zM58 72h2v1h-2zM62 72h1v1h-1zM64 72h1v1h-1zM68 72h1v1h-1zM71 72h4v1h-4zM11 73h3v1h-3zM19 73h3v1h-3zM30 73h1v1h-1zM48 73h1v1h-1zM53 73h3v1h-3zM58 73h2v1h-2zM63 73h4v1h-4zM70 73h5v1h-5z"/>
<path fill="#6eb0d6" d="M0 0h1v1h-1zM2 0h1v1h-1zM15 0h1v1h-1zM19 0h1v1h-1zM36 0h2v1h-2zM41 0h2v1h-2zM50 0h3v1h-3zM61 0h1v1h-1zM0 1h1v1h-1zM8 1h1v1h-1zM14 1h2v1h-2zM19 1h1v1h-1zM36 1h2v1h-2zM41 1h2v1h-2zM50 1h1v1h-1zM61 1h2v1h-2zM5 2h4v1h-4zM22 2h1v1h-1zM42 2h1v1h-1zM66 2h1v1h-1zM5 3h3v1h-3zM21 3h2v1h-2zM24 3h2v1h-2zM30 3h2v1h-2zM55 3h3v1h-3zM3 4h1v1h-1zM15 4h1v1h-1zM24 4h2v1h-2zM31 4h3v1h-3zM37 4h1v1h-1zM56 4h3v1h-3zM3 5h2v1h-2zM22 5h3v1h-3zM36 5h2v1h-2zM54 5h1v1h-1zM56 5h1v1h-1zM71 5h2v1h-2zM3 6h2v1h-2zM11 6h1v1h-1zM22 6h2v1h-2zM72 6h2v1h-2zM5 7h1v1h-1zM11 7h3v1h-3zM46 7h1v1h-1zM59 7h1v1h-1zM69 7h1v1h-1zM5 8h2v1h-2zM8 8h1v1h-1zM14 8h2v1h-2zM25 8h1v1h-1zM43 8h1v1h-1zM51 8h2v1h-2zM5 9h1v1h-1zM8 9h2v1h-2zM15 9h1v1h-1zM24 9h1v1h-1zM43 9h2v1h-2zM50 9h3v1h-3zM58 9h1v1h-1zM71 9h1v1h-1zM8 10h1v1h-1zM12 10h1v1h-1zM19 10h1v1h-1zM24 10h1v1h-1zM37 10h2v1h-2zM50 10h3v1h-3zM62 10h1v1h-1zM71 10h2v1h-2zM74 10h1v1h-1zM8 11h1v1h-1zM11 11h2v1h-2zM18 11h2v1h-2zM37 11h1v1h-1zM47 11h1v1h-1zM50 11h4v1h-4zM62 11h1v1h-1zM70 11h2v1h-2zM73 11h2v1h-2zM1 12h2v1h-2zM31 12h1v1h-1zM40 12h1v1h-1zM43 12h1v1h-1zM47 12h1v1h-1zM51 12h3v1h-3zM58 12h1v1h-1zM69 12h1v1h-1zM71 12h2v1h-2zM74 12h1v1h-1zM23 13h1v1h-1zM43 13h2v1h-2zM47 13h1v1h-1zM51 13h2v1h-2zM56 13h3v1h-3zM8 14h1v1h-1zM20 14h2v1h-2zM31 14h1v1h-1zM43 14h1v1h-1zM52 14h1v1h-1zM7 15h4v1h-4zM32 15h1v1h-1zM49 15h1v1h-1zM51 15h1v1h-1zM54 15h4v1h-4zM35 16h1v1h-1zM39 16h1v1h-1zM49 16h1v1h-1zM54 16h2v1h-2zM58 16h1v1h-1zM33 17h1v1h-1zM39 17h1v1h-1zM54 17h1v1h-1zM70 17h1v1h-1zM74 17h1v1h-1zM7 18h1v1h-1zM9 18h1v1h-1zM12 18h1v1h-1zM73 18h2v1h-2zM3 19h5v1h-5zM23 19h1v1h-1zM26 19h1v1h-1zM28 19h1v1h-1zM49 19h1v1h-1zM60 19h2v1h-2zM3 20h4v1h-4zM18 20h1v1h-1zM25 20h1v1h-1zM31 20h1v1h-1zM33 20h1v1h-1zM49 20h1v1h-1zM3 21h2v1h-2zM17 21h1v1h-1zM24 21h1v1h-1zM53 21h1v1h-1zM70 21h1v1h-1zM4 22h1v1h-1zM48 22h1v1h-1zM52 22h2v1h-2zM57 22h2v1h-2zM74 22h1v1h-1zM44 23h1v1h-1zM47 23h1v1h-1zM64 23h1v1h-1zM68 23h1v1h-1zM19 24h1v1h-1zM40 24h1v1h-1zM51 24h2v1h-2zM64 24h5v1h-5zM9 25h2v1h-2zM18 25h1v1h-1zM25 25h1v1h-1zM36 25h1v1h-1zM52 25h1v1h-1zM63 25h1v1h-1zM65 25h2v1h-2zM70 25h1v1h-1zM4 26h1v1h-1zM9 26h5v1h-5zM39 26h2v1h-2zM49 26h3v1h-3zM63 26h1v1h-1zM65 26h2v1h-2zM4 27h1v1h-1zM13 27h1v1h-1zM16 27h2v1h-2zM26 27h1v1h-1zM45 27h1v1h-1zM48 27h1v1h-1zM51 27h1v1h-1zM54 27h1v1h-1zM62 27h1v1h-1zM73 27h1v1h-1zM17 28h2v1h-2zM21 28h2v1h-2zM28 28h1v1h-1zM46 28h1v1h-1zM51 28h1v1h-1zM54 28h1v1h-1zM57 28h1v1h-1zM60 28h2v1h-2zM4 29h2v1h-2zM10 29h1v1h-1zM16 29h6v1h-6zM33 29h1v1h-1zM50 29h1v1h-1zM52 29h1v1h-1zM54 29h2v1h-2zM69 29h1v1h-1zM3 30h3v1h-3zM10 30h1v1h-1zM15 30h1v1h-1zM18 30h1v1h-1zM21 30h1v1h-1zM25 30h2v1h-2zM50 30h1v1h-1zM54 30h2v1h-2zM67 30h2v1h-2zM18 31h1v1h-1zM34 31h2v1h-2zM51 31h1v1h-1zM63 31h1v1h-1zM67 31h2v1h-2zM72 31h1v1h-1zM32 32h1v1h-1zM42 32h1v1h-1zM55 32h1v1h-1zM58 32h1v1h-1zM61 32h1v1h-1zM71 32h3v1h-3zM29 33h1v1h-1zM33 33h1v1h-1zM40 33h1v1h-1zM43 33h1v1h-1zM47 33h1v1h-1zM50 33h1v1h-1zM55 33h2v1h-2zM61 33h2v1h-2zM0 34h2v1h-2zM16 34h2v1h-2zM19 34h2v1h-2zM24 34h1v1h-1zM55 34h2v1h-2zM61 34h1v1h-1zM0 35h2v1h-2zM3 35h1v1h-1zM11 35h1v1h-1zM18 35h2v1h-2zM22 35h1v1h-1zM37 35h1v1h-1zM39 35h1v1h-1zM41 35h1v1h-1zM52 35h1v1h-1zM61 35h2v1h-2zM66 35h2v1h-2zM69 35h2v1h-2zM3 36h3v1h-3zM8 36h1v1h-1zM11 36h1v1h-1zM13 36h1v1h-1zM21 36h1v1h-1zM34 36h1v1h-1zM47 36h1v1h-1zM52 36h2v1h-2zM55 36h3v1h-3zM61 36h1v1h-1zM66 36h5v1h-5zM4 37h1v1h-1zM37 37h1v1h-1zM43 37h2v1h-2zM52 37h1v1h-1zM57 37h3v1h-3zM61 37h1v1h-1zM65 37h2v1h-2zM68 37h3v1h-3zM73 37h1v1h-1zM4 38h1v1h-1zM14 38h2v1h-2zM31 38h1v1h-1zM50 38h1v1h-1zM52 38h1v1h-1zM56 38h1v1h-1zM61 38h1v1h-1zM65 38h1v1h-1zM68 38h3v1h-3zM72 38h2v1h-2zM4 39h1v1h-1zM24 39h1v1h-1zM49 39h2v1h-2zM53 39h1v1h-1zM68 39h6v1h-6zM5 40h1v1h-1zM13 40h1v1h-1zM15 40h2v1h-2zM25 40h1v1h-1zM45 40h1v1h-1zM49 40h2v1h-2zM53 40h2v1h-2zM72 40h2v1h-2zM16 41h1v1h-1zM24 41h1v1h-1zM31 41h1v1h-1zM44 41h2v1h-2zM47 41h1v1h-1zM54 41h1v1h-1zM62 41h2v1h-2zM65 41h2v1h-2zM11 42h1v1h-1zM22 42h1v1h-1zM30 42h2v1h-2zM34 42h2v1h-2zM37 42h1v1h-1zM50 42h3v1h-3zM65 42h2v1h-2zM69 42h1v1h-1zM22 43h1v1h-1zM26 43h1v1h-1zM30 43h1v1h-1zM46 43h1v1h-1zM49 43h1v1h-1zM68 43h2v1h-2zM72 43h1v1h-1zM30 44h1v1h-1zM34 44h2v1h-2zM45 44h1v1h-1zM68 44h1v1h-1zM23 45h1v1h-1zM49 45h1v1h-1zM60 45h1v1h-1zM68 45h1v1h-1zM9 46h3v1h-3zM34 46h1v1h-1zM50 46h1v1h-1zM60 46h1v1h-1zM68 46h3v1h-3zM8 47h2v1h-2zM22 47h2v1h-2zM53 47h2v1h-2zM64 47h1v1h-1zM67 47h1v1h-1zM69 47h2v1h-2zM2 48h3v1h-3zM11 48h1v1h-1zM13 48h1v1h-1zM21 48h2v1h-2zM28 48h1v1h-1zM52 48h1v1h-1zM55 48h2v1h-2zM64 48h4v1h-4zM0 49h3v1h-3zM28 49h1v1h-1zM34 49h1v1h-1zM54 49h3v1h-3zM65 49h1v1h-1zM72 49h1v1h-1zM13 50h1v1h-1zM16 50h1v1h-1zM28 50h1v1h-1zM46 50h1v1h-1zM50 50h1v1h-1zM52 50h1v1h-1zM72 50h1v1h-1zM13 51h4v1h-4zM20 51h2v1h-2zM69 51h3v1h-3zM0 52h1v1h-1zM13 52h3v1h-3zM26 52h1v1h-1zM29 52h1v1h-1zM33 52h1v1h-1zM42 52h1v1h-1zM44 52h1v1h-1zM50 52h1v1h-1zM69 52h3v1h-3zM18 53h1v1h-1zM27 53h5v1h-5zM49 53h1v1h-1zM61 53h1v1h-1zM67 53h1v1h-1zM69 53h2v1h-2zM10 54h1v1h-1zM12 54h1v1h-1zM29 54h3v1h-3zM52 54h1v1h-1zM55 54h2v1h-2zM58 54h1v1h-1zM61 54h1v1h-1zM13 55h1v1h-1zM16 55h1v1h-1zM27 55h1v1h-1zM31 55h1v1h-1zM40 55h1v1h-1zM43 55h2v1h-2zM47 55h2v1h-2zM51 55h2v1h-2zM62 55h1v1h-1zM70 55h1v1h-1zM9 56h1v1h-1zM17 56h1v1h-1zM27 56h2v1h-2zM31 56h1v1h-1zM39 56h2v1h-2zM46 56h1v1h-1zM49 56h1v1h-1zM51 56h1v1h-1zM0 57h2v1h-2zM7 57h4v1h-4zM21 57h2v1h-2zM25 57h1v1h-1zM35 57h2v1h-2zM51 57h1v1h-1zM4 58h4v1h-4zM10 58h1v1h-1zM13 58h1v1h-1zM23 58h3v1h-3zM43 58h1v1h-1zM59 58h1v1h-1zM74 58h1v1h-1zM5 59h3v1h-3zM13 59h1v1h-1zM18 59h2v1h-2zM21 59h3v1h-3zM39 59h1v1h-1zM43 59h1v1h-1zM63 59h1v1h-1zM72 59h3v1h-3zM7 60h1v1h-1zM21 60h2v1h-2zM31 60h2v1h-2zM34 60h1v1h-1zM39 60h2v1h-2zM50 60h1v1h-1zM63 60h1v1h-1zM72 60h3v1h-3zM7 61h1v1h-1zM19 61h5v1h-5zM28 61h4v1h-4zM35 61h2v1h-2zM6 62h3v1h-3zM12 62h1v1h-1zM24 62h2v1h-2zM4 63h1v1h-1zM7 63h2v1h-2zM27 63h1v1h-1zM35 63h1v1h-1zM44 63h1v1h-1zM64 63h1v1h-1zM3 64h1v1h-1zM8 64h2v1h-2zM24 64h1v1h-1zM34 64h1v1h-1zM38 64h1v1h-1zM58 64h1v1h-1zM67 64h2v1h-2zM0 65h1v1h-1zM22 65h1v1h-1zM24 65h1v1h-1zM34 65h1v1h-1zM36 65h3v1h-3zM43 65h1v1h-1zM50 65h2v1h-2zM67 65h2v1h-2zM0 66h3v1h-3zM35 66h2v1h-2zM38 66h1v1h-1zM42 66h2v1h-2zM49 66h2v1h-2zM55 66h2v1h-2zM0 67h3v1h-3zM34 67h1v1h-1zM47 67h1v1h-1zM63 67h3v1h-3zM72 67h1v1h-1zM0 68h4v1h-4zM16 68h2v1h-2zM30 68h1v1h-1zM38 68h2v1h-2zM48 68h1v1h-1zM64 68h3v1h-3zM68 68h2v1h-2zM72 68h3v1h-3zM1 69h3v1h-3zM12 69h1v1h-1zM22 69h2v1h-2zM37 69h3v1h-3zM47 69h2v1h-2zM57 69h1v1h-1zM64 69h1v1h-1zM68 69h2v1h-2zM1 70h3v1h-3zM5 70h2v1h-2zM8 70h2v1h-2zM18 70h7v1h-7zM36 70h1v1h-1zM40 70h1v1h-1zM55 70h1v1h-1zM59 70h2v1h-2zM64 70h1v1h-1zM67 70h3v1h-3zM0 71h3v1h-3zM6 71h1v1h-1zM18 71h2v1h-2zM22 71h4v1h-4zM40 71h1v1h-1zM45 71h2v1h-2zM60 71h1v1h-1zM64 71h4v1h-4zM5 72h4v1h-4zM17 72h2v1h-2zM25 72h1v1h-1zM32 72h1v1h-1zM34 72h5v1h-5zM40 72h2v1h-2zM45 72h2v1h-2zM60 72h1v1h-1zM3 73h4v1h-4zM8 73h2v1h-2zM14 73h1v1h-1zM16 73h2v1h-2zM28 73h2v1h-2zM34 73h5v1h-5zM41 73h6v1h-6z"/>
<path fill="#69acd4" d="M32 14h1v1h-1zM26 18h3v1h-3zM27 19h1v1h-1zM35 19h1v1h-1zM50 19h1v1h-1zM23 20h2v1h-2zM35 20h1v1h-1zM31 21h1v1h-1zM38 21h1v1h-1zM44 22h1v1h-1zM48 23h1v1h-1zM36 24h1v1h-1zM33 25h1v1h-1zM50 25h2v1h-2zM22 26h1v1h-1zM48 26h1v1h-1zM19 28h2v1h-2zM26 28h2v1h-2zM34 29h1v1h-1zM51 29h1v1h-1zM16 30h2v1h-2zM33 30h1v1h-1zM35 30h1v1h-1zM26 31h1v1h-1zM36 31h1v1h-1zM50 31h1v1h-1zM18 32h2v1h-2zM29 32h2v1h-2zM34 32h2v1h-2zM18 33h1v1h-1zM24 33h1v1h-1zM31 33h1v1h-1zM41 33h1v1h-1zM18 34h1v1h-1zM47 34h1v1h-1zM50 34h1v1h-1zM12 35h1v1h-1zM16 35h2v1h-2zM20 35h2v1h-2zM47 35h1v1h-1zM49 35h1v1h-1zM55 35h2v1h-2zM12 36h1v1h-1zM37 36h1v1h-1zM43 36h1v1h-1zM54 36h1v1h-1zM14 37h1v1h-1zM49 37h1v1h-1zM44 38h1v1h-1zM46 38h3v1h-3zM39 39h1v1h-1zM14 40h1v1h-1zM23 40h1v1h-1zM22 41h1v1h-1zM32 41h1v1h-1zM51 41h1v1h-1zM53 41h1v1h-1zM46 42h1v1h-1zM37 43h1v1h-1zM43 43h1v1h-1zM27 44h1v1h-1zM31 44h1v1h-1zM37 44h1v1h-1zM46 44h1v1h-1zM26 45h1v1h-1zM29 45h2v1h-2zM34 45h1v1h-1zM22 46h2v1h-2zM44 46h1v1h-1zM32 47h1v1h-1zM47 47h1v1h-1zM44 48h1v1h-1zM53 48h2v1h-2zM35 49h1v1h-1zM45 49h1v1h-1zM51 49h1v1h-1zM29 50h1v1h-1zM51 50h1v1h-1zM27 51h1v1h-1zM44 51h1v1h-1zM27 52h2v1h-2zM41 52h1v1h-1zM49 52h1v1h-1zM44 53h1v1h-1zM44 54h1v1h-1zM39 55h1v1h-1zM47 56h2v1h-2zM32 57h3v1h-3zM35 60h2v1h-2z"/>
<path fill="#64a8d3" d="M34 16h1v1h-1zM38 25h1v1h-1zM40 25h1v1h-1zM33 26h1v1h-1zM41 26h1v1h-1zM35 29h1v1h-1zM30 30h1v1h-1zM34 30h1v1h-1zM51 30h2v1h-2zM31 32h1v1h-1zM19 33h1v1h-1zM30 33h1v1h-1zM32 33h1v1h-1zM42 33h1v1h-1zM48 35h1v1h-1zM38 36h1v1h-1zM44 36h1v1h-1zM48 36h2v1h-2zM36 38h1v1h-1zM49 38h1v1h-1zM31 39h1v1h-1zM46 41h1v1h-1zM49 41h2v1h-2zM52 41h1v1h-1zM32 42h1v1h-1zM48 42h2v1h-2zM34 43h2v1h-2zM41 43h1v1h-1zM25 44h1v1h-1zM44 44h1v1h-1zM27 45h1v1h-1zM37 45h1v1h-1zM43 45h1v1h-1zM47 45h2v1h-2zM35 46h1v1h-1zM47 46h1v1h-1zM49 46h1v1h-1zM34 47h1v1h-1zM49 47h1v1h-1zM31 48h1v1h-1zM30 49h1v1h-1zM45 50h1v1h-1zM43 51h1v1h-1zM30 52h1v1h-1zM40 54h1v1h-1zM38 55h1v1h-1zM32 56h1v1h-1zM37 56h1v1h-1z"/>
<path fill="#5fa5d1" d="M39 20h1v1h-1zM31 23h2v1h-2zM29 24h2v1h-2zM37 25h1v1h-1zM39 25h1v1h-1zM29 31h1v1h-1zM41 32h1v1h-1zM43 34h1v1h-1zM38 35h1v1h-1zM43 35h1v1h-1zM33 36h1v1h-1zM38 37h1v1h-1zM43 38h1v1h-1zM38 39h1v1h-1zM24 40h1v1h-1zM23 41h1v1h-1zM39 42h1v1h-1zM47 42h1v1h-1zM31 43h1v1h-1zM36 43h1v1h-1zM48 43h1v1h-1zM48 44h1v1h-1zM32 45h1v1h-1zM36 45h1v1h-1zM44 45h1v1h-1zM43 46h1v1h-1zM48 46h1v1h-1zM43 47h1v1h-1zM48 47h1v1h-1zM33 48h1v1h-1zM43 48h1v1h-1zM32 49h1v1h-1zM43 49h1v1h-1zM39 50h1v1h-1zM30 51h1v1h-1zM31 52h1v1h-1zM38 52h1v1h-1zM32 55h1v1h-1zM35 56h1v1h-1z"/>
<path fill="#5aa1cf" d="M29 21h2v1h-2zM35 21h2v1h-2zM41 27h1v1h-1zM30 31h1v1h-1zM30 34h1v1h-1zM42 34h1v1h-1zM42 35h1v1h-1zM38 42h1v1h-1zM33 43h1v1h-1zM42 43h1v1h-1zM47 43h1v1h-1zM26 44h1v1h-1zM33 44h1v1h-1zM36 44h1v1h-1zM41 44h3v1h-3zM47 44h1v1h-1zM33 45h1v1h-1zM32 46h2v1h-2zM33 47h1v1h-1zM31 49h1v1h-1zM42 49h1v1h-1zM44 49h1v1h-1zM43 50h2v1h-2zM32 53h1v1h-1zM39 53h2v1h-2zM32 54h1v1h-1zM37 54h3v1h-3zM33 56h2v1h-2zM36 56h1v1h-1z"/>
<path fill="#559dcd" d="M38 38h1v1h-1zM36 39h2v1h-2zM32 44h1v1h-1zM40 48h3v1h-3zM33 49h1v1h-1zM32 50h1v1h-1zM42 50h1v1h-1zM42 51h1v1h-1zM33 55h1v1h-1zM37 55h1v1h-1z"/>
<path fill="#5199cb" d="M37 22h1v1h-1zM37 38h1v1h-1zM32 43h1v1h-1zM40 43h1v1h-1zM40 45h1v1h-1zM30 50h2v1h-2zM41 50h1v1h-1zM31 51h2v1h-2zM41 51h1v1h-1zM40 52h1v1h-1zM35 55h2v1h-2z"/>
<path fill="#4c95ca" d="M38 44h1v1h-1zM39 52h1v1h-1zM34 54h1v1h-1zM34 55h1v1h-1z"/>
<path fill="#4892c8" d="M38 17h1v1h-1zM36 22h1v1h-1zM38 43h2v1h-2zM40 44h1v1h-1zM33 50h1v1h-1zM36 54h1v1h-1z"/>
<path fill="#448ec6" d="M32 22h1v1h-1zM36 53h1v1h-1zM35 54h1v1h-1z"/>
<path fill="#418ac4" d="M34 48h1v1h-1zM33 51h1v1h-1z"/>
<path fill="#3d86c2" d="M39 44h1v1h-1zM36 47h1v1h-1zM40 47h3v1h-3zM37 49h1v1h-1zM41 49h1v1h-1z"/>
<path fill="#3a82c0" d="M34 19h1v1h-1zM41 45h2v1h-2zM38 48h2v1h-2zM36 50h1v1h-1zM34 53h1v1h-1zM37 53h1v1h-1zM33 54h1v1h-1z"/>
<path fill="#367ebe" d="M35 23h1v1h-1z"/>
<path fill="#327abc" d="M40 46h3v1h-3zM34 50h1v1h-1z"/>
<path fill="#2f76ba" d="M39 46h1v1h-1zM40 50h1v1h-1zM37 52h1v1h-1z"/>
<path fill="#2c72b7" d="M40 49h1v1h-1zM34 51h2v1h-2z"/>
<path fill="#2a6eb4" d="M34 20h1v1h-1zM35 47h1v1h-1z"/>
<path fill="#286bb1" d="M33 22h1v1h-1zM35 50h1v1h-1zM35 53h1v1h-1z"/>
<path fill="#2363ab" d="M34 21h1v1h-1zM37 47h1v1h-1zM36 49h1v1h-1z"/>
<path fill="#1f5ba5" d="M35 22h1v1h-1zM34 24h1v1h-1z"/>
<path fill="#1a4f98" d="M38 49h2v1h-2z"/>
<path fill="#194b93" d="M33 23h1v1h-1zM35 48h3v1h-3zM36 51h1v1h-1z"/>
<path fill="#18478d" d="M34 22h1v1h-1zM34 23h1v1h-1zM38 47h2v1h-2zM37 50h2v1h-2zM37 51h2v1h-2zM34 52h3v1h-3zM33 53h1v1h-1z"/>
</g></g></g>
<line x1="192.60" y1="1131.10" x2="784.50" y2="1131.10" stroke="#12334a" stroke-width="1.40" stroke-opacity="0.95"/>
<line x1="192.00" y1="1165.50" x2="784.50" y2="1165.50" stroke="#12334a" stroke-width="1.40" stroke-opacity="0.95"/>
<line x1="452.00" y1="855.00" x2="452.00" y2="1445.00" stroke="#12334a" stroke-width="1.10" stroke-opacity="0.95"/>
<line x1="483.80" y1="855.00" x2="483.80" y2="1445.00" stroke="#12334a" stroke-width="1.10" stroke-opacity="0.95"/>
<g clip-path="url(#cbb)"><g filter="url(#hot)">
<rect x="182" y="844" width="170" height="170" fill="#000"/>
<g fill="#fff" transform="translate(192 854.7)">
<ellipse cx="73" cy="73" rx="28" ry="64" opacity="0.27" filter="url(#b10)"/>
<ellipse cx="71.7" cy="39" rx="16" ry="25" opacity="0.40" filter="url(#b6)" transform="rotate(25 71.7 39)"/>
<ellipse cx="75.4" cy="104.7" rx="17" ry="22" opacity="0.40" filter="url(#b6)" transform="rotate(30 75.4 104.7)"/>
<ellipse cx="71.7" cy="39" rx="10" ry="17" opacity="0.92" filter="url(#b4)" transform="rotate(25 71.7 39)"/>
<ellipse cx="75.4" cy="104.7" rx="10.5" ry="13.5" opacity="0.92" filter="url(#b4)" transform="rotate(30 75.4 104.7)"/>
<ellipse cx="53.7" cy="76.5" rx="10" ry="7" opacity="0.50" filter="url(#b5)" transform="rotate(-35 53.7 76.5)"/>
<ellipse cx="92.2" cy="66.3" rx="10" ry="7" opacity="0.50" filter="url(#b5)" transform="rotate(-35 92.2 66.3)"/>
</g></g></g>
<rect x="107.8" y="855.0" width="54.1" height="587.1" fill="url(#cb)" stroke="#000" stroke-width="1.5"/>
<line x1="100.60" y1="856.00" x2="107.80" y2="856.00" stroke="#000" stroke-width="2.00"/>
<text x="95.30" y="867.00" font-size="30.80" text-anchor="end" >2</text>
<line x1="100.60" y1="978.50" x2="107.80" y2="978.50" stroke="#000" stroke-width="2.00"/>
<text x="95.30" y="989.50" font-size="30.80" text-anchor="end" >0</text>
<line x1="100.60" y1="1101.50" x2="107.80" y2="1101.50" stroke="#000" stroke-width="2.00"/>
<text x="95.30" y="1112.50" font-size="30.80" text-anchor="end" >-2</text>
<line x1="100.60" y1="1223.60" x2="107.80" y2="1223.60" stroke="#000" stroke-width="2.00"/>
<text x="95.30" y="1234.60" font-size="30.80" text-anchor="end" >-4</text>
<line x1="100.60" y1="1346.00" x2="107.80" y2="1346.00" stroke="#000" stroke-width="2.00"/>
<text x="95.30" y="1357.00" font-size="30.80" text-anchor="end" >-6</text>
<text x="51.00" y="1165.50" font-size="30.80" text-anchor="middle" transform="rotate(-90 51.00 1165.50)" letter-spacing="0">Δ<tspan font-style="italic">I</tspan>/<tspan font-style="italic">I</tspan><tspan font-size="70%" dy="6.5">0</tspan><tspan dy="-6.5"> (%)</tspan></text>
<text x="2.60" y="880.40" font-size="54.50" text-anchor="start" font-weight="bold" letter-spacing="0">b</text>
<polyline fill="none" stroke="#000" stroke-width="2.40" stroke-linejoin="round" stroke-linecap="butt"  points="1009.1,858.3 1009.1,867.0 1012.0,875.3 1010.1,883.7 1011.3,892.0 1012.9,900.4 1014.4,908.7 1013.9,917.1 1013.5,925.4 1010.1,933.0 1004.4,940.6 1013.9,948.9 1015.0,957.0 1023.8,965.2 1019.2,973.1 1005.1,981.5 1015.4,989.8 1018.2,997.9 1008.6,1006.2 979.0,1014.6 969.9,1022.6 935.0,1030.8 917.5,1038.9 932.7,1047.2 969.9,1055.6 968.7,1063.2 955.5,1071.5 1009.4,1087.7 993.9,1096.1 994.2,1104.0 1016.2,1120.4 1013.2,1128.8 1010.1,1137.1 1016.2,1145.5 1014.7,1153.5 1016.2,1161.9 1020.0,1169.8 1014.7,1177.8 1004.8,1186.0 1020.0,1202.7 1015.4,1210.8 1005.6,1219.0 1005.6,1227.0 996.0,1235.1 1025.8,1243.3 1009.4,1251.3 984.3,1259.7 989.6,1268.0 939.5,1275.9 921.0,1284.3 982.8,1292.6 982.8,1301.0 991.9,1309.0 1023.8,1317.4 1019.2,1325.3 999.5,1333.4 992.4,1341.7 1010.1,1349.9 998.0,1358.0 1003.3,1366.3 1010.1,1374.6 1020.8,1382.7 1014.7,1390.9 1009.4,1398.9 1006.0,1407.0 1008.3,1415.3 1010.4,1423.5 1008.2,1431.9 1010.1,1440.7"/>
<rect x="911.80" y="853.90" width="119.40" height="590.90" fill="none" stroke="#000" stroke-width="1.80"/>
<line x1="904.80" y1="1021.90" x2="911.80" y2="1021.90" stroke="#000" stroke-width="2.00"/>
<text x="893.00" y="1033.20" font-size="30.80" text-anchor="end" >150</text>
<line x1="904.80" y1="1154.70" x2="911.80" y2="1154.70" stroke="#000" stroke-width="2.00"/>
<text x="893.00" y="1166.00" font-size="30.80" text-anchor="end" >0</text>
<line x1="904.80" y1="1301.00" x2="911.80" y2="1301.00" stroke="#000" stroke-width="2.00"/>
<text x="893.00" y="1312.30" font-size="30.80" text-anchor="end" >-150</text>
<line x1="918.30" y1="1444.80" x2="918.30" y2="1453.30" stroke="#000" stroke-width="2.00"/>
<text x="919.50" y="1488.00" font-size="30.80" text-anchor="middle" >-4</text>
<line x1="964.90" y1="1444.80" x2="964.90" y2="1453.30" stroke="#000" stroke-width="2.00"/>
<text x="966.10" y="1488.00" font-size="30.80" text-anchor="middle" >-2</text>
<line x1="1011.30" y1="1444.80" x2="1011.30" y2="1453.30" stroke="#000" stroke-width="2.00"/>
<text x="1012.50" y="1488.00" font-size="30.80" text-anchor="middle" >0</text>
<text x="964.00" y="1528.50" font-size="30.80" text-anchor="middle" letter-spacing="0">Δ<tspan font-style="italic">I</tspan>/<tspan font-style="italic">I</tspan><tspan font-size="70%" dy="6.5">0</tspan><tspan dy="-6.5"> (%)</tspan></text>
<text x="820.00" y="1155.60" font-size="30.80" text-anchor="middle" transform="rotate(-90 820.00 1155.60)" >Momentum (μm<tspan font-size="70%" dy="-11">-1</tspan><tspan dy="11">)</tspan></text>
<polyline fill="none" stroke="#000" stroke-width="2.40" stroke-linejoin="round" stroke-linecap="butt"  points="197.2,1590.7 206.5,1595.1 214.7,1586.5 223.2,1597.0 231.4,1598.3 239.7,1600.4 247.9,1588.4 256.0,1577.0 264.4,1589.4 272.5,1584.1 281.1,1589.4 289.2,1592.2 297.6,1589.0 305.7,1590.3 313.9,1578.5 322.3,1578.0 330.4,1578.9 339.0,1596.6 347.1,1601.7 355.5,1580.8 363.8,1586.5 372.2,1583.7 380.3,1570.4 388.5,1571.3 397.1,1554.3 405.0,1498.3 413.8,1508.7 421.7,1548.6 429.9,1551.4 438.3,1567.5 446.4,1554.8 454.6,1573.2 462.9,1563.4 471.5,1563.4 479.6,1579.5 487.8,1597.5 496.1,1577.0 504.3,1584.1 512.8,1591.6 520.8,1585.0 529.3,1563.7 537.5,1564.7 546.0,1565.1 554.2,1545.7 562.5,1569.1 570.7,1607.4 578.9,1606.4 586.7,1596.3 595.0,1587.7 603.4,1579.6 611.7,1586.6 620.1,1572.0 628.4,1583.1 636.8,1595.0 645.1,1587.3 653.5,1583.1 661.4,1589.4 669.8,1599.4 677.9,1591.0 686.3,1593.1 694.6,1575.8 703.0,1575.8 711.3,1584.8 719.2,1580.0 727.6,1587.9 735.9,1585.6 744.9,1581.4"/>
<rect x="192.80" y="1492.40" width="593.70" height="119.30" fill="none" stroke="#000" stroke-width="1.80"/>
<line x1="325.10" y1="1611.70" x2="325.10" y2="1620.20" stroke="#000" stroke-width="2.00"/>
<text x="326.30" y="1645.50" font-size="30.80" text-anchor="middle" >-150</text>
<line x1="471.50" y1="1611.70" x2="471.50" y2="1620.20" stroke="#000" stroke-width="2.00"/>
<text x="472.70" y="1645.50" font-size="30.80" text-anchor="middle" >0</text>
<line x1="604.00" y1="1611.70" x2="604.00" y2="1620.20" stroke="#000" stroke-width="2.00"/>
<text x="605.20" y="1645.50" font-size="30.80" text-anchor="middle" >150</text>
<line x1="185.80" y1="1512.80" x2="192.80" y2="1512.80" stroke="#000" stroke-width="2.00"/>
<text x="184.80" y="1524.10" font-size="30.80" text-anchor="end" >1</text>
<line x1="185.80" y1="1584.40" x2="192.80" y2="1584.40" stroke="#000" stroke-width="2.00"/>
<text x="184.80" y="1595.70" font-size="30.80" text-anchor="end" >0</text>
<text x="132.00" y="1552.00" font-size="30.80" text-anchor="middle" transform="rotate(-90 132.00 1552.00)" letter-spacing="0">Δ<tspan font-style="italic">I</tspan>/<tspan font-style="italic">I</tspan><tspan font-size="70%" dy="6.5">0</tspan><tspan dy="-6.5"> (%)</tspan></text>
<text x="470.00" y="1690.00" font-size="30.80" text-anchor="middle" >Momentum (μm<tspan font-size="70%" dy="-11">-1</tspan><tspan dy="11">)</tspan></text>
</svg></body></html>
